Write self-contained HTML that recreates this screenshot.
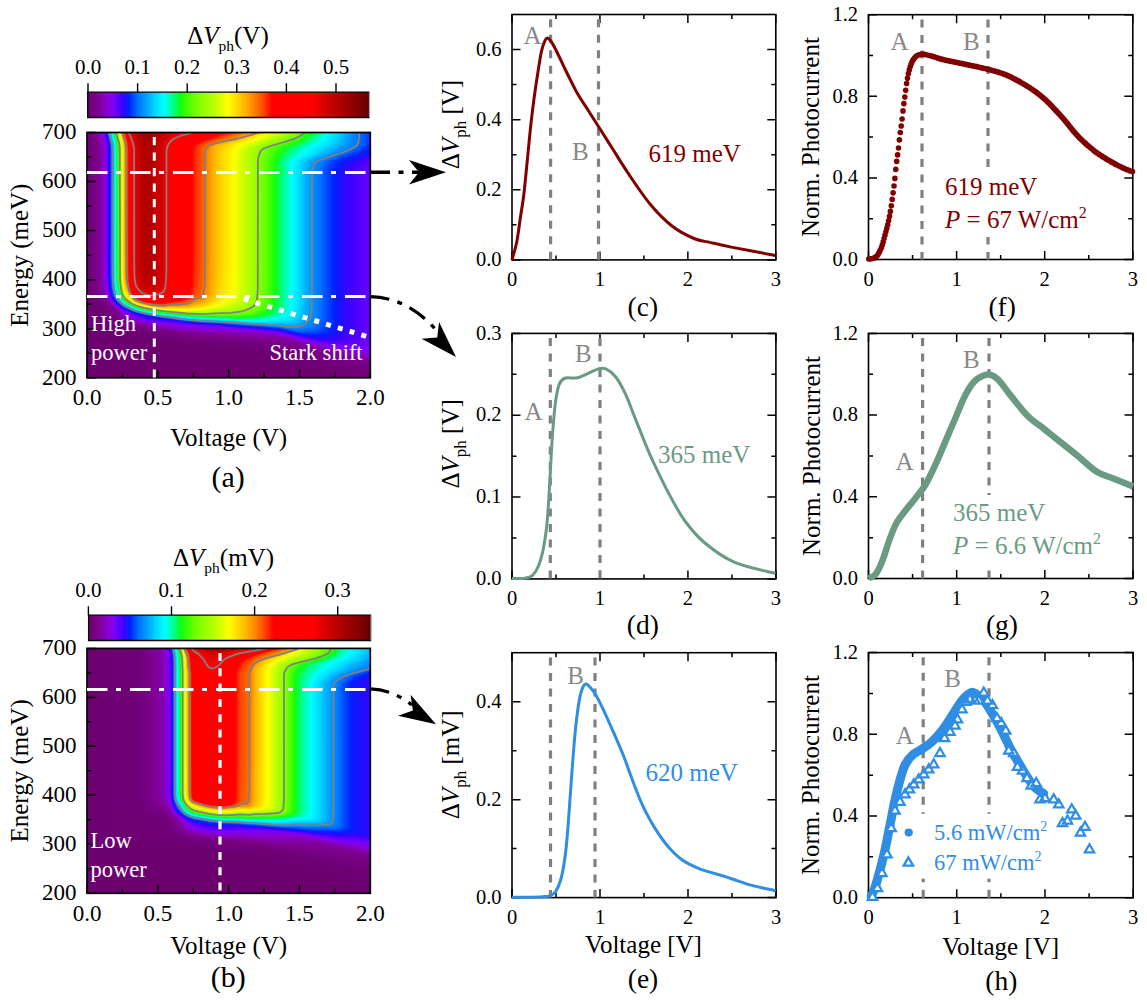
<!DOCTYPE html><html><head><meta charset="utf-8"><style>html,body{margin:0;padding:0;background:#fff;}svg{display:block;font-family:"Liberation Serif",serif;}</style></head><body><svg width="1147" height="1000" viewBox="0 0 1147 1000" font-family='"Liberation Serif", serif'><rect width="1147" height="1000" fill="#fff"/><defs><linearGradient id="hag" gradientUnits="userSpaceOnUse" x1="87" y1="0" x2="370.3" y2="0"><stop offset="0.0000" stop-color="#000000"/><stop offset="0.0212" stop-color="#040404"/><stop offset="0.0477" stop-color="#0c0c0c"/><stop offset="0.0653" stop-color="#141414"/><stop offset="0.0724" stop-color="#1a1a1a"/><stop offset="0.0838" stop-color="#292929"/><stop offset="0.0909" stop-color="#343434"/><stop offset="0.1050" stop-color="#505050"/><stop offset="0.1138" stop-color="#616161"/><stop offset="0.1200" stop-color="#707070"/><stop offset="0.1288" stop-color="#888888"/><stop offset="0.1333" stop-color="#919191"/><stop offset="0.1447" stop-color="#a2a2a2"/><stop offset="0.1535" stop-color="#b4b4b4"/><stop offset="0.1624" stop-color="#c6c6c6"/><stop offset="0.1685" stop-color="#cfcfcf"/><stop offset="0.1783" stop-color="#d8d8d8"/><stop offset="0.1888" stop-color="#dedede"/><stop offset="0.2030" stop-color="#e3e3e3"/><stop offset="0.2233" stop-color="#e3e3e3"/><stop offset="0.2400" stop-color="#dfdfdf"/><stop offset="0.2647" stop-color="#d7d7d7"/><stop offset="0.2736" stop-color="#d2d2d2"/><stop offset="0.2859" stop-color="#c8c8c8"/><stop offset="0.3027" stop-color="#c0c0c0"/><stop offset="0.3609" stop-color="#acacac"/><stop offset="0.3795" stop-color="#a3a3a3"/><stop offset="0.4086" stop-color="#9c9c9c"/><stop offset="0.4386" stop-color="#919191"/><stop offset="0.4686" stop-color="#898989"/><stop offset="0.5162" stop-color="#7f7f7f"/><stop offset="0.5780" stop-color="#6f6f6f"/><stop offset="0.5965" stop-color="#696969"/><stop offset="0.6115" stop-color="#646464"/><stop offset="0.6380" stop-color="#5c5c5c"/><stop offset="0.6671" stop-color="#535353"/><stop offset="0.7113" stop-color="#484848"/><stop offset="0.7695" stop-color="#383838"/><stop offset="0.8357" stop-color="#2b2b2b"/><stop offset="0.9045" stop-color="#212121"/><stop offset="0.9998" stop-color="#1a1a1a"/></linearGradient><linearGradient id="har0" gradientUnits="userSpaceOnUse" x1="87" y1="0" x2="370.3" y2="0"><stop offset="0.0000" stop-color="#020202"/><stop offset="0.0335" stop-color="#0c0c0c"/><stop offset="0.0538" stop-color="#151515"/><stop offset="0.0627" stop-color="#1f1f1f"/><stop offset="0.0768" stop-color="#333333"/><stop offset="0.1006" stop-color="#626262"/><stop offset="0.1165" stop-color="#8b8b8b"/><stop offset="0.1324" stop-color="#a7a7a7"/><stop offset="0.1500" stop-color="#d0d0d0"/><stop offset="0.1571" stop-color="#dbdbdb"/><stop offset="0.1685" stop-color="#e5e5e5"/><stop offset="0.1862" stop-color="#ececec"/><stop offset="0.2144" stop-color="#eeeeee"/><stop offset="0.2427" stop-color="#ececec"/><stop offset="0.3177" stop-color="#e0e0e0"/><stop offset="0.3406" stop-color="#d7d7d7"/><stop offset="0.3706" stop-color="#cbcbcb"/><stop offset="0.4483" stop-color="#b8b8b8"/><stop offset="0.5224" stop-color="#aaaaaa"/><stop offset="0.5577" stop-color="#a2a2a2"/><stop offset="0.5939" stop-color="#9c9c9c"/><stop offset="0.6345" stop-color="#8d8d8d"/><stop offset="0.6989" stop-color="#7d7d7d"/><stop offset="0.7466" stop-color="#6e6e6e"/><stop offset="0.7801" stop-color="#636363"/><stop offset="0.8145" stop-color="#585858"/><stop offset="0.8533" stop-color="#4e4e4e"/><stop offset="0.9451" stop-color="#363636"/><stop offset="0.9998" stop-color="#2c2c2c"/></linearGradient><linearGradient id="har1" gradientUnits="userSpaceOnUse" x1="87" y1="0" x2="370.3" y2="0"><stop offset="0.0000" stop-color="#020202"/><stop offset="0.0335" stop-color="#0b0b0b"/><stop offset="0.0547" stop-color="#151515"/><stop offset="0.0635" stop-color="#1e1e1e"/><stop offset="0.0777" stop-color="#333333"/><stop offset="0.1015" stop-color="#626262"/><stop offset="0.1174" stop-color="#8b8b8b"/><stop offset="0.1333" stop-color="#a7a7a7"/><stop offset="0.1509" stop-color="#cfcfcf"/><stop offset="0.1580" stop-color="#dadada"/><stop offset="0.1703" stop-color="#e4e4e4"/><stop offset="0.1888" stop-color="#ebebeb"/><stop offset="0.2197" stop-color="#ededed"/><stop offset="0.3036" stop-color="#e0e0e0"/><stop offset="0.3265" stop-color="#d8d8d8"/><stop offset="0.3547" stop-color="#cccccc"/><stop offset="0.4095" stop-color="#bebebe"/><stop offset="0.4580" stop-color="#b4b4b4"/><stop offset="0.5145" stop-color="#a9a9a9"/><stop offset="0.5471" stop-color="#a2a2a2"/><stop offset="0.5833" stop-color="#9c9c9c"/><stop offset="0.6221" stop-color="#8e8e8e"/><stop offset="0.6936" stop-color="#7c7c7c"/><stop offset="0.7589" stop-color="#686868"/><stop offset="0.7836" stop-color="#616161"/><stop offset="0.8357" stop-color="#515151"/><stop offset="0.8939" stop-color="#434343"/><stop offset="0.9478" stop-color="#363636"/><stop offset="0.9998" stop-color="#2c2c2c"/></linearGradient><linearGradient id="har2" gradientUnits="userSpaceOnUse" x1="87" y1="0" x2="370.3" y2="0"><stop offset="0.0000" stop-color="#020202"/><stop offset="0.0344" stop-color="#0b0b0b"/><stop offset="0.0556" stop-color="#151515"/><stop offset="0.0644" stop-color="#1e1e1e"/><stop offset="0.0785" stop-color="#333333"/><stop offset="0.1032" stop-color="#636363"/><stop offset="0.1182" stop-color="#8a8a8a"/><stop offset="0.1350" stop-color="#a8a8a8"/><stop offset="0.1518" stop-color="#cecece"/><stop offset="0.1588" stop-color="#d9d9d9"/><stop offset="0.1703" stop-color="#e2e2e2"/><stop offset="0.1880" stop-color="#e9e9e9"/><stop offset="0.2153" stop-color="#ececec"/><stop offset="0.2400" stop-color="#e9e9e9"/><stop offset="0.3018" stop-color="#dedede"/><stop offset="0.3247" stop-color="#d3d3d3"/><stop offset="0.3539" stop-color="#c8c8c8"/><stop offset="0.4298" stop-color="#b6b6b6"/><stop offset="0.4995" stop-color="#aaaaaa"/><stop offset="0.5339" stop-color="#a2a2a2"/><stop offset="0.5709" stop-color="#9c9c9c"/><stop offset="0.6098" stop-color="#8e8e8e"/><stop offset="0.6874" stop-color="#7c7c7c"/><stop offset="0.7527" stop-color="#686868"/><stop offset="0.7739" stop-color="#626262"/><stop offset="0.8330" stop-color="#515151"/><stop offset="0.8939" stop-color="#434343"/><stop offset="0.9486" stop-color="#353535"/><stop offset="0.9998" stop-color="#2c2c2c"/></linearGradient><linearGradient id="har3" gradientUnits="userSpaceOnUse" x1="87" y1="0" x2="370.3" y2="0"><stop offset="0.0000" stop-color="#020202"/><stop offset="0.0344" stop-color="#0b0b0b"/><stop offset="0.0565" stop-color="#151515"/><stop offset="0.0653" stop-color="#1e1e1e"/><stop offset="0.0794" stop-color="#323232"/><stop offset="0.1041" stop-color="#636363"/><stop offset="0.1191" stop-color="#8a8a8a"/><stop offset="0.1280" stop-color="#999999"/><stop offset="0.1377" stop-color="#ababab"/><stop offset="0.1527" stop-color="#cccccc"/><stop offset="0.1606" stop-color="#d8d8d8"/><stop offset="0.1730" stop-color="#e2e2e2"/><stop offset="0.1915" stop-color="#e9e9e9"/><stop offset="0.2224" stop-color="#ebebeb"/><stop offset="0.2921" stop-color="#dddddd"/><stop offset="0.3124" stop-color="#d4d4d4"/><stop offset="0.3371" stop-color="#c9c9c9"/><stop offset="0.3936" stop-color="#bbbbbb"/><stop offset="0.4880" stop-color="#a9a9a9"/><stop offset="0.5206" stop-color="#a2a2a2"/><stop offset="0.5568" stop-color="#9c9c9c"/><stop offset="0.5948" stop-color="#8e8e8e"/><stop offset="0.6795" stop-color="#7c7c7c"/><stop offset="0.7457" stop-color="#696969"/><stop offset="0.7669" stop-color="#626262"/><stop offset="0.8277" stop-color="#515151"/><stop offset="0.8904" stop-color="#434343"/><stop offset="0.9486" stop-color="#353535"/><stop offset="0.9998" stop-color="#2c2c2c"/></linearGradient><linearGradient id="har4" gradientUnits="userSpaceOnUse" x1="87" y1="0" x2="370.3" y2="0"><stop offset="0.0000" stop-color="#020202"/><stop offset="0.0344" stop-color="#0b0b0b"/><stop offset="0.0574" stop-color="#151515"/><stop offset="0.0662" stop-color="#1e1e1e"/><stop offset="0.0812" stop-color="#343434"/><stop offset="0.1050" stop-color="#636363"/><stop offset="0.1200" stop-color="#8a8a8a"/><stop offset="0.1280" stop-color="#989898"/><stop offset="0.1377" stop-color="#a8a8a8"/><stop offset="0.1535" stop-color="#cbcbcb"/><stop offset="0.1615" stop-color="#d7d7d7"/><stop offset="0.1738" stop-color="#e1e1e1"/><stop offset="0.1924" stop-color="#e8e8e8"/><stop offset="0.2224" stop-color="#eaeaea"/><stop offset="0.2859" stop-color="#dddddd"/><stop offset="0.3053" stop-color="#d3d3d3"/><stop offset="0.3283" stop-color="#c9c9c9"/><stop offset="0.3803" stop-color="#bbbbbb"/><stop offset="0.4730" stop-color="#a9a9a9"/><stop offset="0.5048" stop-color="#a2a2a2"/><stop offset="0.5427" stop-color="#9c9c9c"/><stop offset="0.5833" stop-color="#8e8e8e"/><stop offset="0.6680" stop-color="#7c7c7c"/><stop offset="0.7377" stop-color="#696969"/><stop offset="0.7598" stop-color="#626262"/><stop offset="0.8242" stop-color="#515151"/><stop offset="0.8878" stop-color="#434343"/><stop offset="0.9486" stop-color="#353535"/><stop offset="0.9998" stop-color="#2c2c2c"/></linearGradient><linearGradient id="har5" gradientUnits="userSpaceOnUse" x1="87" y1="0" x2="370.3" y2="0"><stop offset="0.0000" stop-color="#010101"/><stop offset="0.0344" stop-color="#0a0a0a"/><stop offset="0.0582" stop-color="#151515"/><stop offset="0.0671" stop-color="#1d1d1d"/><stop offset="0.0821" stop-color="#333333"/><stop offset="0.1068" stop-color="#646464"/><stop offset="0.1218" stop-color="#8b8b8b"/><stop offset="0.1315" stop-color="#9b9b9b"/><stop offset="0.1412" stop-color="#adadad"/><stop offset="0.1544" stop-color="#cacaca"/><stop offset="0.1624" stop-color="#d6d6d6"/><stop offset="0.1747" stop-color="#e0e0e0"/><stop offset="0.1924" stop-color="#e7e7e7"/><stop offset="0.2215" stop-color="#e9e9e9"/><stop offset="0.2718" stop-color="#dedede"/><stop offset="0.2912" stop-color="#d7d7d7"/><stop offset="0.3150" stop-color="#cacaca"/><stop offset="0.3530" stop-color="#bfbfbf"/><stop offset="0.4245" stop-color="#b1b1b1"/><stop offset="0.4677" stop-color="#a7a7a7"/><stop offset="0.4959" stop-color="#a1a1a1"/><stop offset="0.5312" stop-color="#9c9c9c"/><stop offset="0.5727" stop-color="#8e8e8e"/><stop offset="0.6592" stop-color="#7c7c7c"/><stop offset="0.7316" stop-color="#686868"/><stop offset="0.7554" stop-color="#626262"/><stop offset="0.8198" stop-color="#515151"/><stop offset="0.8842" stop-color="#444444"/><stop offset="0.9495" stop-color="#353535"/><stop offset="0.9998" stop-color="#2c2c2c"/></linearGradient><linearGradient id="har6" gradientUnits="userSpaceOnUse" x1="87" y1="0" x2="370.3" y2="0"><stop offset="0.0000" stop-color="#010101"/><stop offset="0.0344" stop-color="#0a0a0a"/><stop offset="0.0591" stop-color="#141414"/><stop offset="0.0679" stop-color="#1d1d1d"/><stop offset="0.0830" stop-color="#323232"/><stop offset="0.1077" stop-color="#636363"/><stop offset="0.1227" stop-color="#8a8a8a"/><stop offset="0.1306" stop-color="#989898"/><stop offset="0.1403" stop-color="#a8a8a8"/><stop offset="0.1562" stop-color="#cacaca"/><stop offset="0.1641" stop-color="#d6d6d6"/><stop offset="0.1765" stop-color="#dfdfdf"/><stop offset="0.1950" stop-color="#e6e6e6"/><stop offset="0.2241" stop-color="#e8e8e8"/><stop offset="0.2789" stop-color="#dadada"/><stop offset="0.3115" stop-color="#c9c9c9"/><stop offset="0.3503" stop-color="#bebebe"/><stop offset="0.4492" stop-color="#a9a9a9"/><stop offset="0.4792" stop-color="#a2a2a2"/><stop offset="0.5180" stop-color="#9c9c9c"/><stop offset="0.5612" stop-color="#8e8e8e"/><stop offset="0.6495" stop-color="#7c7c7c"/><stop offset="0.7236" stop-color="#686868"/><stop offset="0.7474" stop-color="#626262"/><stop offset="0.8154" stop-color="#515151"/><stop offset="0.8816" stop-color="#444444"/><stop offset="0.9504" stop-color="#353535"/><stop offset="0.9998" stop-color="#2c2c2c"/></linearGradient><linearGradient id="har7" gradientUnits="userSpaceOnUse" x1="87" y1="0" x2="370.3" y2="0"><stop offset="0.0000" stop-color="#010101"/><stop offset="0.0344" stop-color="#090909"/><stop offset="0.0600" stop-color="#141414"/><stop offset="0.0688" stop-color="#1c1c1c"/><stop offset="0.0838" stop-color="#323232"/><stop offset="0.1085" stop-color="#626262"/><stop offset="0.1244" stop-color="#8b8b8b"/><stop offset="0.1341" stop-color="#9b9b9b"/><stop offset="0.1438" stop-color="#adadad"/><stop offset="0.1571" stop-color="#c9c9c9"/><stop offset="0.1650" stop-color="#d5d5d5"/><stop offset="0.1774" stop-color="#dfdfdf"/><stop offset="0.1950" stop-color="#e5e5e5"/><stop offset="0.2233" stop-color="#e7e7e7"/><stop offset="0.2753" stop-color="#dadada"/><stop offset="0.2921" stop-color="#d1d1d1"/><stop offset="0.3115" stop-color="#c7c7c7"/><stop offset="0.3583" stop-color="#bababa"/><stop offset="0.4342" stop-color="#a9a9a9"/><stop offset="0.4615" stop-color="#a2a2a2"/><stop offset="0.5004" stop-color="#9c9c9c"/><stop offset="0.5454" stop-color="#8e8e8e"/><stop offset="0.6363" stop-color="#7c7c7c"/><stop offset="0.7139" stop-color="#686868"/><stop offset="0.7404" stop-color="#626262"/><stop offset="0.8092" stop-color="#515151"/><stop offset="0.8780" stop-color="#444444"/><stop offset="0.9539" stop-color="#343434"/><stop offset="0.9998" stop-color="#2c2c2c"/></linearGradient><linearGradient id="har8" gradientUnits="userSpaceOnUse" x1="87" y1="0" x2="370.3" y2="0"><stop offset="0.0000" stop-color="#010101"/><stop offset="0.0344" stop-color="#090909"/><stop offset="0.0609" stop-color="#141414"/><stop offset="0.0697" stop-color="#1c1c1c"/><stop offset="0.0856" stop-color="#333333"/><stop offset="0.1103" stop-color="#646464"/><stop offset="0.1253" stop-color="#8b8b8b"/><stop offset="0.1333" stop-color="#989898"/><stop offset="0.1430" stop-color="#a9a9a9"/><stop offset="0.1588" stop-color="#cacaca"/><stop offset="0.1668" stop-color="#d5d5d5"/><stop offset="0.1791" stop-color="#dfdfdf"/><stop offset="0.1968" stop-color="#e5e5e5"/><stop offset="0.2241" stop-color="#e7e7e7"/><stop offset="0.2736" stop-color="#dadada"/><stop offset="0.2903" stop-color="#d0d0d0"/><stop offset="0.3097" stop-color="#c6c6c6"/><stop offset="0.3636" stop-color="#b7b7b7"/><stop offset="0.4183" stop-color="#a9a9a9"/><stop offset="0.4430" stop-color="#a2a2a2"/><stop offset="0.4818" stop-color="#9b9b9b"/><stop offset="0.5259" stop-color="#8e8e8e"/><stop offset="0.6212" stop-color="#7c7c7c"/><stop offset="0.7016" stop-color="#686868"/><stop offset="0.7280" stop-color="#626262"/><stop offset="0.8022" stop-color="#515151"/><stop offset="0.8736" stop-color="#444444"/><stop offset="0.9848" stop-color="#2e2e2e"/><stop offset="0.9998" stop-color="#2b2b2b"/></linearGradient><linearGradient id="har9" gradientUnits="userSpaceOnUse" x1="87" y1="0" x2="370.3" y2="0"><stop offset="0.0000" stop-color="#010101"/><stop offset="0.0344" stop-color="#090909"/><stop offset="0.0618" stop-color="#141414"/><stop offset="0.0706" stop-color="#1c1c1c"/><stop offset="0.0865" stop-color="#333333"/><stop offset="0.1112" stop-color="#646464"/><stop offset="0.1262" stop-color="#8b8b8b"/><stop offset="0.1341" stop-color="#989898"/><stop offset="0.1438" stop-color="#a8a8a8"/><stop offset="0.1597" stop-color="#cacaca"/><stop offset="0.1685" stop-color="#d5d5d5"/><stop offset="0.1809" stop-color="#dfdfdf"/><stop offset="0.1986" stop-color="#e5e5e5"/><stop offset="0.2259" stop-color="#e6e6e6"/><stop offset="0.2727" stop-color="#d9d9d9"/><stop offset="0.3027" stop-color="#c7c7c7"/><stop offset="0.3415" stop-color="#bbbbbb"/><stop offset="0.4050" stop-color="#a9a9a9"/><stop offset="0.4280" stop-color="#a2a2a2"/><stop offset="0.4659" stop-color="#9b9b9b"/><stop offset="0.5092" stop-color="#8e8e8e"/><stop offset="0.6080" stop-color="#7c7c7c"/><stop offset="0.6892" stop-color="#686868"/><stop offset="0.7166" stop-color="#626262"/><stop offset="0.7942" stop-color="#525252"/><stop offset="0.8692" stop-color="#454545"/><stop offset="0.9998" stop-color="#2b2b2b"/></linearGradient><linearGradient id="har10" gradientUnits="userSpaceOnUse" x1="87" y1="0" x2="370.3" y2="0"><stop offset="0.0000" stop-color="#010101"/><stop offset="0.0335" stop-color="#080808"/><stop offset="0.0627" stop-color="#141414"/><stop offset="0.0715" stop-color="#1c1c1c"/><stop offset="0.0874" stop-color="#333333"/><stop offset="0.1121" stop-color="#646464"/><stop offset="0.1271" stop-color="#8b8b8b"/><stop offset="0.1350" stop-color="#989898"/><stop offset="0.1447" stop-color="#a8a8a8"/><stop offset="0.1597" stop-color="#c8c8c8"/><stop offset="0.1677" stop-color="#d3d3d3"/><stop offset="0.1800" stop-color="#dddddd"/><stop offset="0.1977" stop-color="#e4e4e4"/><stop offset="0.2241" stop-color="#e6e6e6"/><stop offset="0.2709" stop-color="#d9d9d9"/><stop offset="0.2868" stop-color="#cfcfcf"/><stop offset="0.3062" stop-color="#c4c4c4"/><stop offset="0.3742" stop-color="#b0b0b0"/><stop offset="0.4148" stop-color="#a2a2a2"/><stop offset="0.4501" stop-color="#9b9b9b"/><stop offset="0.4915" stop-color="#8f8f8f"/><stop offset="0.5957" stop-color="#7b7b7b"/><stop offset="0.6760" stop-color="#686868"/><stop offset="0.7024" stop-color="#626262"/><stop offset="0.7854" stop-color="#525252"/><stop offset="0.8639" stop-color="#454545"/><stop offset="0.9998" stop-color="#2b2b2b"/></linearGradient><linearGradient id="har11" gradientUnits="userSpaceOnUse" x1="87" y1="0" x2="370.3" y2="0"><stop offset="0.0000" stop-color="#010101"/><stop offset="0.0335" stop-color="#080808"/><stop offset="0.0627" stop-color="#141414"/><stop offset="0.0715" stop-color="#1b1b1b"/><stop offset="0.0874" stop-color="#323232"/><stop offset="0.1121" stop-color="#626262"/><stop offset="0.1280" stop-color="#8b8b8b"/><stop offset="0.1359" stop-color="#989898"/><stop offset="0.1456" stop-color="#a9a9a9"/><stop offset="0.1606" stop-color="#c8c8c8"/><stop offset="0.1694" stop-color="#d4d4d4"/><stop offset="0.1818" stop-color="#dedede"/><stop offset="0.1994" stop-color="#e4e4e4"/><stop offset="0.2250" stop-color="#e5e5e5"/><stop offset="0.2700" stop-color="#d8d8d8"/><stop offset="0.2983" stop-color="#c7c7c7"/><stop offset="0.3415" stop-color="#b7b7b7"/><stop offset="0.3839" stop-color="#a9a9a9"/><stop offset="0.4033" stop-color="#a2a2a2"/><stop offset="0.4377" stop-color="#9b9b9b"/><stop offset="0.4765" stop-color="#8f8f8f"/><stop offset="0.5833" stop-color="#7b7b7b"/><stop offset="0.6636" stop-color="#686868"/><stop offset="0.6910" stop-color="#626262"/><stop offset="0.7757" stop-color="#525252"/><stop offset="0.8586" stop-color="#454545"/><stop offset="0.9998" stop-color="#2b2b2b"/></linearGradient><linearGradient id="har12" gradientUnits="userSpaceOnUse" x1="87" y1="0" x2="370.3" y2="0"><stop offset="0.0000" stop-color="#010101"/><stop offset="0.0327" stop-color="#070707"/><stop offset="0.0627" stop-color="#131313"/><stop offset="0.0724" stop-color="#1c1c1c"/><stop offset="0.0882" stop-color="#323232"/><stop offset="0.1130" stop-color="#636363"/><stop offset="0.1280" stop-color="#8a8a8a"/><stop offset="0.1350" stop-color="#969696"/><stop offset="0.1447" stop-color="#a6a6a6"/><stop offset="0.1615" stop-color="#c8c8c8"/><stop offset="0.1703" stop-color="#d4d4d4"/><stop offset="0.1827" stop-color="#dddddd"/><stop offset="0.2003" stop-color="#e4e4e4"/><stop offset="0.2259" stop-color="#e4e4e4"/><stop offset="0.2691" stop-color="#d8d8d8"/><stop offset="0.2965" stop-color="#c6c6c6"/><stop offset="0.3406" stop-color="#b6b6b6"/><stop offset="0.3786" stop-color="#a9a9a9"/><stop offset="0.3962" stop-color="#a2a2a2"/><stop offset="0.4289" stop-color="#9b9b9b"/><stop offset="0.4659" stop-color="#8f8f8f"/><stop offset="0.5189" stop-color="#858585"/><stop offset="0.5860" stop-color="#777777"/><stop offset="0.6521" stop-color="#686868"/><stop offset="0.6786" stop-color="#626262"/><stop offset="0.7660" stop-color="#525252"/><stop offset="0.8533" stop-color="#454545"/><stop offset="0.9998" stop-color="#2b2b2b"/></linearGradient><linearGradient id="har13" gradientUnits="userSpaceOnUse" x1="87" y1="0" x2="370.3" y2="0"><stop offset="0.0000" stop-color="#000000"/><stop offset="0.0327" stop-color="#070707"/><stop offset="0.0627" stop-color="#131313"/><stop offset="0.0724" stop-color="#1b1b1b"/><stop offset="0.0882" stop-color="#313131"/><stop offset="0.1130" stop-color="#626262"/><stop offset="0.1235" stop-color="#7e7e7e"/><stop offset="0.1297" stop-color="#8d8d8d"/><stop offset="0.1456" stop-color="#a6a6a6"/><stop offset="0.1615" stop-color="#c7c7c7"/><stop offset="0.1703" stop-color="#d3d3d3"/><stop offset="0.1827" stop-color="#dddddd"/><stop offset="0.2003" stop-color="#e3e3e3"/><stop offset="0.2259" stop-color="#e4e4e4"/><stop offset="0.2683" stop-color="#d7d7d7"/><stop offset="0.2947" stop-color="#c6c6c6"/><stop offset="0.3371" stop-color="#b7b7b7"/><stop offset="0.3750" stop-color="#a9a9a9"/><stop offset="0.3927" stop-color="#a2a2a2"/><stop offset="0.4236" stop-color="#9b9b9b"/><stop offset="0.4598" stop-color="#8f8f8f"/><stop offset="0.5109" stop-color="#858585"/><stop offset="0.5762" stop-color="#777777"/><stop offset="0.6407" stop-color="#696969"/><stop offset="0.6663" stop-color="#626262"/><stop offset="0.7545" stop-color="#525252"/><stop offset="0.8463" stop-color="#454545"/><stop offset="0.9998" stop-color="#2a2a2a"/></linearGradient><linearGradient id="har14" gradientUnits="userSpaceOnUse" x1="87" y1="0" x2="370.3" y2="0"><stop offset="0.0000" stop-color="#000000"/><stop offset="0.0318" stop-color="#070707"/><stop offset="0.0627" stop-color="#131313"/><stop offset="0.0724" stop-color="#1b1b1b"/><stop offset="0.0882" stop-color="#313131"/><stop offset="0.1138" stop-color="#636363"/><stop offset="0.1288" stop-color="#8a8a8a"/><stop offset="0.1359" stop-color="#969696"/><stop offset="0.1456" stop-color="#a5a5a5"/><stop offset="0.1624" stop-color="#c7c7c7"/><stop offset="0.1712" stop-color="#d3d3d3"/><stop offset="0.1836" stop-color="#dcdcdc"/><stop offset="0.2012" stop-color="#e3e3e3"/><stop offset="0.2259" stop-color="#e3e3e3"/><stop offset="0.2674" stop-color="#d7d7d7"/><stop offset="0.2939" stop-color="#c6c6c6"/><stop offset="0.3397" stop-color="#b5b5b5"/><stop offset="0.3724" stop-color="#a9a9a9"/><stop offset="0.3892" stop-color="#a2a2a2"/><stop offset="0.4200" stop-color="#9b9b9b"/><stop offset="0.4545" stop-color="#8f8f8f"/><stop offset="0.5030" stop-color="#868686"/><stop offset="0.5657" stop-color="#787878"/><stop offset="0.6301" stop-color="#686868"/><stop offset="0.6548" stop-color="#626262"/><stop offset="0.7413" stop-color="#525252"/><stop offset="0.8392" stop-color="#454545"/><stop offset="0.9998" stop-color="#2a2a2a"/></linearGradient><linearGradient id="har15" gradientUnits="userSpaceOnUse" x1="87" y1="0" x2="370.3" y2="0"><stop offset="0.0000" stop-color="#000000"/><stop offset="0.0318" stop-color="#070707"/><stop offset="0.0627" stop-color="#131313"/><stop offset="0.0724" stop-color="#1a1a1a"/><stop offset="0.0891" stop-color="#323232"/><stop offset="0.1138" stop-color="#626262"/><stop offset="0.1297" stop-color="#8b8b8b"/><stop offset="0.1368" stop-color="#979797"/><stop offset="0.1465" stop-color="#a6a6a6"/><stop offset="0.1624" stop-color="#c7c7c7"/><stop offset="0.1712" stop-color="#d2d2d2"/><stop offset="0.1836" stop-color="#dcdcdc"/><stop offset="0.2012" stop-color="#e2e2e2"/><stop offset="0.2259" stop-color="#e3e3e3"/><stop offset="0.2674" stop-color="#d7d7d7"/><stop offset="0.2921" stop-color="#c6c6c6"/><stop offset="0.3309" stop-color="#b8b8b8"/><stop offset="0.3697" stop-color="#a9a9a9"/><stop offset="0.3865" stop-color="#a2a2a2"/><stop offset="0.4174" stop-color="#9b9b9b"/><stop offset="0.4509" stop-color="#8f8f8f"/><stop offset="0.4995" stop-color="#858585"/><stop offset="0.5595" stop-color="#787878"/><stop offset="0.6204" stop-color="#696969"/><stop offset="0.6433" stop-color="#626262"/><stop offset="0.7298" stop-color="#525252"/><stop offset="0.8313" stop-color="#444444"/><stop offset="0.9998" stop-color="#292929"/></linearGradient><linearGradient id="har16" gradientUnits="userSpaceOnUse" x1="87" y1="0" x2="370.3" y2="0"><stop offset="0.0000" stop-color="#000000"/><stop offset="0.0309" stop-color="#060606"/><stop offset="0.0627" stop-color="#131313"/><stop offset="0.0724" stop-color="#1a1a1a"/><stop offset="0.0891" stop-color="#313131"/><stop offset="0.1138" stop-color="#626262"/><stop offset="0.1244" stop-color="#7e7e7e"/><stop offset="0.1315" stop-color="#8e8e8e"/><stop offset="0.1465" stop-color="#a6a6a6"/><stop offset="0.1624" stop-color="#c6c6c6"/><stop offset="0.1712" stop-color="#d2d2d2"/><stop offset="0.1836" stop-color="#dcdcdc"/><stop offset="0.2003" stop-color="#e2e2e2"/><stop offset="0.2250" stop-color="#e3e3e3"/><stop offset="0.2665" stop-color="#d7d7d7"/><stop offset="0.2921" stop-color="#c6c6c6"/><stop offset="0.3371" stop-color="#b5b5b5"/><stop offset="0.3689" stop-color="#a9a9a9"/><stop offset="0.3856" stop-color="#a2a2a2"/><stop offset="0.4148" stop-color="#9b9b9b"/><stop offset="0.4483" stop-color="#8f8f8f"/><stop offset="0.4951" stop-color="#858585"/><stop offset="0.5533" stop-color="#787878"/><stop offset="0.6142" stop-color="#686868"/><stop offset="0.6363" stop-color="#626262"/><stop offset="0.7210" stop-color="#525252"/><stop offset="0.8251" stop-color="#444444"/><stop offset="0.9998" stop-color="#282828"/></linearGradient><linearGradient id="har17" gradientUnits="userSpaceOnUse" x1="87" y1="0" x2="370.3" y2="0"><stop offset="0.0000" stop-color="#000000"/><stop offset="0.0309" stop-color="#060606"/><stop offset="0.0627" stop-color="#121212"/><stop offset="0.0724" stop-color="#1a1a1a"/><stop offset="0.0891" stop-color="#313131"/><stop offset="0.1147" stop-color="#636363"/><stop offset="0.1297" stop-color="#8a8a8a"/><stop offset="0.1368" stop-color="#969696"/><stop offset="0.1465" stop-color="#a6a6a6"/><stop offset="0.1633" stop-color="#c7c7c7"/><stop offset="0.1721" stop-color="#d3d3d3"/><stop offset="0.1844" stop-color="#dcdcdc"/><stop offset="0.2021" stop-color="#e2e2e2"/><stop offset="0.2259" stop-color="#e3e3e3"/><stop offset="0.2665" stop-color="#d7d7d7"/><stop offset="0.2912" stop-color="#c6c6c6"/><stop offset="0.3318" stop-color="#b7b7b7"/><stop offset="0.3671" stop-color="#aaaaaa"/><stop offset="0.3839" stop-color="#a2a2a2"/><stop offset="0.4139" stop-color="#9b9b9b"/><stop offset="0.4465" stop-color="#8f8f8f"/><stop offset="0.4933" stop-color="#858585"/><stop offset="0.5507" stop-color="#787878"/><stop offset="0.6098" stop-color="#696969"/><stop offset="0.6318" stop-color="#626262"/><stop offset="0.7157" stop-color="#525252"/><stop offset="0.8198" stop-color="#444444"/><stop offset="0.9972" stop-color="#282828"/><stop offset="0.9998" stop-color="#282828"/></linearGradient><linearGradient id="har18" gradientUnits="userSpaceOnUse" x1="87" y1="0" x2="370.3" y2="0"><stop offset="0.0000" stop-color="#000000"/><stop offset="0.0309" stop-color="#060606"/><stop offset="0.0627" stop-color="#121212"/><stop offset="0.0724" stop-color="#1a1a1a"/><stop offset="0.0891" stop-color="#313131"/><stop offset="0.1147" stop-color="#636363"/><stop offset="0.1297" stop-color="#8a8a8a"/><stop offset="0.1368" stop-color="#969696"/><stop offset="0.1465" stop-color="#a6a6a6"/><stop offset="0.1633" stop-color="#c7c7c7"/><stop offset="0.1721" stop-color="#d3d3d3"/><stop offset="0.1844" stop-color="#dcdcdc"/><stop offset="0.2021" stop-color="#e2e2e2"/><stop offset="0.2259" stop-color="#e3e3e3"/><stop offset="0.2656" stop-color="#d7d7d7"/><stop offset="0.2912" stop-color="#c5c5c5"/><stop offset="0.3362" stop-color="#b5b5b5"/><stop offset="0.3671" stop-color="#a9a9a9"/><stop offset="0.3830" stop-color="#a2a2a2"/><stop offset="0.4121" stop-color="#9b9b9b"/><stop offset="0.4456" stop-color="#8f8f8f"/><stop offset="0.4959" stop-color="#858585"/><stop offset="0.5533" stop-color="#777777"/><stop offset="0.6062" stop-color="#696969"/><stop offset="0.6274" stop-color="#636363"/><stop offset="0.7104" stop-color="#525252"/><stop offset="0.8127" stop-color="#444444"/><stop offset="0.9866" stop-color="#282828"/><stop offset="0.9998" stop-color="#272727"/></linearGradient><linearGradient id="har19" gradientUnits="userSpaceOnUse" x1="87" y1="0" x2="370.3" y2="0"><stop offset="0.0000" stop-color="#000000"/><stop offset="0.0309" stop-color="#060606"/><stop offset="0.0627" stop-color="#121212"/><stop offset="0.0724" stop-color="#1a1a1a"/><stop offset="0.0891" stop-color="#313131"/><stop offset="0.1147" stop-color="#636363"/><stop offset="0.1297" stop-color="#8a8a8a"/><stop offset="0.1368" stop-color="#969696"/><stop offset="0.1465" stop-color="#a5a5a5"/><stop offset="0.1633" stop-color="#c7c7c7"/><stop offset="0.1721" stop-color="#d3d3d3"/><stop offset="0.1844" stop-color="#dcdcdc"/><stop offset="0.2012" stop-color="#e2e2e2"/><stop offset="0.2259" stop-color="#e3e3e3"/><stop offset="0.2656" stop-color="#d7d7d7"/><stop offset="0.2903" stop-color="#c6c6c6"/><stop offset="0.3283" stop-color="#b8b8b8"/><stop offset="0.3662" stop-color="#a9a9a9"/><stop offset="0.3830" stop-color="#a2a2a2"/><stop offset="0.4112" stop-color="#9b9b9b"/><stop offset="0.4448" stop-color="#8f8f8f"/><stop offset="0.4951" stop-color="#858585"/><stop offset="0.5515" stop-color="#777777"/><stop offset="0.6045" stop-color="#696969"/><stop offset="0.6257" stop-color="#636363"/><stop offset="0.7060" stop-color="#525252"/><stop offset="0.8066" stop-color="#444444"/><stop offset="0.9751" stop-color="#292929"/><stop offset="0.9998" stop-color="#262626"/></linearGradient><linearGradient id="har20" gradientUnits="userSpaceOnUse" x1="87" y1="0" x2="370.3" y2="0"><stop offset="0.0000" stop-color="#000000"/><stop offset="0.0309" stop-color="#060606"/><stop offset="0.0627" stop-color="#121212"/><stop offset="0.0724" stop-color="#1a1a1a"/><stop offset="0.0891" stop-color="#313131"/><stop offset="0.1147" stop-color="#636363"/><stop offset="0.1297" stop-color="#8a8a8a"/><stop offset="0.1368" stop-color="#969696"/><stop offset="0.1465" stop-color="#a5a5a5"/><stop offset="0.1633" stop-color="#c7c7c7"/><stop offset="0.1721" stop-color="#d3d3d3"/><stop offset="0.1844" stop-color="#dcdcdc"/><stop offset="0.2012" stop-color="#e2e2e2"/><stop offset="0.2259" stop-color="#e3e3e3"/><stop offset="0.2656" stop-color="#d7d7d7"/><stop offset="0.2903" stop-color="#c6c6c6"/><stop offset="0.3292" stop-color="#b7b7b7"/><stop offset="0.3662" stop-color="#a9a9a9"/><stop offset="0.3830" stop-color="#a2a2a2"/><stop offset="0.4112" stop-color="#9b9b9b"/><stop offset="0.4439" stop-color="#8f8f8f"/><stop offset="0.4898" stop-color="#858585"/><stop offset="0.5454" stop-color="#787878"/><stop offset="0.6027" stop-color="#696969"/><stop offset="0.6239" stop-color="#626262"/><stop offset="0.7016" stop-color="#525252"/><stop offset="0.7995" stop-color="#444444"/><stop offset="0.9566" stop-color="#2a2a2a"/><stop offset="0.9998" stop-color="#252525"/></linearGradient><linearGradient id="har21" gradientUnits="userSpaceOnUse" x1="87" y1="0" x2="370.3" y2="0"><stop offset="0.0000" stop-color="#000000"/><stop offset="0.0309" stop-color="#060606"/><stop offset="0.0627" stop-color="#121212"/><stop offset="0.0724" stop-color="#1a1a1a"/><stop offset="0.0891" stop-color="#313131"/><stop offset="0.1147" stop-color="#636363"/><stop offset="0.1297" stop-color="#8a8a8a"/><stop offset="0.1368" stop-color="#969696"/><stop offset="0.1465" stop-color="#a5a5a5"/><stop offset="0.1633" stop-color="#c7c7c7"/><stop offset="0.1721" stop-color="#d3d3d3"/><stop offset="0.1844" stop-color="#dcdcdc"/><stop offset="0.2012" stop-color="#e2e2e2"/><stop offset="0.2259" stop-color="#e3e3e3"/><stop offset="0.2656" stop-color="#d7d7d7"/><stop offset="0.2903" stop-color="#c6c6c6"/><stop offset="0.3292" stop-color="#b7b7b7"/><stop offset="0.3662" stop-color="#a9a9a9"/><stop offset="0.3830" stop-color="#a2a2a2"/><stop offset="0.4112" stop-color="#9b9b9b"/><stop offset="0.4448" stop-color="#8f8f8f"/><stop offset="0.5348" stop-color="#7b7b7b"/><stop offset="0.6018" stop-color="#696969"/><stop offset="0.6230" stop-color="#626262"/><stop offset="0.6980" stop-color="#525252"/><stop offset="0.7924" stop-color="#434343"/><stop offset="0.9292" stop-color="#2c2c2c"/><stop offset="0.9998" stop-color="#242424"/></linearGradient><linearGradient id="har22" gradientUnits="userSpaceOnUse" x1="87" y1="0" x2="370.3" y2="0"><stop offset="0.0000" stop-color="#000000"/><stop offset="0.0309" stop-color="#060606"/><stop offset="0.0627" stop-color="#121212"/><stop offset="0.0724" stop-color="#1a1a1a"/><stop offset="0.0891" stop-color="#313131"/><stop offset="0.1147" stop-color="#636363"/><stop offset="0.1297" stop-color="#8a8a8a"/><stop offset="0.1368" stop-color="#969696"/><stop offset="0.1465" stop-color="#a5a5a5"/><stop offset="0.1633" stop-color="#c7c7c7"/><stop offset="0.1721" stop-color="#d3d3d3"/><stop offset="0.1844" stop-color="#dcdcdc"/><stop offset="0.2012" stop-color="#e2e2e2"/><stop offset="0.2259" stop-color="#e3e3e3"/><stop offset="0.2656" stop-color="#d7d7d7"/><stop offset="0.2903" stop-color="#c6c6c6"/><stop offset="0.3292" stop-color="#b7b7b7"/><stop offset="0.3662" stop-color="#a9a9a9"/><stop offset="0.3830" stop-color="#a2a2a2"/><stop offset="0.4112" stop-color="#9b9b9b"/><stop offset="0.4448" stop-color="#8f8f8f"/><stop offset="0.5339" stop-color="#7b7b7b"/><stop offset="0.6010" stop-color="#686868"/><stop offset="0.6221" stop-color="#626262"/><stop offset="0.6936" stop-color="#525252"/><stop offset="0.7845" stop-color="#434343"/><stop offset="0.9019" stop-color="#2f2f2f"/><stop offset="0.9998" stop-color="#232323"/></linearGradient><linearGradient id="har23" gradientUnits="userSpaceOnUse" x1="87" y1="0" x2="370.3" y2="0"><stop offset="0.0000" stop-color="#000000"/><stop offset="0.0309" stop-color="#060606"/><stop offset="0.0627" stop-color="#121212"/><stop offset="0.0724" stop-color="#1a1a1a"/><stop offset="0.0891" stop-color="#313131"/><stop offset="0.1147" stop-color="#636363"/><stop offset="0.1297" stop-color="#8a8a8a"/><stop offset="0.1368" stop-color="#969696"/><stop offset="0.1465" stop-color="#a5a5a5"/><stop offset="0.1633" stop-color="#c7c7c7"/><stop offset="0.1721" stop-color="#d3d3d3"/><stop offset="0.1844" stop-color="#dcdcdc"/><stop offset="0.2012" stop-color="#e2e2e2"/><stop offset="0.2259" stop-color="#e3e3e3"/><stop offset="0.2656" stop-color="#d7d7d7"/><stop offset="0.2903" stop-color="#c6c6c6"/><stop offset="0.3292" stop-color="#b7b7b7"/><stop offset="0.3662" stop-color="#a9a9a9"/><stop offset="0.3830" stop-color="#a2a2a2"/><stop offset="0.4112" stop-color="#9b9b9b"/><stop offset="0.4448" stop-color="#8f8f8f"/><stop offset="0.5339" stop-color="#7b7b7b"/><stop offset="0.5992" stop-color="#696969"/><stop offset="0.6195" stop-color="#636363"/><stop offset="0.6901" stop-color="#525252"/><stop offset="0.7766" stop-color="#434343"/><stop offset="0.8577" stop-color="#343434"/><stop offset="0.9451" stop-color="#272727"/><stop offset="0.9998" stop-color="#222222"/></linearGradient><linearGradient id="har24" gradientUnits="userSpaceOnUse" x1="87" y1="0" x2="370.3" y2="0"><stop offset="0.0000" stop-color="#000000"/><stop offset="0.0309" stop-color="#060606"/><stop offset="0.0627" stop-color="#121212"/><stop offset="0.0724" stop-color="#1a1a1a"/><stop offset="0.0891" stop-color="#313131"/><stop offset="0.1147" stop-color="#636363"/><stop offset="0.1297" stop-color="#8a8a8a"/><stop offset="0.1368" stop-color="#969696"/><stop offset="0.1465" stop-color="#a5a5a5"/><stop offset="0.1633" stop-color="#c7c7c7"/><stop offset="0.1721" stop-color="#d3d3d3"/><stop offset="0.1844" stop-color="#dcdcdc"/><stop offset="0.2012" stop-color="#e2e2e2"/><stop offset="0.2259" stop-color="#e3e3e3"/><stop offset="0.2656" stop-color="#d7d7d7"/><stop offset="0.2903" stop-color="#c6c6c6"/><stop offset="0.3292" stop-color="#b7b7b7"/><stop offset="0.3662" stop-color="#a9a9a9"/><stop offset="0.3830" stop-color="#a2a2a2"/><stop offset="0.4112" stop-color="#9b9b9b"/><stop offset="0.4448" stop-color="#8f8f8f"/><stop offset="0.5330" stop-color="#7b7b7b"/><stop offset="0.5992" stop-color="#686868"/><stop offset="0.6204" stop-color="#626262"/><stop offset="0.6866" stop-color="#525252"/><stop offset="0.7686" stop-color="#434343"/><stop offset="0.8419" stop-color="#353535"/><stop offset="0.9283" stop-color="#282828"/><stop offset="0.9998" stop-color="#212121"/></linearGradient><linearGradient id="har25" gradientUnits="userSpaceOnUse" x1="87" y1="0" x2="370.3" y2="0"><stop offset="0.0000" stop-color="#000000"/><stop offset="0.0309" stop-color="#060606"/><stop offset="0.0627" stop-color="#121212"/><stop offset="0.0724" stop-color="#1a1a1a"/><stop offset="0.0891" stop-color="#313131"/><stop offset="0.1147" stop-color="#636363"/><stop offset="0.1297" stop-color="#8a8a8a"/><stop offset="0.1368" stop-color="#969696"/><stop offset="0.1465" stop-color="#a5a5a5"/><stop offset="0.1633" stop-color="#c7c7c7"/><stop offset="0.1721" stop-color="#d3d3d3"/><stop offset="0.1844" stop-color="#dcdcdc"/><stop offset="0.2012" stop-color="#e2e2e2"/><stop offset="0.2259" stop-color="#e3e3e3"/><stop offset="0.2656" stop-color="#d7d7d7"/><stop offset="0.2903" stop-color="#c6c6c6"/><stop offset="0.3292" stop-color="#b7b7b7"/><stop offset="0.3662" stop-color="#a9a9a9"/><stop offset="0.3830" stop-color="#a2a2a2"/><stop offset="0.4112" stop-color="#9b9b9b"/><stop offset="0.4448" stop-color="#8f8f8f"/><stop offset="0.5330" stop-color="#7b7b7b"/><stop offset="0.5983" stop-color="#696969"/><stop offset="0.6195" stop-color="#626262"/><stop offset="0.6839" stop-color="#525252"/><stop offset="0.7616" stop-color="#424242"/><stop offset="0.8286" stop-color="#353535"/><stop offset="0.9133" stop-color="#282828"/><stop offset="0.9998" stop-color="#202020"/></linearGradient><linearGradient id="har26" gradientUnits="userSpaceOnUse" x1="87" y1="0" x2="370.3" y2="0"><stop offset="0.0000" stop-color="#000000"/><stop offset="0.0309" stop-color="#060606"/><stop offset="0.0627" stop-color="#121212"/><stop offset="0.0724" stop-color="#1a1a1a"/><stop offset="0.0891" stop-color="#313131"/><stop offset="0.1147" stop-color="#636363"/><stop offset="0.1297" stop-color="#8a8a8a"/><stop offset="0.1368" stop-color="#969696"/><stop offset="0.1465" stop-color="#a5a5a5"/><stop offset="0.1633" stop-color="#c7c7c7"/><stop offset="0.1721" stop-color="#d3d3d3"/><stop offset="0.1844" stop-color="#dcdcdc"/><stop offset="0.2012" stop-color="#e2e2e2"/><stop offset="0.2259" stop-color="#e3e3e3"/><stop offset="0.2656" stop-color="#d7d7d7"/><stop offset="0.2903" stop-color="#c6c6c6"/><stop offset="0.3292" stop-color="#b7b7b7"/><stop offset="0.3662" stop-color="#a9a9a9"/><stop offset="0.3830" stop-color="#a2a2a2"/><stop offset="0.4112" stop-color="#9b9b9b"/><stop offset="0.4448" stop-color="#8f8f8f"/><stop offset="0.5321" stop-color="#7b7b7b"/><stop offset="0.5974" stop-color="#696969"/><stop offset="0.6186" stop-color="#626262"/><stop offset="0.6821" stop-color="#525252"/><stop offset="0.7554" stop-color="#424242"/><stop offset="0.8180" stop-color="#353535"/><stop offset="0.9010" stop-color="#292929"/><stop offset="0.9998" stop-color="#1f1f1f"/></linearGradient><linearGradient id="har27" gradientUnits="userSpaceOnUse" x1="87" y1="0" x2="370.3" y2="0"><stop offset="0.0000" stop-color="#000000"/><stop offset="0.0309" stop-color="#060606"/><stop offset="0.0627" stop-color="#121212"/><stop offset="0.0724" stop-color="#1a1a1a"/><stop offset="0.0891" stop-color="#313131"/><stop offset="0.1147" stop-color="#636363"/><stop offset="0.1297" stop-color="#8a8a8a"/><stop offset="0.1368" stop-color="#969696"/><stop offset="0.1465" stop-color="#a5a5a5"/><stop offset="0.1633" stop-color="#c7c7c7"/><stop offset="0.1721" stop-color="#d3d3d3"/><stop offset="0.1844" stop-color="#dcdcdc"/><stop offset="0.2012" stop-color="#e2e2e2"/><stop offset="0.2259" stop-color="#e3e3e3"/><stop offset="0.2656" stop-color="#d7d7d7"/><stop offset="0.2903" stop-color="#c6c6c6"/><stop offset="0.3292" stop-color="#b7b7b7"/><stop offset="0.3662" stop-color="#a9a9a9"/><stop offset="0.3830" stop-color="#a2a2a2"/><stop offset="0.4112" stop-color="#9b9b9b"/><stop offset="0.4448" stop-color="#8f8f8f"/><stop offset="0.5321" stop-color="#7b7b7b"/><stop offset="0.5974" stop-color="#696969"/><stop offset="0.6186" stop-color="#626262"/><stop offset="0.6804" stop-color="#515151"/><stop offset="0.7492" stop-color="#424242"/><stop offset="0.8083" stop-color="#353535"/><stop offset="0.8869" stop-color="#292929"/><stop offset="0.9972" stop-color="#1e1e1e"/><stop offset="0.9998" stop-color="#1e1e1e"/></linearGradient><linearGradient id="har28" gradientUnits="userSpaceOnUse" x1="87" y1="0" x2="370.3" y2="0"><stop offset="0.0000" stop-color="#000000"/><stop offset="0.0309" stop-color="#060606"/><stop offset="0.0627" stop-color="#121212"/><stop offset="0.0724" stop-color="#1a1a1a"/><stop offset="0.0891" stop-color="#313131"/><stop offset="0.1147" stop-color="#636363"/><stop offset="0.1297" stop-color="#8a8a8a"/><stop offset="0.1368" stop-color="#969696"/><stop offset="0.1465" stop-color="#a5a5a5"/><stop offset="0.1633" stop-color="#c7c7c7"/><stop offset="0.1721" stop-color="#d3d3d3"/><stop offset="0.1844" stop-color="#dcdcdc"/><stop offset="0.2012" stop-color="#e2e2e2"/><stop offset="0.2259" stop-color="#e3e3e3"/><stop offset="0.2656" stop-color="#d7d7d7"/><stop offset="0.2903" stop-color="#c6c6c6"/><stop offset="0.3292" stop-color="#b7b7b7"/><stop offset="0.3662" stop-color="#a9a9a9"/><stop offset="0.3830" stop-color="#a2a2a2"/><stop offset="0.4112" stop-color="#9b9b9b"/><stop offset="0.4448" stop-color="#8f8f8f"/><stop offset="0.5321" stop-color="#7b7b7b"/><stop offset="0.5974" stop-color="#696969"/><stop offset="0.6186" stop-color="#626262"/><stop offset="0.6786" stop-color="#515151"/><stop offset="0.7439" stop-color="#424242"/><stop offset="0.7995" stop-color="#353535"/><stop offset="0.8745" stop-color="#292929"/><stop offset="0.9813" stop-color="#1f1f1f"/><stop offset="0.9998" stop-color="#1d1d1d"/></linearGradient><linearGradient id="har29" gradientUnits="userSpaceOnUse" x1="87" y1="0" x2="370.3" y2="0"><stop offset="0.0000" stop-color="#000000"/><stop offset="0.0309" stop-color="#060606"/><stop offset="0.0627" stop-color="#121212"/><stop offset="0.0724" stop-color="#1a1a1a"/><stop offset="0.0891" stop-color="#313131"/><stop offset="0.1147" stop-color="#636363"/><stop offset="0.1297" stop-color="#8a8a8a"/><stop offset="0.1368" stop-color="#969696"/><stop offset="0.1465" stop-color="#a5a5a5"/><stop offset="0.1633" stop-color="#c7c7c7"/><stop offset="0.1721" stop-color="#d3d3d3"/><stop offset="0.1844" stop-color="#dcdcdc"/><stop offset="0.2012" stop-color="#e2e2e2"/><stop offset="0.2259" stop-color="#e3e3e3"/><stop offset="0.2656" stop-color="#d7d7d7"/><stop offset="0.2903" stop-color="#c6c6c6"/><stop offset="0.3292" stop-color="#b7b7b7"/><stop offset="0.3662" stop-color="#a9a9a9"/><stop offset="0.3830" stop-color="#a2a2a2"/><stop offset="0.4112" stop-color="#9b9b9b"/><stop offset="0.4448" stop-color="#8f8f8f"/><stop offset="0.5321" stop-color="#7b7b7b"/><stop offset="0.5974" stop-color="#686868"/><stop offset="0.6195" stop-color="#626262"/><stop offset="0.6768" stop-color="#515151"/><stop offset="0.7386" stop-color="#424242"/><stop offset="0.7924" stop-color="#363636"/><stop offset="0.8657" stop-color="#292929"/><stop offset="0.9698" stop-color="#1f1f1f"/><stop offset="0.9998" stop-color="#1d1d1d"/></linearGradient><linearGradient id="har30" gradientUnits="userSpaceOnUse" x1="87" y1="0" x2="370.3" y2="0"><stop offset="0.0000" stop-color="#000000"/><stop offset="0.0309" stop-color="#060606"/><stop offset="0.0627" stop-color="#121212"/><stop offset="0.0724" stop-color="#1a1a1a"/><stop offset="0.0891" stop-color="#313131"/><stop offset="0.1147" stop-color="#636363"/><stop offset="0.1297" stop-color="#8a8a8a"/><stop offset="0.1368" stop-color="#969696"/><stop offset="0.1465" stop-color="#a5a5a5"/><stop offset="0.1633" stop-color="#c7c7c7"/><stop offset="0.1721" stop-color="#d3d3d3"/><stop offset="0.1844" stop-color="#dcdcdc"/><stop offset="0.2012" stop-color="#e2e2e2"/><stop offset="0.2259" stop-color="#e3e3e3"/><stop offset="0.2656" stop-color="#d7d7d7"/><stop offset="0.2903" stop-color="#c6c6c6"/><stop offset="0.3292" stop-color="#b7b7b7"/><stop offset="0.3662" stop-color="#a9a9a9"/><stop offset="0.3830" stop-color="#a2a2a2"/><stop offset="0.4112" stop-color="#9b9b9b"/><stop offset="0.4448" stop-color="#8f8f8f"/><stop offset="0.5321" stop-color="#7b7b7b"/><stop offset="0.5965" stop-color="#696969"/><stop offset="0.6177" stop-color="#626262"/><stop offset="0.6768" stop-color="#515151"/><stop offset="0.7369" stop-color="#424242"/><stop offset="0.7889" stop-color="#363636"/><stop offset="0.8613" stop-color="#292929"/><stop offset="0.9619" stop-color="#1f1f1f"/><stop offset="0.9998" stop-color="#1c1c1c"/></linearGradient><linearGradient id="har31" gradientUnits="userSpaceOnUse" x1="87" y1="0" x2="370.3" y2="0"><stop offset="0.0000" stop-color="#000000"/><stop offset="0.0309" stop-color="#060606"/><stop offset="0.0627" stop-color="#121212"/><stop offset="0.0724" stop-color="#1a1a1a"/><stop offset="0.0891" stop-color="#313131"/><stop offset="0.1147" stop-color="#636363"/><stop offset="0.1297" stop-color="#8a8a8a"/><stop offset="0.1368" stop-color="#969696"/><stop offset="0.1465" stop-color="#a5a5a5"/><stop offset="0.1633" stop-color="#c7c7c7"/><stop offset="0.1721" stop-color="#d3d3d3"/><stop offset="0.1844" stop-color="#dcdcdc"/><stop offset="0.2012" stop-color="#e2e2e2"/><stop offset="0.2259" stop-color="#e3e3e3"/><stop offset="0.2656" stop-color="#d7d7d7"/><stop offset="0.2903" stop-color="#c6c6c6"/><stop offset="0.3292" stop-color="#b7b7b7"/><stop offset="0.3662" stop-color="#a9a9a9"/><stop offset="0.3830" stop-color="#a2a2a2"/><stop offset="0.4112" stop-color="#9b9b9b"/><stop offset="0.4448" stop-color="#8f8f8f"/><stop offset="0.5321" stop-color="#7b7b7b"/><stop offset="0.5965" stop-color="#696969"/><stop offset="0.6177" stop-color="#626262"/><stop offset="0.6768" stop-color="#515151"/><stop offset="0.7360" stop-color="#424242"/><stop offset="0.7872" stop-color="#363636"/><stop offset="0.8595" stop-color="#292929"/><stop offset="0.9575" stop-color="#1f1f1f"/><stop offset="0.9998" stop-color="#1c1c1c"/></linearGradient><linearGradient id="har32" gradientUnits="userSpaceOnUse" x1="87" y1="0" x2="370.3" y2="0"><stop offset="0.0000" stop-color="#000000"/><stop offset="0.0309" stop-color="#060606"/><stop offset="0.0627" stop-color="#121212"/><stop offset="0.0724" stop-color="#1a1a1a"/><stop offset="0.0891" stop-color="#313131"/><stop offset="0.1147" stop-color="#636363"/><stop offset="0.1297" stop-color="#8a8a8a"/><stop offset="0.1368" stop-color="#969696"/><stop offset="0.1465" stop-color="#a5a5a5"/><stop offset="0.1633" stop-color="#c7c7c7"/><stop offset="0.1721" stop-color="#d3d3d3"/><stop offset="0.1844" stop-color="#dcdcdc"/><stop offset="0.2012" stop-color="#e2e2e2"/><stop offset="0.2259" stop-color="#e3e3e3"/><stop offset="0.2656" stop-color="#d7d7d7"/><stop offset="0.2903" stop-color="#c6c6c6"/><stop offset="0.3292" stop-color="#b7b7b7"/><stop offset="0.3662" stop-color="#a9a9a9"/><stop offset="0.3830" stop-color="#a2a2a2"/><stop offset="0.4112" stop-color="#9b9b9b"/><stop offset="0.4448" stop-color="#8f8f8f"/><stop offset="0.5321" stop-color="#7b7b7b"/><stop offset="0.5965" stop-color="#696969"/><stop offset="0.6177" stop-color="#626262"/><stop offset="0.6768" stop-color="#515151"/><stop offset="0.7351" stop-color="#424242"/><stop offset="0.7863" stop-color="#363636"/><stop offset="0.8577" stop-color="#292929"/><stop offset="0.9539" stop-color="#1f1f1f"/><stop offset="0.9998" stop-color="#1b1b1b"/></linearGradient><linearGradient id="har33" gradientUnits="userSpaceOnUse" x1="87" y1="0" x2="370.3" y2="0"><stop offset="0.0000" stop-color="#000000"/><stop offset="0.0309" stop-color="#060606"/><stop offset="0.0627" stop-color="#121212"/><stop offset="0.0724" stop-color="#1a1a1a"/><stop offset="0.0891" stop-color="#313131"/><stop offset="0.1147" stop-color="#636363"/><stop offset="0.1297" stop-color="#8a8a8a"/><stop offset="0.1368" stop-color="#969696"/><stop offset="0.1465" stop-color="#a5a5a5"/><stop offset="0.1633" stop-color="#c7c7c7"/><stop offset="0.1721" stop-color="#d3d3d3"/><stop offset="0.1844" stop-color="#dcdcdc"/><stop offset="0.2012" stop-color="#e2e2e2"/><stop offset="0.2259" stop-color="#e3e3e3"/><stop offset="0.2656" stop-color="#d7d7d7"/><stop offset="0.2903" stop-color="#c6c6c6"/><stop offset="0.3292" stop-color="#b7b7b7"/><stop offset="0.3662" stop-color="#a9a9a9"/><stop offset="0.3830" stop-color="#a2a2a2"/><stop offset="0.4112" stop-color="#9b9b9b"/><stop offset="0.4448" stop-color="#8f8f8f"/><stop offset="0.5321" stop-color="#7b7b7b"/><stop offset="0.5965" stop-color="#696969"/><stop offset="0.6177" stop-color="#626262"/><stop offset="0.6768" stop-color="#515151"/><stop offset="0.7342" stop-color="#424242"/><stop offset="0.7845" stop-color="#363636"/><stop offset="0.8560" stop-color="#292929"/><stop offset="0.9495" stop-color="#1f1f1f"/><stop offset="0.9998" stop-color="#1b1b1b"/></linearGradient><linearGradient id="har34" gradientUnits="userSpaceOnUse" x1="87" y1="0" x2="370.3" y2="0"><stop offset="0.0000" stop-color="#000000"/><stop offset="0.0309" stop-color="#060606"/><stop offset="0.0627" stop-color="#121212"/><stop offset="0.0724" stop-color="#1a1a1a"/><stop offset="0.0891" stop-color="#313131"/><stop offset="0.1147" stop-color="#636363"/><stop offset="0.1297" stop-color="#8a8a8a"/><stop offset="0.1368" stop-color="#969696"/><stop offset="0.1465" stop-color="#a5a5a5"/><stop offset="0.1633" stop-color="#c7c7c7"/><stop offset="0.1721" stop-color="#d3d3d3"/><stop offset="0.1844" stop-color="#dcdcdc"/><stop offset="0.2012" stop-color="#e2e2e2"/><stop offset="0.2259" stop-color="#e3e3e3"/><stop offset="0.2656" stop-color="#d7d7d7"/><stop offset="0.2903" stop-color="#c6c6c6"/><stop offset="0.3292" stop-color="#b7b7b7"/><stop offset="0.3662" stop-color="#a9a9a9"/><stop offset="0.3830" stop-color="#a2a2a2"/><stop offset="0.4112" stop-color="#9b9b9b"/><stop offset="0.4448" stop-color="#8f8f8f"/><stop offset="0.5321" stop-color="#7b7b7b"/><stop offset="0.5965" stop-color="#696969"/><stop offset="0.6177" stop-color="#626262"/><stop offset="0.6768" stop-color="#515151"/><stop offset="0.7342" stop-color="#424242"/><stop offset="0.7836" stop-color="#363636"/><stop offset="0.8551" stop-color="#292929"/><stop offset="0.9469" stop-color="#1e1e1e"/><stop offset="0.9998" stop-color="#1b1b1b"/></linearGradient><linearGradient id="har35" gradientUnits="userSpaceOnUse" x1="87" y1="0" x2="370.3" y2="0"><stop offset="0.0000" stop-color="#000000"/><stop offset="0.0309" stop-color="#060606"/><stop offset="0.0627" stop-color="#121212"/><stop offset="0.0724" stop-color="#1a1a1a"/><stop offset="0.0891" stop-color="#313131"/><stop offset="0.1147" stop-color="#636363"/><stop offset="0.1297" stop-color="#8a8a8a"/><stop offset="0.1368" stop-color="#969696"/><stop offset="0.1465" stop-color="#a5a5a5"/><stop offset="0.1633" stop-color="#c7c7c7"/><stop offset="0.1721" stop-color="#d3d3d3"/><stop offset="0.1844" stop-color="#dcdcdc"/><stop offset="0.2012" stop-color="#e2e2e2"/><stop offset="0.2259" stop-color="#e3e3e3"/><stop offset="0.2656" stop-color="#d7d7d7"/><stop offset="0.2903" stop-color="#c6c6c6"/><stop offset="0.3292" stop-color="#b7b7b7"/><stop offset="0.3662" stop-color="#a9a9a9"/><stop offset="0.3830" stop-color="#a2a2a2"/><stop offset="0.4112" stop-color="#9b9b9b"/><stop offset="0.4448" stop-color="#8f8f8f"/><stop offset="0.5321" stop-color="#7b7b7b"/><stop offset="0.5965" stop-color="#696969"/><stop offset="0.6177" stop-color="#626262"/><stop offset="0.6768" stop-color="#515151"/><stop offset="0.7333" stop-color="#424242"/><stop offset="0.7827" stop-color="#363636"/><stop offset="0.8551" stop-color="#282828"/><stop offset="0.9451" stop-color="#1e1e1e"/><stop offset="0.9998" stop-color="#1a1a1a"/></linearGradient><linearGradient id="haS" gradientUnits="userSpaceOnUse" x1="0" y1="-60" x2="0" y2="30"><stop offset="0.0000" stop-color="#ffffff"/><stop offset="0.2917" stop-color="#fefefe"/><stop offset="0.4028" stop-color="#fafafa"/><stop offset="0.4417" stop-color="#f5f5f5"/><stop offset="0.4917" stop-color="#ebebeb"/><stop offset="0.5222" stop-color="#e2e2e2"/><stop offset="0.5500" stop-color="#d6d6d6"/><stop offset="0.5806" stop-color="#c5c5c5"/><stop offset="0.6139" stop-color="#aeaeae"/><stop offset="0.6250" stop-color="#a5a5a5"/><stop offset="0.6417" stop-color="#929292"/><stop offset="0.6639" stop-color="#777777"/><stop offset="0.7056" stop-color="#4c4c4c"/><stop offset="0.7389" stop-color="#2e2e2e"/><stop offset="0.7472" stop-color="#292929"/><stop offset="0.7694" stop-color="#222222"/><stop offset="0.8333" stop-color="#121212"/><stop offset="0.8778" stop-color="#080808"/><stop offset="0.9111" stop-color="#040404"/><stop offset="0.9806" stop-color="#000000"/><stop offset="1.0000" stop-color="#000000"/></linearGradient><filter id="hacm" x="0" y="0" width="1" height="1" color-interpolation-filters="sRGB"><feComponentTransfer><feFuncR type="table" tableValues="0.424 0.431 0.438 0.446 0.453 0.461 0.468 0.476 0.483 0.491 0.497 0.503 0.509 0.514 0.520 0.526 0.532 0.537 0.538 0.528 0.518 0.508 0.499 0.489 0.479 0.448 0.415 0.382 0.349 0.316 0.283 0.250 0.211 0.172 0.132 0.093 0.054 0.015 0.000 0.000 0.000 0.000 0.000 0.000 0.000 0.000 0.000 0.000 0.000 0.000 0.000 0.000 0.000 0.000 0.000 0.000 0.000 0.000 0.000 0.000 0.000 0.000 0.000 0.000 0.000 0.000 0.000 0.000 0.000 0.000 0.000 0.000 0.000 0.000 0.000 0.000 0.000 0.000 0.008 0.017 0.026 0.035 0.043 0.052 0.061 0.088 0.121 0.153 0.186 0.219 0.252 0.284 0.316 0.340 0.363 0.387 0.411 0.435 0.458 0.482 0.504 0.520 0.535 0.550 0.566 0.581 0.596 0.612 0.627 0.643 0.659 0.674 0.690 0.706 0.722 0.738 0.754 0.776 0.799 0.821 0.843 0.866 0.888 0.911 0.933 0.956 0.978 1.000 1.000 1.000 1.000 1.000 1.000 1.000 1.000 1.000 1.000 1.000 1.000 1.000 1.000 1.000 1.000 1.000 1.000 1.000 1.000 1.000 1.000 1.000 1.000 1.000 1.000 1.000 1.000 1.000 1.000 1.000 1.000 1.000 1.000 1.000 1.000 1.000 1.000 1.000 1.000 1.000 1.000 1.000 1.000 1.000 1.000 1.000 1.000 1.000 1.000 1.000 1.000 1.000 1.000 1.000 1.000 1.000 1.000 1.000 1.000 1.000 1.000 1.000 1.000 1.000 1.000 1.000 1.000 1.000 1.000 1.000 1.000 1.000 1.000 1.000 1.000 1.000 0.997 0.981 0.966 0.951 0.935 0.920 0.905 0.893 0.882 0.871 0.860 0.850 0.839 0.828 0.817 0.805 0.793 0.781 0.770 0.758 0.746 0.734 0.722 0.710 0.698 0.687 0.675 0.663 0.651 0.639 0.627 0.617 0.608 0.598 0.588 0.578 0.568 0.558 0.548 0.538 0.528 0.519 0.509 0.499 0.489 0.479 0.468 0.449 0.430 0.410 0.391 0.372 0.353"/><feFuncG type="table" tableValues="0.000 0.000 0.000 0.000 0.000 0.000 0.000 0.000 0.000 0.000 0.000 0.000 0.000 0.000 0.000 0.000 0.000 0.000 0.000 0.000 0.000 0.000 0.000 0.000 0.000 0.000 0.000 0.000 0.000 0.000 0.000 0.000 0.020 0.040 0.059 0.079 0.099 0.118 0.150 0.190 0.229 0.269 0.308 0.348 0.387 0.427 0.456 0.479 0.503 0.527 0.550 0.574 0.598 0.622 0.648 0.676 0.704 0.731 0.759 0.787 0.814 0.842 0.863 0.882 0.901 0.921 0.940 0.959 0.978 0.998 1.000 1.000 1.000 1.000 1.000 1.000 1.000 1.000 1.000 1.000 1.000 1.000 1.000 1.000 1.000 1.000 1.000 1.000 1.000 1.000 1.000 1.000 1.000 1.000 1.000 1.000 1.000 1.000 1.000 1.000 1.000 1.000 1.000 1.000 1.000 1.000 1.000 1.000 1.000 1.000 1.000 1.000 1.000 1.000 1.000 1.000 1.000 1.000 1.000 1.000 1.000 1.000 1.000 1.000 1.000 1.000 1.000 1.000 0.982 0.964 0.947 0.929 0.912 0.894 0.877 0.859 0.841 0.821 0.801 0.781 0.762 0.742 0.722 0.702 0.681 0.657 0.634 0.610 0.586 0.562 0.539 0.515 0.490 0.462 0.434 0.407 0.379 0.351 0.324 0.296 0.264 0.229 0.193 0.157 0.122 0.086 0.051 0.015 0.000 0.000 0.000 0.000 0.000 0.000 0.000 0.000 0.000 0.000 0.000 0.000 0.000 0.000 0.000 0.000 0.000 0.000 0.000 0.000 0.000 0.000 0.000 0.000 0.000 0.000 0.000 0.000 0.000 0.000 0.000 0.000 0.000 0.000 0.000 0.000 0.000 0.000 0.000 0.000 0.000 0.000 0.000 0.000 0.000 0.000 0.000 0.000 0.000 0.000 0.000 0.000 0.000 0.000 0.000 0.000 0.000 0.000 0.000 0.000 0.000 0.000 0.000 0.000 0.000 0.000 0.000 0.000 0.000 0.000 0.000 0.000 0.000 0.000 0.000 0.000 0.000 0.000 0.000 0.000 0.000 0.000 0.000 0.000 0.000 0.000 0.000 0.000 0.000"/><feFuncB type="table" tableValues="0.439 0.453 0.467 0.481 0.496 0.510 0.524 0.538 0.552 0.566 0.588 0.618 0.648 0.677 0.707 0.737 0.766 0.796 0.825 0.854 0.883 0.912 0.941 0.969 0.998 1.000 1.000 1.000 1.000 1.000 1.000 1.000 1.000 1.000 1.000 1.000 1.000 1.000 1.000 1.000 1.000 1.000 1.000 1.000 1.000 1.000 1.000 1.000 1.000 1.000 1.000 1.000 1.000 1.000 1.000 1.000 1.000 1.000 1.000 1.000 1.000 1.000 1.000 1.000 1.000 1.000 1.000 1.000 1.000 1.000 0.952 0.897 0.842 0.787 0.732 0.677 0.623 0.568 0.499 0.429 0.359 0.289 0.218 0.148 0.078 0.056 0.048 0.040 0.032 0.024 0.016 0.007 0.000 0.000 0.000 0.000 0.000 0.000 0.000 0.000 0.000 0.000 0.000 0.000 0.000 0.000 0.000 0.000 0.000 0.000 0.000 0.000 0.000 0.000 0.000 0.000 0.000 0.000 0.000 0.000 0.000 0.000 0.000 0.000 0.000 0.000 0.000 0.000 0.000 0.000 0.000 0.000 0.000 0.000 0.000 0.000 0.000 0.000 0.000 0.000 0.000 0.000 0.000 0.000 0.000 0.000 0.000 0.000 0.000 0.000 0.000 0.000 0.000 0.000 0.000 0.000 0.000 0.000 0.000 0.000 0.000 0.000 0.000 0.000 0.000 0.000 0.000 0.000 0.000 0.000 0.000 0.000 0.000 0.000 0.000 0.000 0.000 0.000 0.000 0.000 0.000 0.000 0.000 0.000 0.000 0.000 0.000 0.000 0.000 0.000 0.000 0.000 0.000 0.000 0.000 0.000 0.000 0.000 0.000 0.000 0.000 0.000 0.000 0.000 0.000 0.000 0.000 0.000 0.000 0.000 0.000 0.000 0.000 0.000 0.000 0.000 0.000 0.000 0.000 0.000 0.000 0.000 0.000 0.000 0.000 0.000 0.000 0.000 0.000 0.000 0.000 0.000 0.000 0.000 0.000 0.000 0.000 0.000 0.000 0.000 0.000 0.000 0.000 0.000 0.000 0.000 0.000 0.000 0.000 0.000 0.000 0.000 0.000 0.000 0.000 0.000 0.000"/></feComponentTransfer></filter></defs><clipPath id="haclip"><rect x="87" y="132.5" width="283.3" height="245.3"/></clipPath><g clip-path="url(#haclip)"><g filter="url(#hacm)" style="isolation:isolate"><rect x="87" y="132.5" width="283.3" height="245.3" fill="url(#hag)"/><rect x="87" y="132.5" width="283.3" height="1" fill="url(#har0)"/><rect x="87" y="133.5" width="283.3" height="1" fill="url(#har1)"/><rect x="87" y="134.5" width="283.3" height="1" fill="url(#har2)"/><rect x="87" y="135.5" width="283.3" height="1" fill="url(#har3)"/><rect x="87" y="136.5" width="283.3" height="1" fill="url(#har4)"/><rect x="87" y="137.5" width="283.3" height="1" fill="url(#har5)"/><rect x="87" y="138.5" width="283.3" height="1" fill="url(#har6)"/><rect x="87" y="139.5" width="283.3" height="1" fill="url(#har7)"/><rect x="87" y="140.5" width="283.3" height="1" fill="url(#har8)"/><rect x="87" y="141.5" width="283.3" height="1" fill="url(#har9)"/><rect x="87" y="142.5" width="283.3" height="1" fill="url(#har10)"/><rect x="87" y="143.5" width="283.3" height="1" fill="url(#har11)"/><rect x="87" y="144.5" width="283.3" height="1" fill="url(#har12)"/><rect x="87" y="145.5" width="283.3" height="1" fill="url(#har13)"/><rect x="87" y="146.5" width="283.3" height="1" fill="url(#har14)"/><rect x="87" y="147.5" width="283.3" height="1" fill="url(#har15)"/><rect x="87" y="148.5" width="283.3" height="1" fill="url(#har16)"/><rect x="87" y="149.5" width="283.3" height="1" fill="url(#har17)"/><rect x="87" y="150.5" width="283.3" height="1" fill="url(#har18)"/><rect x="87" y="151.5" width="283.3" height="1" fill="url(#har19)"/><rect x="87" y="152.5" width="283.3" height="1" fill="url(#har20)"/><rect x="87" y="153.5" width="283.3" height="1" fill="url(#har21)"/><rect x="87" y="154.5" width="283.3" height="1" fill="url(#har22)"/><rect x="87" y="155.5" width="283.3" height="1" fill="url(#har23)"/><rect x="87" y="156.5" width="283.3" height="1" fill="url(#har24)"/><rect x="87" y="157.5" width="283.3" height="1" fill="url(#har25)"/><rect x="87" y="158.5" width="283.3" height="1" fill="url(#har26)"/><rect x="87" y="159.5" width="283.3" height="1" fill="url(#har27)"/><rect x="87" y="160.5" width="283.3" height="1" fill="url(#har28)"/><rect x="87" y="161.5" width="283.3" height="1" fill="url(#har29)"/><rect x="87" y="162.5" width="283.3" height="1" fill="url(#har30)"/><rect x="87" y="163.5" width="283.3" height="1" fill="url(#har31)"/><rect x="87" y="164.5" width="283.3" height="1" fill="url(#har32)"/><rect x="87" y="165.5" width="283.3" height="1" fill="url(#har33)"/><rect x="87" y="166.5" width="283.3" height="1" fill="url(#har34)"/><rect x="87" y="167.5" width="283.3" height="1" fill="url(#har35)"/><g style="mix-blend-mode:multiply" fill="url(#haS)"><rect x="87" y="-163.19" width="1" height="245.3" transform="translate(0 295.69)"/><rect x="88" y="-163.42" width="1" height="245.3" transform="translate(0 295.92)"/><rect x="89" y="-163.64" width="1" height="245.3" transform="translate(0 296.14)"/><rect x="90" y="-163.86" width="1" height="245.3" transform="translate(0 296.36)"/><rect x="91" y="-164.09" width="1" height="245.3" transform="translate(0 296.59)"/><rect x="92" y="-164.31" width="1" height="245.3" transform="translate(0 296.81)"/><rect x="93" y="-164.53" width="1" height="245.3" transform="translate(0 297.03)"/><rect x="94" y="-164.75" width="1" height="245.3" transform="translate(0 297.25)"/><rect x="95" y="-164.97" width="1" height="245.3" transform="translate(0 297.47)"/><rect x="96" y="-165.19" width="1" height="245.3" transform="translate(0 297.69)"/><rect x="97" y="-165.42" width="1" height="245.3" transform="translate(0 297.92)"/><rect x="98" y="-165.64" width="1" height="245.3" transform="translate(0 298.14)"/><rect x="99" y="-165.86" width="1" height="245.3" transform="translate(0 298.36)"/><rect x="100" y="-166.08" width="1" height="245.3" transform="translate(0 298.58)"/><rect x="101" y="-166.29" width="1" height="245.3" transform="translate(0 298.79)"/><rect x="102" y="-166.51" width="1" height="245.3" transform="translate(0 299.01)"/><rect x="103" y="-166.73" width="1" height="245.3" transform="translate(0 299.23)"/><rect x="104" y="-166.95" width="1" height="245.3" transform="translate(0 299.45)"/><rect x="105" y="-167.17" width="1" height="245.3" transform="translate(0 299.67)"/><rect x="106" y="-167.39" width="1" height="245.3" transform="translate(0 299.89)"/><rect x="107" y="-167.6" width="1" height="245.3" transform="translate(0 300.1)"/><rect x="108" y="-167.82" width="1" height="245.3" transform="translate(0 300.32)"/><rect x="109" y="-168.04" width="1" height="245.3" transform="translate(0 300.54)"/><rect x="110" y="-168.25" width="1" height="245.3" transform="translate(0 300.75)"/><rect x="111" y="-168.47" width="1" height="245.3" transform="translate(0 300.97)"/><rect x="112" y="-168.68" width="1" height="245.3" transform="translate(0 301.18)"/><rect x="113" y="-168.9" width="1" height="245.3" transform="translate(0 301.4)"/><rect x="114" y="-169.11" width="1" height="245.3" transform="translate(0 301.61)"/><rect x="115" y="-169.33" width="1" height="245.3" transform="translate(0 301.83)"/><rect x="116" y="-169.54" width="1" height="245.3" transform="translate(0 302.04)"/><rect x="117" y="-169.75" width="1" height="245.3" transform="translate(0 302.25)"/><rect x="118" y="-169.97" width="1" height="245.3" transform="translate(0 302.47)"/><rect x="119" y="-170.18" width="1" height="245.3" transform="translate(0 302.68)"/><rect x="120" y="-170.39" width="1" height="245.3" transform="translate(0 302.89)"/><rect x="121" y="-170.61" width="1" height="245.3" transform="translate(0 303.11)"/><rect x="122" y="-170.82" width="1" height="245.3" transform="translate(0 303.32)"/><rect x="123" y="-171.03" width="1" height="245.3" transform="translate(0 303.53)"/><rect x="124" y="-171.24" width="1" height="245.3" transform="translate(0 303.74)"/><rect x="125" y="-171.45" width="1" height="245.3" transform="translate(0 303.95)"/><rect x="126" y="-171.67" width="1" height="245.3" transform="translate(0 304.17)"/><rect x="127" y="-171.88" width="1" height="245.3" transform="translate(0 304.38)"/><rect x="128" y="-172.09" width="1" height="245.3" transform="translate(0 304.59)"/><rect x="129" y="-172.3" width="1" height="245.3" transform="translate(0 304.8)"/><rect x="130" y="-172.51" width="1" height="245.3" transform="translate(0 305.01)"/><rect x="131" y="-172.72" width="1" height="245.3" transform="translate(0 305.22)"/><rect x="132" y="-172.93" width="1" height="245.3" transform="translate(0 305.43)"/><rect x="133" y="-173.14" width="1" height="245.3" transform="translate(0 305.64)"/><rect x="134" y="-173.35" width="1" height="245.3" transform="translate(0 305.85)"/><rect x="135" y="-173.56" width="1" height="245.3" transform="translate(0 306.06)"/><rect x="136" y="-173.77" width="1" height="245.3" transform="translate(0 306.27)"/><rect x="137" y="-173.97" width="1" height="245.3" transform="translate(0 306.47)"/><rect x="138" y="-174.18" width="1" height="245.3" transform="translate(0 306.68)"/><rect x="139" y="-174.39" width="1" height="245.3" transform="translate(0 306.89)"/><rect x="140" y="-174.59" width="1" height="245.3" transform="translate(0 307.09)"/><rect x="141" y="-174.8" width="1" height="245.3" transform="translate(0 307.3)"/><rect x="142" y="-175" width="1" height="245.3" transform="translate(0 307.5)"/><rect x="143" y="-175.21" width="1" height="245.3" transform="translate(0 307.71)"/><rect x="144" y="-175.41" width="1" height="245.3" transform="translate(0 307.91)"/><rect x="145" y="-175.62" width="1" height="245.3" transform="translate(0 308.12)"/><rect x="146" y="-175.82" width="1" height="245.3" transform="translate(0 308.32)"/><rect x="147" y="-176.02" width="1" height="245.3" transform="translate(0 308.52)"/><rect x="148" y="-176.22" width="1" height="245.3" transform="translate(0 308.72)"/><rect x="149" y="-176.42" width="1" height="245.3" transform="translate(0 308.92)"/><rect x="150" y="-176.62" width="1" height="245.3" transform="translate(0 309.12)"/><rect x="151" y="-176.82" width="1" height="245.3" transform="translate(0 309.32)"/><rect x="152" y="-177.01" width="1" height="245.3" transform="translate(0 309.51)"/><rect x="153" y="-177.21" width="1" height="245.3" transform="translate(0 309.71)"/><rect x="154" y="-177.4" width="1" height="245.3" transform="translate(0 309.9)"/><rect x="155" y="-177.6" width="1" height="245.3" transform="translate(0 310.1)"/><rect x="156" y="-177.79" width="1" height="245.3" transform="translate(0 310.29)"/><rect x="157" y="-177.99" width="1" height="245.3" transform="translate(0 310.49)"/><rect x="158" y="-178.18" width="1" height="245.3" transform="translate(0 310.68)"/><rect x="159" y="-178.38" width="1" height="245.3" transform="translate(0 310.88)"/><rect x="160" y="-178.58" width="1" height="245.3" transform="translate(0 311.08)"/><rect x="161" y="-178.78" width="1" height="245.3" transform="translate(0 311.28)"/><rect x="162" y="-178.97" width="1" height="245.3" transform="translate(0 311.47)"/><rect x="163" y="-179.17" width="1" height="245.3" transform="translate(0 311.67)"/><rect x="164" y="-179.37" width="1" height="245.3" transform="translate(0 311.87)"/><rect x="165" y="-179.56" width="1" height="245.3" transform="translate(0 312.06)"/><rect x="166" y="-179.76" width="1" height="245.3" transform="translate(0 312.26)"/><rect x="167" y="-179.96" width="1" height="245.3" transform="translate(0 312.46)"/><rect x="168" y="-180.15" width="1" height="245.3" transform="translate(0 312.65)"/><rect x="169" y="-180.35" width="1" height="245.3" transform="translate(0 312.85)"/><rect x="170" y="-180.54" width="1" height="245.3" transform="translate(0 313.04)"/><rect x="171" y="-180.74" width="1" height="245.3" transform="translate(0 313.24)"/><rect x="172" y="-180.93" width="1" height="245.3" transform="translate(0 313.43)"/><rect x="173" y="-181.12" width="1" height="245.3" transform="translate(0 313.62)"/><rect x="174" y="-181.31" width="1" height="245.3" transform="translate(0 313.81)"/><rect x="175" y="-181.49" width="1" height="245.3" transform="translate(0 313.99)"/><rect x="176" y="-181.68" width="1" height="245.3" transform="translate(0 314.18)"/><rect x="177" y="-181.86" width="1" height="245.3" transform="translate(0 314.36)"/><rect x="178" y="-182.05" width="1" height="245.3" transform="translate(0 314.55)"/><rect x="179" y="-182.23" width="1" height="245.3" transform="translate(0 314.73)"/><rect x="180" y="-182.41" width="1" height="245.3" transform="translate(0 314.91)"/><rect x="181" y="-182.58" width="1" height="245.3" transform="translate(0 315.08)"/><rect x="182" y="-182.75" width="1" height="245.3" transform="translate(0 315.25)"/><rect x="183" y="-182.93" width="1" height="245.3" transform="translate(0 315.43)"/><rect x="184" y="-183.09" width="1" height="245.3" transform="translate(0 315.59)"/><rect x="185" y="-183.26" width="1" height="245.3" transform="translate(0 315.76)"/><rect x="186" y="-183.42" width="1" height="245.3" transform="translate(0 315.92)"/><rect x="187" y="-183.58" width="1" height="245.3" transform="translate(0 316.08)"/><rect x="188" y="-183.74" width="1" height="245.3" transform="translate(0 316.24)"/><rect x="189" y="-183.89" width="1" height="245.3" transform="translate(0 316.39)"/><rect x="190" y="-184.04" width="1" height="245.3" transform="translate(0 316.54)"/><rect x="191" y="-184.19" width="1" height="245.3" transform="translate(0 316.69)"/><rect x="192" y="-184.33" width="1" height="245.3" transform="translate(0 316.83)"/><rect x="193" y="-184.47" width="1" height="245.3" transform="translate(0 316.97)"/><rect x="194" y="-184.6" width="1" height="245.3" transform="translate(0 317.1)"/><rect x="195" y="-184.74" width="1" height="245.3" transform="translate(0 317.24)"/><rect x="196" y="-184.87" width="1" height="245.3" transform="translate(0 317.37)"/><rect x="197" y="-184.99" width="1" height="245.3" transform="translate(0 317.49)"/><rect x="198" y="-185.12" width="1" height="245.3" transform="translate(0 317.62)"/><rect x="199" y="-185.24" width="1" height="245.3" transform="translate(0 317.74)"/><rect x="200" y="-185.36" width="1" height="245.3" transform="translate(0 317.86)"/><rect x="201" y="-185.48" width="1" height="245.3" transform="translate(0 317.98)"/><rect x="202" y="-185.6" width="1" height="245.3" transform="translate(0 318.1)"/><rect x="203" y="-185.71" width="1" height="245.3" transform="translate(0 318.21)"/><rect x="204" y="-185.82" width="1" height="245.3" transform="translate(0 318.32)"/><rect x="205" y="-185.93" width="1" height="245.3" transform="translate(0 318.43)"/><rect x="206" y="-186.04" width="1" height="245.3" transform="translate(0 318.54)"/><rect x="207" y="-186.15" width="1" height="245.3" transform="translate(0 318.65)"/><rect x="208" y="-186.26" width="1" height="245.3" transform="translate(0 318.76)"/><rect x="209" y="-186.37" width="1" height="245.3" transform="translate(0 318.87)"/><rect x="210" y="-186.47" width="1" height="245.3" transform="translate(0 318.97)"/><rect x="211" y="-186.58" width="1" height="245.3" transform="translate(0 319.08)"/><rect x="212" y="-186.68" width="1" height="245.3" transform="translate(0 319.18)"/><rect x="213" y="-186.79" width="1" height="245.3" transform="translate(0 319.29)"/><rect x="214" y="-186.89" width="1" height="245.3" transform="translate(0 319.39)"/><rect x="215" y="-187" width="1" height="245.3" transform="translate(0 319.5)"/><rect x="216" y="-187.1" width="1" height="245.3" transform="translate(0 319.6)"/><rect x="217" y="-187.2" width="1" height="245.3" transform="translate(0 319.7)"/><rect x="218" y="-187.31" width="1" height="245.3" transform="translate(0 319.81)"/><rect x="219" y="-187.41" width="1" height="245.3" transform="translate(0 319.91)"/><rect x="220" y="-187.52" width="1" height="245.3" transform="translate(0 320.02)"/><rect x="221" y="-187.63" width="1" height="245.3" transform="translate(0 320.13)"/><rect x="222" y="-187.74" width="1" height="245.3" transform="translate(0 320.24)"/><rect x="223" y="-187.84" width="1" height="245.3" transform="translate(0 320.34)"/><rect x="224" y="-187.95" width="1" height="245.3" transform="translate(0 320.45)"/><rect x="225" y="-188.07" width="1" height="245.3" transform="translate(0 320.57)"/><rect x="226" y="-188.18" width="1" height="245.3" transform="translate(0 320.68)"/><rect x="227" y="-188.29" width="1" height="245.3" transform="translate(0 320.79)"/><rect x="228" y="-188.41" width="1" height="245.3" transform="translate(0 320.91)"/><rect x="229" y="-188.53" width="1" height="245.3" transform="translate(0 321.03)"/><rect x="230" y="-188.65" width="1" height="245.3" transform="translate(0 321.15)"/><rect x="231" y="-188.77" width="1" height="245.3" transform="translate(0 321.27)"/><rect x="232" y="-188.9" width="1" height="245.3" transform="translate(0 321.4)"/><rect x="233" y="-189.03" width="1" height="245.3" transform="translate(0 321.53)"/><rect x="234" y="-189.16" width="1" height="245.3" transform="translate(0 321.66)"/><rect x="235" y="-189.29" width="1" height="245.3" transform="translate(0 321.79)"/><rect x="236" y="-189.43" width="1" height="245.3" transform="translate(0 321.93)"/><rect x="237" y="-189.57" width="1" height="245.3" transform="translate(0 322.07)"/><rect x="238" y="-189.71" width="1" height="245.3" transform="translate(0 322.21)"/><rect x="239" y="-189.85" width="1" height="245.3" transform="translate(0 322.35)"/><rect x="240" y="-189.99" width="1" height="245.3" transform="translate(0 322.49)"/><rect x="241" y="-190.13" width="1" height="245.3" transform="translate(0 322.63)"/><rect x="242" y="-190.27" width="1" height="245.3" transform="translate(0 322.77)"/><rect x="243" y="-190.41" width="1" height="245.3" transform="translate(0 322.91)"/><rect x="244" y="-190.56" width="1" height="245.3" transform="translate(0 323.06)"/><rect x="245" y="-190.7" width="1" height="245.3" transform="translate(0 323.2)"/><rect x="246" y="-190.84" width="1" height="245.3" transform="translate(0 323.34)"/><rect x="247" y="-190.99" width="1" height="245.3" transform="translate(0 323.49)"/><rect x="248" y="-191.14" width="1" height="245.3" transform="translate(0 323.64)"/><rect x="249" y="-191.28" width="1" height="245.3" transform="translate(0 323.78)"/><rect x="250" y="-191.43" width="1" height="245.3" transform="translate(0 323.93)"/><rect x="251" y="-191.58" width="1" height="245.3" transform="translate(0 324.08)"/><rect x="252" y="-191.73" width="1" height="245.3" transform="translate(0 324.23)"/><rect x="253" y="-191.89" width="1" height="245.3" transform="translate(0 324.39)"/><rect x="254" y="-192.04" width="1" height="245.3" transform="translate(0 324.54)"/><rect x="255" y="-192.2" width="1" height="245.3" transform="translate(0 324.7)"/><rect x="256" y="-192.36" width="1" height="245.3" transform="translate(0 324.86)"/><rect x="257" y="-192.52" width="1" height="245.3" transform="translate(0 325.02)"/><rect x="258" y="-192.69" width="1" height="245.3" transform="translate(0 325.19)"/><rect x="259" y="-192.85" width="1" height="245.3" transform="translate(0 325.35)"/><rect x="260" y="-193.02" width="1" height="245.3" transform="translate(0 325.52)"/><rect x="261" y="-193.19" width="1" height="245.3" transform="translate(0 325.69)"/><rect x="262" y="-193.37" width="1" height="245.3" transform="translate(0 325.87)"/><rect x="263" y="-193.55" width="1" height="245.3" transform="translate(0 326.05)"/><rect x="264" y="-193.73" width="1" height="245.3" transform="translate(0 326.23)"/><rect x="265" y="-193.91" width="1" height="245.3" transform="translate(0 326.41)"/><rect x="266" y="-194.1" width="1" height="245.3" transform="translate(0 326.6)"/><rect x="267" y="-194.29" width="1" height="245.3" transform="translate(0 326.79)"/><rect x="268" y="-194.48" width="1" height="245.3" transform="translate(0 326.98)"/><rect x="269" y="-194.68" width="1" height="245.3" transform="translate(0 327.18)"/><rect x="270" y="-194.88" width="1" height="245.3" transform="translate(0 327.38)"/><rect x="271" y="-195.08" width="1" height="245.3" transform="translate(0 327.58)"/><rect x="272" y="-195.29" width="1" height="245.3" transform="translate(0 327.79)"/><rect x="273" y="-195.51" width="1" height="245.3" transform="translate(0 328.01)"/><rect x="274" y="-195.72" width="1" height="245.3" transform="translate(0 328.22)"/><rect x="275" y="-195.95" width="1" height="245.3" transform="translate(0 328.45)"/><rect x="276" y="-196.17" width="1" height="245.3" transform="translate(0 328.67)"/><rect x="277" y="-196.4" width="1" height="245.3" transform="translate(0 328.9)"/><rect x="278" y="-196.64" width="1" height="245.3" transform="translate(0 329.14)"/><rect x="279" y="-196.88" width="1" height="245.3" transform="translate(0 329.38)"/><rect x="280" y="-197.13" width="1" height="245.3" transform="translate(0 329.63)"/><rect x="281" y="-197.39" width="1" height="245.3" transform="translate(0 329.89)"/><rect x="282" y="-197.68" width="1" height="245.3" transform="translate(0 330.18)"/><rect x="283" y="-197.98" width="1" height="245.3" transform="translate(0 330.48)"/><rect x="284" y="-198.3" width="1" height="245.3" transform="translate(0 330.8)"/><rect x="285" y="-198.64" width="1" height="245.3" transform="translate(0 331.14)"/><rect x="286" y="-198.99" width="1" height="245.3" transform="translate(0 331.49)"/><rect x="287" y="-199.35" width="1" height="245.3" transform="translate(0 331.85)"/><rect x="288" y="-199.72" width="1" height="245.3" transform="translate(0 332.22)"/><rect x="289" y="-200.1" width="1" height="245.3" transform="translate(0 332.6)"/><rect x="290" y="-200.49" width="1" height="245.3" transform="translate(0 332.99)"/><rect x="291" y="-200.88" width="1" height="245.3" transform="translate(0 333.38)"/><rect x="292" y="-201.28" width="1" height="245.3" transform="translate(0 333.78)"/><rect x="293" y="-201.68" width="1" height="245.3" transform="translate(0 334.18)"/><rect x="294" y="-202.09" width="1" height="245.3" transform="translate(0 334.59)"/><rect x="295" y="-202.49" width="1" height="245.3" transform="translate(0 334.99)"/><rect x="296" y="-202.89" width="1" height="245.3" transform="translate(0 335.39)"/><rect x="297" y="-203.29" width="1" height="245.3" transform="translate(0 335.79)"/><rect x="298" y="-203.68" width="1" height="245.3" transform="translate(0 336.18)"/><rect x="299" y="-204.07" width="1" height="245.3" transform="translate(0 336.57)"/><rect x="300" y="-204.45" width="1" height="245.3" transform="translate(0 336.95)"/><rect x="301" y="-204.82" width="1" height="245.3" transform="translate(0 337.32)"/><rect x="302" y="-205.18" width="1" height="245.3" transform="translate(0 337.68)"/><rect x="303" y="-205.54" width="1" height="245.3" transform="translate(0 338.04)"/><rect x="304" y="-205.9" width="1" height="245.3" transform="translate(0 338.4)"/><rect x="305" y="-206.27" width="1" height="245.3" transform="translate(0 338.77)"/><rect x="306" y="-206.63" width="1" height="245.3" transform="translate(0 339.13)"/><rect x="307" y="-207" width="1" height="245.3" transform="translate(0 339.5)"/><rect x="308" y="-207.37" width="1" height="245.3" transform="translate(0 339.87)"/><rect x="309" y="-207.74" width="1" height="245.3" transform="translate(0 340.24)"/><rect x="310" y="-208.11" width="1" height="245.3" transform="translate(0 340.61)"/><rect x="311" y="-208.47" width="1" height="245.3" transform="translate(0 340.97)"/><rect x="312" y="-208.84" width="1" height="245.3" transform="translate(0 341.34)"/><rect x="313" y="-209.21" width="1" height="245.3" transform="translate(0 341.71)"/><rect x="314" y="-209.58" width="1" height="245.3" transform="translate(0 342.08)"/><rect x="315" y="-209.95" width="1" height="245.3" transform="translate(0 342.45)"/><rect x="316" y="-210.32" width="1" height="245.3" transform="translate(0 342.82)"/><rect x="317" y="-210.69" width="1" height="245.3" transform="translate(0 343.19)"/><rect x="318" y="-211.06" width="1" height="245.3" transform="translate(0 343.56)"/><rect x="319" y="-211.42" width="1" height="245.3" transform="translate(0 343.92)"/><rect x="320" y="-211.79" width="1" height="245.3" transform="translate(0 344.29)"/><rect x="321" y="-212.15" width="1" height="245.3" transform="translate(0 344.65)"/><rect x="322" y="-212.52" width="1" height="245.3" transform="translate(0 345.02)"/><rect x="323" y="-212.88" width="1" height="245.3" transform="translate(0 345.38)"/><rect x="324" y="-213.24" width="1" height="245.3" transform="translate(0 345.74)"/><rect x="325" y="-213.6" width="1" height="245.3" transform="translate(0 346.1)"/><rect x="326" y="-213.96" width="1" height="245.3" transform="translate(0 346.46)"/><rect x="327" y="-214.31" width="1" height="245.3" transform="translate(0 346.81)"/><rect x="328" y="-214.66" width="1" height="245.3" transform="translate(0 347.16)"/><rect x="329" y="-215.01" width="1" height="245.3" transform="translate(0 347.51)"/><rect x="330" y="-215.36" width="1" height="245.3" transform="translate(0 347.86)"/><rect x="331" y="-215.7" width="1" height="245.3" transform="translate(0 348.2)"/><rect x="332" y="-216.05" width="1" height="245.3" transform="translate(0 348.55)"/><rect x="333" y="-216.38" width="1" height="245.3" transform="translate(0 348.88)"/><rect x="334" y="-216.72" width="1" height="245.3" transform="translate(0 349.22)"/><rect x="335" y="-217.05" width="1" height="245.3" transform="translate(0 349.55)"/><rect x="336" y="-217.38" width="1" height="245.3" transform="translate(0 349.88)"/><rect x="337" y="-217.7" width="1" height="245.3" transform="translate(0 350.2)"/><rect x="338" y="-218.03" width="1" height="245.3" transform="translate(0 350.53)"/><rect x="339" y="-218.34" width="1" height="245.3" transform="translate(0 350.84)"/><rect x="340" y="-218.66" width="1" height="245.3" transform="translate(0 351.16)"/><rect x="341" y="-218.97" width="1" height="245.3" transform="translate(0 351.47)"/><rect x="342" y="-219.28" width="1" height="245.3" transform="translate(0 351.78)"/><rect x="343" y="-219.58" width="1" height="245.3" transform="translate(0 352.08)"/><rect x="344" y="-219.89" width="1" height="245.3" transform="translate(0 352.39)"/><rect x="345" y="-220.19" width="1" height="245.3" transform="translate(0 352.69)"/><rect x="346" y="-220.49" width="1" height="245.3" transform="translate(0 352.99)"/><rect x="347" y="-220.79" width="1" height="245.3" transform="translate(0 353.29)"/><rect x="348" y="-221.09" width="1" height="245.3" transform="translate(0 353.59)"/><rect x="349" y="-221.39" width="1" height="245.3" transform="translate(0 353.89)"/><rect x="350" y="-221.68" width="1" height="245.3" transform="translate(0 354.18)"/><rect x="351" y="-221.97" width="1" height="245.3" transform="translate(0 354.47)"/><rect x="352" y="-222.26" width="1" height="245.3" transform="translate(0 354.76)"/><rect x="353" y="-222.55" width="1" height="245.3" transform="translate(0 355.05)"/><rect x="354" y="-222.84" width="1" height="245.3" transform="translate(0 355.34)"/><rect x="355" y="-223.12" width="1" height="245.3" transform="translate(0 355.62)"/><rect x="356" y="-223.4" width="1" height="245.3" transform="translate(0 355.9)"/><rect x="357" y="-223.68" width="1" height="245.3" transform="translate(0 356.18)"/><rect x="358" y="-223.96" width="1" height="245.3" transform="translate(0 356.46)"/><rect x="359" y="-224.24" width="1" height="245.3" transform="translate(0 356.74)"/><rect x="360" y="-224.51" width="1" height="245.3" transform="translate(0 357.01)"/><rect x="361" y="-224.78" width="1" height="245.3" transform="translate(0 357.28)"/><rect x="362" y="-225.05" width="1" height="245.3" transform="translate(0 357.55)"/><rect x="363" y="-225.32" width="1" height="245.3" transform="translate(0 357.82)"/><rect x="364" y="-225.58" width="1" height="245.3" transform="translate(0 358.08)"/><rect x="365" y="-225.84" width="1" height="245.3" transform="translate(0 358.34)"/><rect x="366" y="-226.11" width="1" height="245.3" transform="translate(0 358.61)"/><rect x="367" y="-226.36" width="1" height="245.3" transform="translate(0 358.86)"/><rect x="368" y="-226.62" width="1" height="245.3" transform="translate(0 359.12)"/><rect x="369" y="-226.87" width="1" height="245.3" transform="translate(0 359.37)"/><rect x="370" y="-227.13" width="1" height="245.3" transform="translate(0 359.63)"/></g></g></g><g clip-path="url(#haclip)"><path d="M359.47,132.5 358.55,142 356.97,145 355.28,146.5 350.01,149.5 342.96,152.5 326.5,157.6 317.31,161 314.97,162.5 313.73,164.5 312.86,166.5 312.27,169.5 311.98,180.5 311.89,302 311.61,309 311,315.26 310.5,317.56 309.16,320 307.3,322 304.5,324.24 302,325.49 299.5,326.27 296.5,326.8 293,326.98 286.5,326.68 275,325.38 259,324.23 217.5,321.64 200.5,320.85 185.5,319.54 161.5,316.34 145,313.37 138.5,311.82 133.5,310.25 124,305.65 122,304.04 118.07,300 116.13,297.5 114.47,293 113.52,288 112.89,280.5 112.62,263 112.59,151 112.35,147 111.76,143 108.61,132.5M304.92,132.5 303.32,134 301.5,135.24 293.5,139.15 269.02,146.5 263.67,148.5 261.72,150 260.45,151.5 258.81,155.5 258.28,158 257.92,162.5 257.81,287 257.47,293.5 256.83,300 256.35,302 255.5,303.9 253.5,306.29 250,308.43 244.7,310.5 239,311.93 230.5,312.89 216,313.32 202.5,314.21 186.6,313.5 163,311.09 151.5,309.43 144,307.91 136.5,305.77 132,303.76 125.5,299.16 124.05,297.5 123,295.61 121.87,292.5 121.09,289 120.36,283 120.05,278 119.77,149 119.37,145 118.79,142 115.87,132.5M259.14,132.5 251.14,135 236.22,139 224,141.34 212.72,144 211.25,144.5 209.43,145.5 207.59,147 206.41,148.5 205.38,151 205.14,152.5 205.02,279.5 204.53,287 203.49,293.5 202.53,295.5 201,296.95 199.5,297.71 195,299.28 193.5,300.15 190.46,302.5 188.01,303.5 181.37,304.5 169.5,305.01 162.5,305.77 153,305 149.5,304.5 141.35,302.5 136.5,300.42 133.5,298.24 131.06,295 129.25,291 127.77,285.5 126.8,279.5 126.38,266.5 126.29,150.5 126.07,147 125.44,143 122.15,132.5M192.59,132.5 180.27,136 174.05,138.5 172,140.04 170,142.21 168.43,144.5 167.03,147.5 166.45,152.5 166.38,272.5 165.67,284.5 165.3,287.5 164.72,289.5 163.58,291.5 162.5,292.55 161,293.37 159,294.02 151.5,295.38 148.5,295.02 144.72,294 142.5,293.01 140.5,291.65 138.5,289.72 137,287.58 135.8,285 135,281.99 134.49,275.5 134.23,266.5 134.12,150 133.97,147.5 132.83,142.5 128.81,132.5" stroke="#808080" stroke-width="1.8" fill="none" stroke-linejoin="round"/></g>
<defs><linearGradient id="hbg" gradientUnits="userSpaceOnUse" x1="87" y1="0" x2="370.3" y2="0"><stop offset="0.0000" stop-color="#000000"/><stop offset="0.1818" stop-color="#020202"/><stop offset="0.2621" stop-color="#0d0d0d"/><stop offset="0.2789" stop-color="#121212"/><stop offset="0.2912" stop-color="#181818"/><stop offset="0.2983" stop-color="#1f1f1f"/><stop offset="0.3044" stop-color="#292929"/><stop offset="0.3168" stop-color="#404040"/><stop offset="0.3300" stop-color="#555555"/><stop offset="0.3353" stop-color="#606060"/><stop offset="0.3477" stop-color="#808080"/><stop offset="0.3539" stop-color="#8c8c8c"/><stop offset="0.3697" stop-color="#a6a6a6"/><stop offset="0.3759" stop-color="#adadad"/><stop offset="0.3874" stop-color="#b3b3b3"/><stop offset="0.4236" stop-color="#c0c0c0"/><stop offset="0.4395" stop-color="#c3c3c3"/><stop offset="0.4624" stop-color="#c1c1c1"/><stop offset="0.4818" stop-color="#bebebe"/><stop offset="0.5021" stop-color="#b4b4b4"/><stop offset="0.5286" stop-color="#a5a5a5"/><stop offset="0.5401" stop-color="#9f9f9f"/><stop offset="0.5604" stop-color="#9c9c9c"/><stop offset="0.5736" stop-color="#999999"/><stop offset="0.5921" stop-color="#8f8f8f"/><stop offset="0.6504" stop-color="#7a7a7a"/><stop offset="0.6980" stop-color="#656565"/><stop offset="0.7289" stop-color="#565656"/><stop offset="0.7545" stop-color="#4e4e4e"/><stop offset="0.8419" stop-color="#383838"/><stop offset="0.8763" stop-color="#313131"/><stop offset="0.9045" stop-color="#2a2a2a"/><stop offset="0.9398" stop-color="#242424"/><stop offset="0.9998" stop-color="#202020"/></linearGradient><linearGradient id="hbr0" gradientUnits="userSpaceOnUse" x1="87" y1="0" x2="370.3" y2="0"><stop offset="0.0000" stop-color="#000000"/><stop offset="0.1818" stop-color="#020202"/><stop offset="0.2612" stop-color="#0e0e0e"/><stop offset="0.2815" stop-color="#161616"/><stop offset="0.2912" stop-color="#1f1f1f"/><stop offset="0.2983" stop-color="#2a2a2a"/><stop offset="0.3142" stop-color="#4b4b4b"/><stop offset="0.3239" stop-color="#5e5e5e"/><stop offset="0.3309" stop-color="#727272"/><stop offset="0.3415" stop-color="#959595"/><stop offset="0.3477" stop-color="#a5a5a5"/><stop offset="0.3662" stop-color="#c8c8c8"/><stop offset="0.3759" stop-color="#d4d4d4"/><stop offset="0.3927" stop-color="#e1e1e1"/><stop offset="0.4200" stop-color="#f0f0f0"/><stop offset="0.4606" stop-color="#f7f7f7"/><stop offset="0.4951" stop-color="#f6f6f6"/><stop offset="0.5321" stop-color="#f1f1f1"/><stop offset="0.5709" stop-color="#e4e4e4"/><stop offset="0.6610" stop-color="#bdbdbd"/><stop offset="0.6883" stop-color="#b1b1b1"/><stop offset="0.7298" stop-color="#a3a3a3"/><stop offset="0.7421" stop-color="#9a9a9a"/><stop offset="0.7589" stop-color="#8d8d8d"/><stop offset="0.8313" stop-color="#737373"/><stop offset="0.9001" stop-color="#555555"/><stop offset="0.9998" stop-color="#3f3f3f"/></linearGradient><linearGradient id="hbr1" gradientUnits="userSpaceOnUse" x1="87" y1="0" x2="370.3" y2="0"><stop offset="0.0000" stop-color="#000000"/><stop offset="0.1827" stop-color="#020202"/><stop offset="0.2621" stop-color="#0e0e0e"/><stop offset="0.2824" stop-color="#171717"/><stop offset="0.2921" stop-color="#1f1f1f"/><stop offset="0.2992" stop-color="#2a2a2a"/><stop offset="0.3150" stop-color="#4b4b4b"/><stop offset="0.3247" stop-color="#5d5d5d"/><stop offset="0.3318" stop-color="#717171"/><stop offset="0.3424" stop-color="#949494"/><stop offset="0.3495" stop-color="#a4a4a4"/><stop offset="0.3671" stop-color="#c5c5c5"/><stop offset="0.3768" stop-color="#d1d1d1"/><stop offset="0.3953" stop-color="#dedede"/><stop offset="0.4174" stop-color="#eaeaea"/><stop offset="0.4536" stop-color="#f1f1f1"/><stop offset="0.4854" stop-color="#f1f1f1"/><stop offset="0.5215" stop-color="#ebebeb"/><stop offset="0.5604" stop-color="#dfdfdf"/><stop offset="0.6521" stop-color="#b9b9b9"/><stop offset="0.6795" stop-color="#aeaeae"/><stop offset="0.7218" stop-color="#a2a2a2"/><stop offset="0.7351" stop-color="#9a9a9a"/><stop offset="0.7536" stop-color="#8d8d8d"/><stop offset="0.8242" stop-color="#757575"/><stop offset="0.9019" stop-color="#555555"/><stop offset="0.9998" stop-color="#404040"/></linearGradient><linearGradient id="hbr2" gradientUnits="userSpaceOnUse" x1="87" y1="0" x2="370.3" y2="0"><stop offset="0.0000" stop-color="#000000"/><stop offset="0.1827" stop-color="#020202"/><stop offset="0.2630" stop-color="#0e0e0e"/><stop offset="0.2833" stop-color="#171717"/><stop offset="0.2930" stop-color="#1f1f1f"/><stop offset="0.3000" stop-color="#2b2b2b"/><stop offset="0.3150" stop-color="#494949"/><stop offset="0.3247" stop-color="#5b5b5b"/><stop offset="0.3318" stop-color="#6e6e6e"/><stop offset="0.3433" stop-color="#929292"/><stop offset="0.3503" stop-color="#a2a2a2"/><stop offset="0.3680" stop-color="#c3c3c3"/><stop offset="0.3786" stop-color="#cecece"/><stop offset="0.4006" stop-color="#dddddd"/><stop offset="0.4165" stop-color="#e5e5e5"/><stop offset="0.4492" stop-color="#ececec"/><stop offset="0.4801" stop-color="#ebebeb"/><stop offset="0.5127" stop-color="#e6e6e6"/><stop offset="0.5498" stop-color="#dadada"/><stop offset="0.6415" stop-color="#b5b5b5"/><stop offset="0.6689" stop-color="#acacac"/><stop offset="0.7113" stop-color="#a1a1a1"/><stop offset="0.7289" stop-color="#969696"/><stop offset="0.7501" stop-color="#8b8b8b"/><stop offset="0.8119" stop-color="#787878"/><stop offset="0.9019" stop-color="#555555"/><stop offset="0.9998" stop-color="#404040"/></linearGradient><linearGradient id="hbr3" gradientUnits="userSpaceOnUse" x1="87" y1="0" x2="370.3" y2="0"><stop offset="0.0000" stop-color="#000000"/><stop offset="0.1836" stop-color="#020202"/><stop offset="0.2639" stop-color="#0e0e0e"/><stop offset="0.2842" stop-color="#171717"/><stop offset="0.2939" stop-color="#1f1f1f"/><stop offset="0.3009" stop-color="#2a2a2a"/><stop offset="0.3159" stop-color="#484848"/><stop offset="0.3265" stop-color="#5c5c5c"/><stop offset="0.3336" stop-color="#6f6f6f"/><stop offset="0.3442" stop-color="#909090"/><stop offset="0.3512" stop-color="#a0a0a0"/><stop offset="0.3680" stop-color="#bebebe"/><stop offset="0.3777" stop-color="#c9c9c9"/><stop offset="0.3989" stop-color="#d7d7d7"/><stop offset="0.4148" stop-color="#e0e0e0"/><stop offset="0.4456" stop-color="#e6e6e6"/><stop offset="0.4748" stop-color="#e6e6e6"/><stop offset="0.5065" stop-color="#e0e0e0"/><stop offset="0.5418" stop-color="#d5d5d5"/><stop offset="0.6468" stop-color="#acacac"/><stop offset="0.6998" stop-color="#9f9f9f"/><stop offset="0.7333" stop-color="#8d8d8d"/><stop offset="0.8119" stop-color="#767676"/><stop offset="0.9019" stop-color="#545454"/><stop offset="0.9998" stop-color="#404040"/></linearGradient><linearGradient id="hbr4" gradientUnits="userSpaceOnUse" x1="87" y1="0" x2="370.3" y2="0"><stop offset="0.0000" stop-color="#000000"/><stop offset="0.1844" stop-color="#020202"/><stop offset="0.2647" stop-color="#0e0e0e"/><stop offset="0.2850" stop-color="#171717"/><stop offset="0.2947" stop-color="#1f1f1f"/><stop offset="0.3018" stop-color="#2a2a2a"/><stop offset="0.3168" stop-color="#484848"/><stop offset="0.3274" stop-color="#5b5b5b"/><stop offset="0.3345" stop-color="#6e6e6e"/><stop offset="0.3450" stop-color="#8e8e8e"/><stop offset="0.3521" stop-color="#9d9d9d"/><stop offset="0.3689" stop-color="#bbbbbb"/><stop offset="0.3795" stop-color="#c6c6c6"/><stop offset="0.4050" stop-color="#d6d6d6"/><stop offset="0.4183" stop-color="#dbdbdb"/><stop offset="0.4456" stop-color="#e1e1e1"/><stop offset="0.4774" stop-color="#dfdfdf"/><stop offset="0.5083" stop-color="#d9d9d9"/><stop offset="0.5480" stop-color="#cbcbcb"/><stop offset="0.6336" stop-color="#aaaaaa"/><stop offset="0.6883" stop-color="#9e9e9e"/><stop offset="0.7218" stop-color="#8e8e8e"/><stop offset="0.8057" stop-color="#767676"/><stop offset="0.8763" stop-color="#5c5c5c"/><stop offset="0.9080" stop-color="#525252"/><stop offset="0.9998" stop-color="#404040"/></linearGradient><linearGradient id="hbr5" gradientUnits="userSpaceOnUse" x1="87" y1="0" x2="370.3" y2="0"><stop offset="0.0000" stop-color="#000000"/><stop offset="0.1853" stop-color="#020202"/><stop offset="0.2647" stop-color="#0e0e0e"/><stop offset="0.2850" stop-color="#161616"/><stop offset="0.2947" stop-color="#1e1e1e"/><stop offset="0.3018" stop-color="#292929"/><stop offset="0.3168" stop-color="#464646"/><stop offset="0.3274" stop-color="#595959"/><stop offset="0.3345" stop-color="#6b6b6b"/><stop offset="0.3459" stop-color="#8c8c8c"/><stop offset="0.3530" stop-color="#9c9c9c"/><stop offset="0.3689" stop-color="#b8b8b8"/><stop offset="0.3786" stop-color="#c3c3c3"/><stop offset="0.4015" stop-color="#d1d1d1"/><stop offset="0.4156" stop-color="#d7d7d7"/><stop offset="0.4421" stop-color="#dddddd"/><stop offset="0.4712" stop-color="#dcdcdc"/><stop offset="0.5021" stop-color="#d6d6d6"/><stop offset="0.5392" stop-color="#c9c9c9"/><stop offset="0.6230" stop-color="#a9a9a9"/><stop offset="0.6786" stop-color="#9d9d9d"/><stop offset="0.7113" stop-color="#8e8e8e"/><stop offset="0.7995" stop-color="#767676"/><stop offset="0.8683" stop-color="#5e5e5e"/><stop offset="0.9019" stop-color="#535353"/><stop offset="0.9998" stop-color="#3f3f3f"/></linearGradient><linearGradient id="hbr6" gradientUnits="userSpaceOnUse" x1="87" y1="0" x2="370.3" y2="0"><stop offset="0.0000" stop-color="#000000"/><stop offset="0.1862" stop-color="#020202"/><stop offset="0.2656" stop-color="#0e0e0e"/><stop offset="0.2859" stop-color="#161616"/><stop offset="0.2956" stop-color="#1e1e1e"/><stop offset="0.3027" stop-color="#292929"/><stop offset="0.3177" stop-color="#474747"/><stop offset="0.3283" stop-color="#595959"/><stop offset="0.3353" stop-color="#6b6b6b"/><stop offset="0.3468" stop-color="#8c8c8c"/><stop offset="0.3547" stop-color="#9d9d9d"/><stop offset="0.3697" stop-color="#b8b8b8"/><stop offset="0.3803" stop-color="#c2c2c2"/><stop offset="0.4095" stop-color="#d3d3d3"/><stop offset="0.4377" stop-color="#dbdbdb"/><stop offset="0.4633" stop-color="#dadada"/><stop offset="0.4951" stop-color="#d5d5d5"/><stop offset="0.5277" stop-color="#c9c9c9"/><stop offset="0.6124" stop-color="#a8a8a8"/><stop offset="0.6680" stop-color="#9d9d9d"/><stop offset="0.7007" stop-color="#8e8e8e"/><stop offset="0.7916" stop-color="#767676"/><stop offset="0.8613" stop-color="#5e5e5e"/><stop offset="0.8957" stop-color="#535353"/><stop offset="0.9998" stop-color="#3e3e3e"/></linearGradient><linearGradient id="hbr7" gradientUnits="userSpaceOnUse" x1="87" y1="0" x2="370.3" y2="0"><stop offset="0.0000" stop-color="#000000"/><stop offset="0.1862" stop-color="#020202"/><stop offset="0.2665" stop-color="#0e0e0e"/><stop offset="0.2868" stop-color="#171717"/><stop offset="0.2965" stop-color="#1f1f1f"/><stop offset="0.3036" stop-color="#2a2a2a"/><stop offset="0.3177" stop-color="#464646"/><stop offset="0.3292" stop-color="#5a5a5a"/><stop offset="0.3362" stop-color="#6c6c6c"/><stop offset="0.3468" stop-color="#8a8a8a"/><stop offset="0.3547" stop-color="#9b9b9b"/><stop offset="0.3697" stop-color="#b6b6b6"/><stop offset="0.3795" stop-color="#c0c0c0"/><stop offset="0.4068" stop-color="#d0d0d0"/><stop offset="0.4342" stop-color="#d8d8d8"/><stop offset="0.4571" stop-color="#d8d8d8"/><stop offset="0.4898" stop-color="#d3d3d3"/><stop offset="0.5198" stop-color="#c9c9c9"/><stop offset="0.6010" stop-color="#a7a7a7"/><stop offset="0.6557" stop-color="#9c9c9c"/><stop offset="0.6883" stop-color="#8e8e8e"/><stop offset="0.7836" stop-color="#767676"/><stop offset="0.8542" stop-color="#5e5e5e"/><stop offset="0.8895" stop-color="#535353"/><stop offset="0.9998" stop-color="#3e3e3e"/></linearGradient><linearGradient id="hbr8" gradientUnits="userSpaceOnUse" x1="87" y1="0" x2="370.3" y2="0"><stop offset="0.0000" stop-color="#000000"/><stop offset="0.1871" stop-color="#020202"/><stop offset="0.2665" stop-color="#0e0e0e"/><stop offset="0.2868" stop-color="#161616"/><stop offset="0.2965" stop-color="#1e1e1e"/><stop offset="0.3036" stop-color="#292929"/><stop offset="0.3186" stop-color="#464646"/><stop offset="0.3292" stop-color="#585858"/><stop offset="0.3362" stop-color="#6a6a6a"/><stop offset="0.3477" stop-color="#8b8b8b"/><stop offset="0.3556" stop-color="#9b9b9b"/><stop offset="0.3697" stop-color="#b4b4b4"/><stop offset="0.3795" stop-color="#bebebe"/><stop offset="0.4068" stop-color="#cecece"/><stop offset="0.4342" stop-color="#d6d6d6"/><stop offset="0.4580" stop-color="#d6d6d6"/><stop offset="0.4880" stop-color="#d1d1d1"/><stop offset="0.5171" stop-color="#c6c6c6"/><stop offset="0.5895" stop-color="#a7a7a7"/><stop offset="0.6433" stop-color="#9c9c9c"/><stop offset="0.6742" stop-color="#8e8e8e"/><stop offset="0.7766" stop-color="#757575"/><stop offset="0.8489" stop-color="#5d5d5d"/><stop offset="0.8851" stop-color="#535353"/><stop offset="0.9998" stop-color="#3d3d3d"/></linearGradient><linearGradient id="hbr9" gradientUnits="userSpaceOnUse" x1="87" y1="0" x2="370.3" y2="0"><stop offset="0.0000" stop-color="#000000"/><stop offset="0.1871" stop-color="#020202"/><stop offset="0.2674" stop-color="#0e0e0e"/><stop offset="0.2877" stop-color="#171717"/><stop offset="0.2974" stop-color="#1f1f1f"/><stop offset="0.3044" stop-color="#2a2a2a"/><stop offset="0.3186" stop-color="#464646"/><stop offset="0.3300" stop-color="#595959"/><stop offset="0.3380" stop-color="#6e6e6e"/><stop offset="0.3477" stop-color="#898989"/><stop offset="0.3556" stop-color="#999999"/><stop offset="0.3697" stop-color="#b3b3b3"/><stop offset="0.3795" stop-color="#bdbdbd"/><stop offset="0.4068" stop-color="#cccccc"/><stop offset="0.4342" stop-color="#d4d4d4"/><stop offset="0.4580" stop-color="#d4d4d4"/><stop offset="0.4871" stop-color="#cecece"/><stop offset="0.5171" stop-color="#c2c2c2"/><stop offset="0.5807" stop-color="#a6a6a6"/><stop offset="0.6318" stop-color="#9b9b9b"/><stop offset="0.6618" stop-color="#8e8e8e"/><stop offset="0.7677" stop-color="#747474"/><stop offset="0.8692" stop-color="#545454"/><stop offset="0.9998" stop-color="#3d3d3d"/></linearGradient><linearGradient id="hbr10" gradientUnits="userSpaceOnUse" x1="87" y1="0" x2="370.3" y2="0"><stop offset="0.0000" stop-color="#000000"/><stop offset="0.1880" stop-color="#020202"/><stop offset="0.2674" stop-color="#0e0e0e"/><stop offset="0.2877" stop-color="#161616"/><stop offset="0.2974" stop-color="#1f1f1f"/><stop offset="0.3044" stop-color="#2a2a2a"/><stop offset="0.3194" stop-color="#464646"/><stop offset="0.3300" stop-color="#585858"/><stop offset="0.3371" stop-color="#6a6a6a"/><stop offset="0.3486" stop-color="#898989"/><stop offset="0.3574" stop-color="#9b9b9b"/><stop offset="0.3706" stop-color="#b3b3b3"/><stop offset="0.3803" stop-color="#bcbcbc"/><stop offset="0.4086" stop-color="#cbcbcb"/><stop offset="0.4342" stop-color="#d2d2d2"/><stop offset="0.4580" stop-color="#d2d2d2"/><stop offset="0.4862" stop-color="#cccccc"/><stop offset="0.5242" stop-color="#bcbcbc"/><stop offset="0.5718" stop-color="#a5a5a5"/><stop offset="0.6204" stop-color="#9b9b9b"/><stop offset="0.6495" stop-color="#8e8e8e"/><stop offset="0.7580" stop-color="#737373"/><stop offset="0.8569" stop-color="#545454"/><stop offset="0.9998" stop-color="#3c3c3c"/></linearGradient><linearGradient id="hbr11" gradientUnits="userSpaceOnUse" x1="87" y1="0" x2="370.3" y2="0"><stop offset="0.0000" stop-color="#000000"/><stop offset="0.1880" stop-color="#020202"/><stop offset="0.2674" stop-color="#0e0e0e"/><stop offset="0.2877" stop-color="#161616"/><stop offset="0.2974" stop-color="#1e1e1e"/><stop offset="0.3044" stop-color="#292929"/><stop offset="0.3194" stop-color="#464646"/><stop offset="0.3309" stop-color="#595959"/><stop offset="0.3389" stop-color="#6e6e6e"/><stop offset="0.3486" stop-color="#888888"/><stop offset="0.3565" stop-color="#999999"/><stop offset="0.3706" stop-color="#b2b2b2"/><stop offset="0.3803" stop-color="#bbbbbb"/><stop offset="0.4077" stop-color="#cacaca"/><stop offset="0.4333" stop-color="#d2d2d2"/><stop offset="0.4571" stop-color="#d1d1d1"/><stop offset="0.4845" stop-color="#cccccc"/><stop offset="0.5224" stop-color="#bababa"/><stop offset="0.5639" stop-color="#a5a5a5"/><stop offset="0.6107" stop-color="#9b9b9b"/><stop offset="0.6371" stop-color="#8e8e8e"/><stop offset="0.7510" stop-color="#717171"/><stop offset="0.8419" stop-color="#555555"/><stop offset="0.9998" stop-color="#3b3b3b"/></linearGradient><linearGradient id="hbr12" gradientUnits="userSpaceOnUse" x1="87" y1="0" x2="370.3" y2="0"><stop offset="0.0000" stop-color="#000000"/><stop offset="0.1880" stop-color="#020202"/><stop offset="0.2683" stop-color="#0e0e0e"/><stop offset="0.2886" stop-color="#171717"/><stop offset="0.2983" stop-color="#1f1f1f"/><stop offset="0.3053" stop-color="#2a2a2a"/><stop offset="0.3194" stop-color="#454545"/><stop offset="0.3309" stop-color="#595959"/><stop offset="0.3389" stop-color="#6d6d6d"/><stop offset="0.3486" stop-color="#888888"/><stop offset="0.3565" stop-color="#989898"/><stop offset="0.3706" stop-color="#b1b1b1"/><stop offset="0.3803" stop-color="#bbbbbb"/><stop offset="0.4077" stop-color="#cacaca"/><stop offset="0.4333" stop-color="#d1d1d1"/><stop offset="0.4571" stop-color="#d1d1d1"/><stop offset="0.4836" stop-color="#cbcbcb"/><stop offset="0.5312" stop-color="#b3b3b3"/><stop offset="0.5586" stop-color="#a5a5a5"/><stop offset="0.6027" stop-color="#9b9b9b"/><stop offset="0.6283" stop-color="#8e8e8e"/><stop offset="0.7413" stop-color="#707070"/><stop offset="0.8269" stop-color="#555555"/><stop offset="0.9998" stop-color="#3a3a3a"/></linearGradient><linearGradient id="hbr13" gradientUnits="userSpaceOnUse" x1="87" y1="0" x2="370.3" y2="0"><stop offset="0.0000" stop-color="#000000"/><stop offset="0.1880" stop-color="#020202"/><stop offset="0.2683" stop-color="#0e0e0e"/><stop offset="0.2886" stop-color="#171717"/><stop offset="0.2983" stop-color="#1f1f1f"/><stop offset="0.3053" stop-color="#2a2a2a"/><stop offset="0.3194" stop-color="#454545"/><stop offset="0.3309" stop-color="#595959"/><stop offset="0.3389" stop-color="#6d6d6d"/><stop offset="0.3486" stop-color="#878787"/><stop offset="0.3565" stop-color="#989898"/><stop offset="0.3706" stop-color="#b1b1b1"/><stop offset="0.3803" stop-color="#bababa"/><stop offset="0.4077" stop-color="#c9c9c9"/><stop offset="0.4333" stop-color="#d0d0d0"/><stop offset="0.4571" stop-color="#d0d0d0"/><stop offset="0.4827" stop-color="#cacaca"/><stop offset="0.5312" stop-color="#b1b1b1"/><stop offset="0.5551" stop-color="#a4a4a4"/><stop offset="0.5965" stop-color="#9b9b9b"/><stop offset="0.6221" stop-color="#8e8e8e"/><stop offset="0.7289" stop-color="#707070"/><stop offset="0.8092" stop-color="#565656"/><stop offset="0.8780" stop-color="#4b4b4b"/><stop offset="0.9998" stop-color="#393939"/></linearGradient><linearGradient id="hbr14" gradientUnits="userSpaceOnUse" x1="87" y1="0" x2="370.3" y2="0"><stop offset="0.0000" stop-color="#000000"/><stop offset="0.1880" stop-color="#020202"/><stop offset="0.2683" stop-color="#0e0e0e"/><stop offset="0.2886" stop-color="#171717"/><stop offset="0.2983" stop-color="#1f1f1f"/><stop offset="0.3053" stop-color="#2a2a2a"/><stop offset="0.3194" stop-color="#454545"/><stop offset="0.3309" stop-color="#595959"/><stop offset="0.3389" stop-color="#6d6d6d"/><stop offset="0.3486" stop-color="#878787"/><stop offset="0.3565" stop-color="#979797"/><stop offset="0.3706" stop-color="#b0b0b0"/><stop offset="0.3803" stop-color="#bababa"/><stop offset="0.4086" stop-color="#c9c9c9"/><stop offset="0.4333" stop-color="#d0d0d0"/><stop offset="0.4571" stop-color="#cfcfcf"/><stop offset="0.4827" stop-color="#c9c9c9"/><stop offset="0.5365" stop-color="#acacac"/><stop offset="0.5533" stop-color="#a4a4a4"/><stop offset="0.5921" stop-color="#9a9a9a"/><stop offset="0.6160" stop-color="#8e8e8e"/><stop offset="0.7139" stop-color="#707070"/><stop offset="0.7889" stop-color="#575757"/><stop offset="0.8375" stop-color="#4f4f4f"/><stop offset="0.9998" stop-color="#393939"/></linearGradient><linearGradient id="hbr15" gradientUnits="userSpaceOnUse" x1="87" y1="0" x2="370.3" y2="0"><stop offset="0.0000" stop-color="#000000"/><stop offset="0.1880" stop-color="#020202"/><stop offset="0.2683" stop-color="#0e0e0e"/><stop offset="0.2886" stop-color="#171717"/><stop offset="0.2983" stop-color="#1f1f1f"/><stop offset="0.3062" stop-color="#2c2c2c"/><stop offset="0.3194" stop-color="#454545"/><stop offset="0.3309" stop-color="#585858"/><stop offset="0.3389" stop-color="#6c6c6c"/><stop offset="0.3486" stop-color="#878787"/><stop offset="0.3565" stop-color="#979797"/><stop offset="0.3706" stop-color="#b0b0b0"/><stop offset="0.3803" stop-color="#b9b9b9"/><stop offset="0.4086" stop-color="#c8c8c8"/><stop offset="0.4333" stop-color="#cfcfcf"/><stop offset="0.4571" stop-color="#cecece"/><stop offset="0.4827" stop-color="#c8c8c8"/><stop offset="0.5374" stop-color="#aaaaaa"/><stop offset="0.5524" stop-color="#a3a3a3"/><stop offset="0.5877" stop-color="#9b9b9b"/><stop offset="0.6115" stop-color="#8e8e8e"/><stop offset="0.6980" stop-color="#727272"/><stop offset="0.7695" stop-color="#585858"/><stop offset="0.8119" stop-color="#505050"/><stop offset="0.9998" stop-color="#383838"/></linearGradient><linearGradient id="hbr16" gradientUnits="userSpaceOnUse" x1="87" y1="0" x2="370.3" y2="0"><stop offset="0.0000" stop-color="#000000"/><stop offset="0.1880" stop-color="#020202"/><stop offset="0.2683" stop-color="#0e0e0e"/><stop offset="0.2886" stop-color="#171717"/><stop offset="0.2983" stop-color="#1f1f1f"/><stop offset="0.3062" stop-color="#2c2c2c"/><stop offset="0.3194" stop-color="#454545"/><stop offset="0.3309" stop-color="#585858"/><stop offset="0.3389" stop-color="#6c6c6c"/><stop offset="0.3486" stop-color="#878787"/><stop offset="0.3565" stop-color="#979797"/><stop offset="0.3706" stop-color="#afafaf"/><stop offset="0.3803" stop-color="#b9b9b9"/><stop offset="0.4086" stop-color="#c7c7c7"/><stop offset="0.4333" stop-color="#cecece"/><stop offset="0.4571" stop-color="#cdcdcd"/><stop offset="0.4827" stop-color="#c7c7c7"/><stop offset="0.5357" stop-color="#aaaaaa"/><stop offset="0.5507" stop-color="#a2a2a2"/><stop offset="0.5842" stop-color="#9b9b9b"/><stop offset="0.6080" stop-color="#8e8e8e"/><stop offset="0.6866" stop-color="#737373"/><stop offset="0.7554" stop-color="#595959"/><stop offset="0.7942" stop-color="#515151"/><stop offset="0.9998" stop-color="#373737"/></linearGradient><linearGradient id="hbr17" gradientUnits="userSpaceOnUse" x1="87" y1="0" x2="370.3" y2="0"><stop offset="0.0000" stop-color="#000000"/><stop offset="0.1880" stop-color="#020202"/><stop offset="0.2683" stop-color="#0e0e0e"/><stop offset="0.2886" stop-color="#171717"/><stop offset="0.2983" stop-color="#1f1f1f"/><stop offset="0.3062" stop-color="#2c2c2c"/><stop offset="0.3194" stop-color="#454545"/><stop offset="0.3309" stop-color="#585858"/><stop offset="0.3389" stop-color="#6c6c6c"/><stop offset="0.3486" stop-color="#868686"/><stop offset="0.3565" stop-color="#969696"/><stop offset="0.3706" stop-color="#afafaf"/><stop offset="0.3803" stop-color="#b8b8b8"/><stop offset="0.4086" stop-color="#c6c6c6"/><stop offset="0.4333" stop-color="#cdcdcd"/><stop offset="0.4571" stop-color="#cdcdcd"/><stop offset="0.4818" stop-color="#c7c7c7"/><stop offset="0.5312" stop-color="#ababab"/><stop offset="0.5471" stop-color="#a3a3a3"/><stop offset="0.5824" stop-color="#9a9a9a"/><stop offset="0.6045" stop-color="#8e8e8e"/><stop offset="0.6804" stop-color="#737373"/><stop offset="0.7474" stop-color="#5a5a5a"/><stop offset="0.7854" stop-color="#525252"/><stop offset="0.9998" stop-color="#363636"/></linearGradient><linearGradient id="hbr18" gradientUnits="userSpaceOnUse" x1="87" y1="0" x2="370.3" y2="0"><stop offset="0.0000" stop-color="#000000"/><stop offset="0.1880" stop-color="#020202"/><stop offset="0.2683" stop-color="#0e0e0e"/><stop offset="0.2886" stop-color="#171717"/><stop offset="0.2983" stop-color="#1f1f1f"/><stop offset="0.3062" stop-color="#2c2c2c"/><stop offset="0.3194" stop-color="#454545"/><stop offset="0.3309" stop-color="#585858"/><stop offset="0.3389" stop-color="#6c6c6c"/><stop offset="0.3486" stop-color="#868686"/><stop offset="0.3574" stop-color="#979797"/><stop offset="0.3706" stop-color="#aeaeae"/><stop offset="0.3803" stop-color="#b8b8b8"/><stop offset="0.4095" stop-color="#c6c6c6"/><stop offset="0.4333" stop-color="#cdcdcd"/><stop offset="0.4571" stop-color="#cccccc"/><stop offset="0.4818" stop-color="#c6c6c6"/><stop offset="0.5304" stop-color="#ababab"/><stop offset="0.5454" stop-color="#a3a3a3"/><stop offset="0.5798" stop-color="#9a9a9a"/><stop offset="0.6018" stop-color="#8e8e8e"/><stop offset="0.6751" stop-color="#747474"/><stop offset="0.7413" stop-color="#5a5a5a"/><stop offset="0.7774" stop-color="#525252"/><stop offset="0.9998" stop-color="#353535"/></linearGradient><linearGradient id="hbr19" gradientUnits="userSpaceOnUse" x1="87" y1="0" x2="370.3" y2="0"><stop offset="0.0000" stop-color="#000000"/><stop offset="0.1880" stop-color="#020202"/><stop offset="0.2683" stop-color="#0e0e0e"/><stop offset="0.2886" stop-color="#171717"/><stop offset="0.2983" stop-color="#1f1f1f"/><stop offset="0.3062" stop-color="#2c2c2c"/><stop offset="0.3194" stop-color="#454545"/><stop offset="0.3309" stop-color="#585858"/><stop offset="0.3389" stop-color="#6c6c6c"/><stop offset="0.3486" stop-color="#868686"/><stop offset="0.3574" stop-color="#979797"/><stop offset="0.3706" stop-color="#aeaeae"/><stop offset="0.3803" stop-color="#b7b7b7"/><stop offset="0.4095" stop-color="#c5c5c5"/><stop offset="0.4333" stop-color="#cccccc"/><stop offset="0.4571" stop-color="#cbcbcb"/><stop offset="0.4818" stop-color="#c6c6c6"/><stop offset="0.5295" stop-color="#ababab"/><stop offset="0.5445" stop-color="#a2a2a2"/><stop offset="0.5780" stop-color="#9a9a9a"/><stop offset="0.6001" stop-color="#8e8e8e"/><stop offset="0.6715" stop-color="#747474"/><stop offset="0.7369" stop-color="#5a5a5a"/><stop offset="0.7721" stop-color="#525252"/><stop offset="0.9998" stop-color="#343434"/></linearGradient><linearGradient id="hbr20" gradientUnits="userSpaceOnUse" x1="87" y1="0" x2="370.3" y2="0"><stop offset="0.0000" stop-color="#000000"/><stop offset="0.1880" stop-color="#020202"/><stop offset="0.2683" stop-color="#0e0e0e"/><stop offset="0.2886" stop-color="#171717"/><stop offset="0.2983" stop-color="#1f1f1f"/><stop offset="0.3062" stop-color="#2c2c2c"/><stop offset="0.3194" stop-color="#454545"/><stop offset="0.3309" stop-color="#585858"/><stop offset="0.3389" stop-color="#6b6b6b"/><stop offset="0.3486" stop-color="#858585"/><stop offset="0.3574" stop-color="#969696"/><stop offset="0.3706" stop-color="#adadad"/><stop offset="0.3803" stop-color="#b6b6b6"/><stop offset="0.4103" stop-color="#c4c4c4"/><stop offset="0.4342" stop-color="#cbcbcb"/><stop offset="0.4598" stop-color="#cacaca"/><stop offset="0.4836" stop-color="#c4c4c4"/><stop offset="0.5312" stop-color="#a8a8a8"/><stop offset="0.5454" stop-color="#a1a1a1"/><stop offset="0.5771" stop-color="#9a9a9a"/><stop offset="0.5983" stop-color="#8e8e8e"/><stop offset="0.6689" stop-color="#757575"/><stop offset="0.7351" stop-color="#595959"/><stop offset="0.7704" stop-color="#515151"/><stop offset="0.9998" stop-color="#323232"/></linearGradient><linearGradient id="hbr21" gradientUnits="userSpaceOnUse" x1="87" y1="0" x2="370.3" y2="0"><stop offset="0.0000" stop-color="#000000"/><stop offset="0.1880" stop-color="#020202"/><stop offset="0.2683" stop-color="#0e0e0e"/><stop offset="0.2886" stop-color="#171717"/><stop offset="0.2983" stop-color="#1f1f1f"/><stop offset="0.3062" stop-color="#2c2c2c"/><stop offset="0.3194" stop-color="#454545"/><stop offset="0.3309" stop-color="#575757"/><stop offset="0.3389" stop-color="#6b6b6b"/><stop offset="0.3486" stop-color="#848484"/><stop offset="0.3574" stop-color="#959595"/><stop offset="0.3706" stop-color="#ababab"/><stop offset="0.3803" stop-color="#b4b4b4"/><stop offset="0.4112" stop-color="#c2c2c2"/><stop offset="0.4351" stop-color="#c8c8c8"/><stop offset="0.4615" stop-color="#c7c7c7"/><stop offset="0.4845" stop-color="#c1c1c1"/><stop offset="0.5312" stop-color="#a7a7a7"/><stop offset="0.5445" stop-color="#a1a1a1"/><stop offset="0.5762" stop-color="#9a9a9a"/><stop offset="0.5974" stop-color="#8e8e8e"/><stop offset="0.6654" stop-color="#757575"/><stop offset="0.7333" stop-color="#595959"/><stop offset="0.7686" stop-color="#515151"/><stop offset="0.9910" stop-color="#313131"/><stop offset="0.9998" stop-color="#2f2f2f"/></linearGradient><linearGradient id="hbr22" gradientUnits="userSpaceOnUse" x1="87" y1="0" x2="370.3" y2="0"><stop offset="0.0000" stop-color="#000000"/><stop offset="0.1880" stop-color="#020202"/><stop offset="0.2683" stop-color="#0e0e0e"/><stop offset="0.2886" stop-color="#171717"/><stop offset="0.2983" stop-color="#1f1f1f"/><stop offset="0.3062" stop-color="#2c2c2c"/><stop offset="0.3194" stop-color="#454545"/><stop offset="0.3309" stop-color="#575757"/><stop offset="0.3389" stop-color="#6a6a6a"/><stop offset="0.3486" stop-color="#838383"/><stop offset="0.3574" stop-color="#949494"/><stop offset="0.3706" stop-color="#aaaaaa"/><stop offset="0.3803" stop-color="#b2b2b2"/><stop offset="0.4130" stop-color="#c0c0c0"/><stop offset="0.4359" stop-color="#c6c6c6"/><stop offset="0.4633" stop-color="#c5c5c5"/><stop offset="0.4854" stop-color="#bfbfbf"/><stop offset="0.5312" stop-color="#a6a6a6"/><stop offset="0.5445" stop-color="#a0a0a0"/><stop offset="0.5754" stop-color="#999999"/><stop offset="0.5965" stop-color="#8e8e8e"/><stop offset="0.6627" stop-color="#767676"/><stop offset="0.7316" stop-color="#585858"/><stop offset="0.7660" stop-color="#515151"/><stop offset="0.9795" stop-color="#313131"/><stop offset="0.9998" stop-color="#2c2c2c"/></linearGradient><linearGradient id="hbr23" gradientUnits="userSpaceOnUse" x1="87" y1="0" x2="370.3" y2="0"><stop offset="0.0000" stop-color="#000000"/><stop offset="0.1880" stop-color="#020202"/><stop offset="0.2683" stop-color="#0e0e0e"/><stop offset="0.2886" stop-color="#171717"/><stop offset="0.2983" stop-color="#1f1f1f"/><stop offset="0.3062" stop-color="#2c2c2c"/><stop offset="0.3194" stop-color="#444444"/><stop offset="0.3309" stop-color="#575757"/><stop offset="0.3389" stop-color="#6a6a6a"/><stop offset="0.3486" stop-color="#828282"/><stop offset="0.3574" stop-color="#939393"/><stop offset="0.3706" stop-color="#a8a8a8"/><stop offset="0.3803" stop-color="#b0b0b0"/><stop offset="0.4148" stop-color="#bfbfbf"/><stop offset="0.4368" stop-color="#c4c4c4"/><stop offset="0.4659" stop-color="#c2c2c2"/><stop offset="0.4862" stop-color="#bdbdbd"/><stop offset="0.5312" stop-color="#a4a4a4"/><stop offset="0.5445" stop-color="#9f9f9f"/><stop offset="0.5745" stop-color="#999999"/><stop offset="0.5965" stop-color="#8d8d8d"/><stop offset="0.6601" stop-color="#767676"/><stop offset="0.7307" stop-color="#585858"/><stop offset="0.7660" stop-color="#505050"/><stop offset="0.9425" stop-color="#353535"/><stop offset="0.9998" stop-color="#2a2a2a"/></linearGradient><linearGradient id="hbr24" gradientUnits="userSpaceOnUse" x1="87" y1="0" x2="370.3" y2="0"><stop offset="0.0000" stop-color="#000000"/><stop offset="0.1880" stop-color="#020202"/><stop offset="0.2683" stop-color="#0e0e0e"/><stop offset="0.2886" stop-color="#171717"/><stop offset="0.2983" stop-color="#1f1f1f"/><stop offset="0.3062" stop-color="#2c2c2c"/><stop offset="0.3194" stop-color="#444444"/><stop offset="0.3309" stop-color="#575757"/><stop offset="0.3389" stop-color="#696969"/><stop offset="0.3486" stop-color="#828282"/><stop offset="0.3574" stop-color="#929292"/><stop offset="0.3706" stop-color="#a8a8a8"/><stop offset="0.3803" stop-color="#b0b0b0"/><stop offset="0.4165" stop-color="#bebebe"/><stop offset="0.4386" stop-color="#c3c3c3"/><stop offset="0.4695" stop-color="#c0c0c0"/><stop offset="0.4880" stop-color="#bbbbbb"/><stop offset="0.5312" stop-color="#a4a4a4"/><stop offset="0.5445" stop-color="#9e9e9e"/><stop offset="0.5745" stop-color="#999999"/><stop offset="0.5957" stop-color="#8d8d8d"/><stop offset="0.6592" stop-color="#767676"/><stop offset="0.7307" stop-color="#575757"/><stop offset="0.7677" stop-color="#4f4f4f"/><stop offset="0.9239" stop-color="#363636"/><stop offset="0.9619" stop-color="#2f2f2f"/><stop offset="0.9998" stop-color="#272727"/></linearGradient><linearGradient id="hbr25" gradientUnits="userSpaceOnUse" x1="87" y1="0" x2="370.3" y2="0"><stop offset="0.0000" stop-color="#000000"/><stop offset="0.1880" stop-color="#020202"/><stop offset="0.2683" stop-color="#0e0e0e"/><stop offset="0.2886" stop-color="#171717"/><stop offset="0.2983" stop-color="#1f1f1f"/><stop offset="0.3062" stop-color="#2c2c2c"/><stop offset="0.3194" stop-color="#444444"/><stop offset="0.3309" stop-color="#575757"/><stop offset="0.3389" stop-color="#696969"/><stop offset="0.3486" stop-color="#828282"/><stop offset="0.3574" stop-color="#929292"/><stop offset="0.3706" stop-color="#a8a8a8"/><stop offset="0.3803" stop-color="#b0b0b0"/><stop offset="0.4165" stop-color="#bebebe"/><stop offset="0.4386" stop-color="#c3c3c3"/><stop offset="0.4695" stop-color="#c0c0c0"/><stop offset="0.4880" stop-color="#bbbbbb"/><stop offset="0.5312" stop-color="#a4a4a4"/><stop offset="0.5445" stop-color="#9e9e9e"/><stop offset="0.5736" stop-color="#999999"/><stop offset="0.5957" stop-color="#8d8d8d"/><stop offset="0.6583" stop-color="#777777"/><stop offset="0.7307" stop-color="#575757"/><stop offset="0.7695" stop-color="#4e4e4e"/><stop offset="0.9098" stop-color="#363636"/><stop offset="0.9486" stop-color="#2f2f2f"/><stop offset="0.9998" stop-color="#262626"/></linearGradient><linearGradient id="hbr26" gradientUnits="userSpaceOnUse" x1="87" y1="0" x2="370.3" y2="0"><stop offset="0.0000" stop-color="#000000"/><stop offset="0.1880" stop-color="#020202"/><stop offset="0.2683" stop-color="#0e0e0e"/><stop offset="0.2886" stop-color="#171717"/><stop offset="0.2983" stop-color="#1f1f1f"/><stop offset="0.3062" stop-color="#2c2c2c"/><stop offset="0.3194" stop-color="#444444"/><stop offset="0.3309" stop-color="#575757"/><stop offset="0.3389" stop-color="#696969"/><stop offset="0.3486" stop-color="#828282"/><stop offset="0.3574" stop-color="#929292"/><stop offset="0.3706" stop-color="#a8a8a8"/><stop offset="0.3803" stop-color="#b0b0b0"/><stop offset="0.4165" stop-color="#bebebe"/><stop offset="0.4386" stop-color="#c3c3c3"/><stop offset="0.4695" stop-color="#c0c0c0"/><stop offset="0.4880" stop-color="#bbbbbb"/><stop offset="0.5312" stop-color="#a4a4a4"/><stop offset="0.5445" stop-color="#9e9e9e"/><stop offset="0.5736" stop-color="#999999"/><stop offset="0.5957" stop-color="#8d8d8d"/><stop offset="0.6583" stop-color="#777777"/><stop offset="0.7316" stop-color="#565656"/><stop offset="0.7774" stop-color="#4c4c4c"/><stop offset="0.8983" stop-color="#373737"/><stop offset="0.9372" stop-color="#2f2f2f"/><stop offset="0.9866" stop-color="#262626"/><stop offset="0.9998" stop-color="#242424"/></linearGradient><linearGradient id="hbr27" gradientUnits="userSpaceOnUse" x1="87" y1="0" x2="370.3" y2="0"><stop offset="0.0000" stop-color="#000000"/><stop offset="0.1880" stop-color="#020202"/><stop offset="0.2683" stop-color="#0e0e0e"/><stop offset="0.2886" stop-color="#171717"/><stop offset="0.2983" stop-color="#1f1f1f"/><stop offset="0.3062" stop-color="#2c2c2c"/><stop offset="0.3194" stop-color="#444444"/><stop offset="0.3309" stop-color="#575757"/><stop offset="0.3389" stop-color="#696969"/><stop offset="0.3486" stop-color="#828282"/><stop offset="0.3574" stop-color="#929292"/><stop offset="0.3706" stop-color="#a8a8a8"/><stop offset="0.3803" stop-color="#b0b0b0"/><stop offset="0.4165" stop-color="#bebebe"/><stop offset="0.4386" stop-color="#c3c3c3"/><stop offset="0.4695" stop-color="#c0c0c0"/><stop offset="0.4880" stop-color="#bbbbbb"/><stop offset="0.5312" stop-color="#a4a4a4"/><stop offset="0.5445" stop-color="#9e9e9e"/><stop offset="0.5736" stop-color="#999999"/><stop offset="0.5957" stop-color="#8d8d8d"/><stop offset="0.6583" stop-color="#777777"/><stop offset="0.7324" stop-color="#555555"/><stop offset="0.8057" stop-color="#464646"/><stop offset="0.8904" stop-color="#363636"/><stop offset="0.9283" stop-color="#2f2f2f"/><stop offset="0.9786" stop-color="#252525"/><stop offset="0.9998" stop-color="#232323"/></linearGradient><linearGradient id="hbr28" gradientUnits="userSpaceOnUse" x1="87" y1="0" x2="370.3" y2="0"><stop offset="0.0000" stop-color="#000000"/><stop offset="0.1880" stop-color="#020202"/><stop offset="0.2683" stop-color="#0e0e0e"/><stop offset="0.2886" stop-color="#171717"/><stop offset="0.2983" stop-color="#1f1f1f"/><stop offset="0.3062" stop-color="#2c2c2c"/><stop offset="0.3194" stop-color="#444444"/><stop offset="0.3309" stop-color="#575757"/><stop offset="0.3389" stop-color="#696969"/><stop offset="0.3486" stop-color="#828282"/><stop offset="0.3574" stop-color="#929292"/><stop offset="0.3706" stop-color="#a8a8a8"/><stop offset="0.3803" stop-color="#b0b0b0"/><stop offset="0.4165" stop-color="#bebebe"/><stop offset="0.4386" stop-color="#c3c3c3"/><stop offset="0.4695" stop-color="#c0c0c0"/><stop offset="0.4880" stop-color="#bbbbbb"/><stop offset="0.5312" stop-color="#a4a4a4"/><stop offset="0.5445" stop-color="#9e9e9e"/><stop offset="0.5736" stop-color="#999999"/><stop offset="0.5957" stop-color="#8d8d8d"/><stop offset="0.6583" stop-color="#777777"/><stop offset="0.7324" stop-color="#555555"/><stop offset="0.8586" stop-color="#3a3a3a"/><stop offset="0.9133" stop-color="#303030"/><stop offset="0.9575" stop-color="#272727"/><stop offset="0.9998" stop-color="#232323"/></linearGradient><linearGradient id="hbr29" gradientUnits="userSpaceOnUse" x1="87" y1="0" x2="370.3" y2="0"><stop offset="0.0000" stop-color="#000000"/><stop offset="0.1880" stop-color="#020202"/><stop offset="0.2683" stop-color="#0e0e0e"/><stop offset="0.2886" stop-color="#171717"/><stop offset="0.2983" stop-color="#1f1f1f"/><stop offset="0.3062" stop-color="#2c2c2c"/><stop offset="0.3194" stop-color="#444444"/><stop offset="0.3309" stop-color="#575757"/><stop offset="0.3389" stop-color="#696969"/><stop offset="0.3486" stop-color="#828282"/><stop offset="0.3574" stop-color="#929292"/><stop offset="0.3706" stop-color="#a8a8a8"/><stop offset="0.3803" stop-color="#b0b0b0"/><stop offset="0.4165" stop-color="#bebebe"/><stop offset="0.4386" stop-color="#c3c3c3"/><stop offset="0.4695" stop-color="#c0c0c0"/><stop offset="0.4880" stop-color="#bbbbbb"/><stop offset="0.5312" stop-color="#a4a4a4"/><stop offset="0.5445" stop-color="#9e9e9e"/><stop offset="0.5736" stop-color="#999999"/><stop offset="0.5957" stop-color="#8d8d8d"/><stop offset="0.6583" stop-color="#777777"/><stop offset="0.7333" stop-color="#555555"/><stop offset="0.8657" stop-color="#383838"/><stop offset="0.9072" stop-color="#303030"/><stop offset="0.9513" stop-color="#272727"/><stop offset="0.9998" stop-color="#222222"/></linearGradient><linearGradient id="hbr30" gradientUnits="userSpaceOnUse" x1="87" y1="0" x2="370.3" y2="0"><stop offset="0.0000" stop-color="#000000"/><stop offset="0.1880" stop-color="#020202"/><stop offset="0.2683" stop-color="#0e0e0e"/><stop offset="0.2886" stop-color="#171717"/><stop offset="0.2983" stop-color="#1f1f1f"/><stop offset="0.3062" stop-color="#2c2c2c"/><stop offset="0.3194" stop-color="#444444"/><stop offset="0.3309" stop-color="#575757"/><stop offset="0.3389" stop-color="#696969"/><stop offset="0.3486" stop-color="#828282"/><stop offset="0.3574" stop-color="#929292"/><stop offset="0.3706" stop-color="#a8a8a8"/><stop offset="0.3803" stop-color="#b0b0b0"/><stop offset="0.4165" stop-color="#bebebe"/><stop offset="0.4386" stop-color="#c3c3c3"/><stop offset="0.4695" stop-color="#c0c0c0"/><stop offset="0.4880" stop-color="#bbbbbb"/><stop offset="0.5312" stop-color="#a4a4a4"/><stop offset="0.5445" stop-color="#9e9e9e"/><stop offset="0.5736" stop-color="#999999"/><stop offset="0.5957" stop-color="#8d8d8d"/><stop offset="0.6583" stop-color="#777777"/><stop offset="0.7333" stop-color="#555555"/><stop offset="0.8613" stop-color="#383838"/><stop offset="0.9019" stop-color="#303030"/><stop offset="0.9451" stop-color="#272727"/><stop offset="0.9998" stop-color="#222222"/></linearGradient><linearGradient id="hbr31" gradientUnits="userSpaceOnUse" x1="87" y1="0" x2="370.3" y2="0"><stop offset="0.0000" stop-color="#000000"/><stop offset="0.1880" stop-color="#020202"/><stop offset="0.2683" stop-color="#0e0e0e"/><stop offset="0.2886" stop-color="#171717"/><stop offset="0.2983" stop-color="#1f1f1f"/><stop offset="0.3062" stop-color="#2c2c2c"/><stop offset="0.3194" stop-color="#444444"/><stop offset="0.3309" stop-color="#575757"/><stop offset="0.3389" stop-color="#696969"/><stop offset="0.3486" stop-color="#828282"/><stop offset="0.3574" stop-color="#929292"/><stop offset="0.3706" stop-color="#a8a8a8"/><stop offset="0.3803" stop-color="#b0b0b0"/><stop offset="0.4165" stop-color="#bebebe"/><stop offset="0.4386" stop-color="#c3c3c3"/><stop offset="0.4695" stop-color="#c0c0c0"/><stop offset="0.4880" stop-color="#bbbbbb"/><stop offset="0.5312" stop-color="#a4a4a4"/><stop offset="0.5445" stop-color="#9e9e9e"/><stop offset="0.5736" stop-color="#999999"/><stop offset="0.5957" stop-color="#8d8d8d"/><stop offset="0.6583" stop-color="#777777"/><stop offset="0.7333" stop-color="#545454"/><stop offset="0.8577" stop-color="#383838"/><stop offset="0.8975" stop-color="#303030"/><stop offset="0.9398" stop-color="#272727"/><stop offset="0.9998" stop-color="#212121"/></linearGradient><linearGradient id="hbr32" gradientUnits="userSpaceOnUse" x1="87" y1="0" x2="370.3" y2="0"><stop offset="0.0000" stop-color="#000000"/><stop offset="0.1880" stop-color="#020202"/><stop offset="0.2683" stop-color="#0e0e0e"/><stop offset="0.2886" stop-color="#171717"/><stop offset="0.2983" stop-color="#1f1f1f"/><stop offset="0.3062" stop-color="#2c2c2c"/><stop offset="0.3194" stop-color="#444444"/><stop offset="0.3309" stop-color="#575757"/><stop offset="0.3389" stop-color="#696969"/><stop offset="0.3486" stop-color="#828282"/><stop offset="0.3574" stop-color="#929292"/><stop offset="0.3706" stop-color="#a8a8a8"/><stop offset="0.3803" stop-color="#b0b0b0"/><stop offset="0.4165" stop-color="#bebebe"/><stop offset="0.4386" stop-color="#c3c3c3"/><stop offset="0.4695" stop-color="#c0c0c0"/><stop offset="0.4880" stop-color="#bbbbbb"/><stop offset="0.5312" stop-color="#a4a4a4"/><stop offset="0.5445" stop-color="#9e9e9e"/><stop offset="0.5736" stop-color="#999999"/><stop offset="0.5957" stop-color="#8d8d8d"/><stop offset="0.6583" stop-color="#777777"/><stop offset="0.7333" stop-color="#545454"/><stop offset="0.8542" stop-color="#383838"/><stop offset="0.8930" stop-color="#303030"/><stop offset="0.9354" stop-color="#262626"/><stop offset="0.9963" stop-color="#212121"/><stop offset="0.9998" stop-color="#212121"/></linearGradient><linearGradient id="hbr33" gradientUnits="userSpaceOnUse" x1="87" y1="0" x2="370.3" y2="0"><stop offset="0.0000" stop-color="#000000"/><stop offset="0.1880" stop-color="#020202"/><stop offset="0.2683" stop-color="#0e0e0e"/><stop offset="0.2886" stop-color="#171717"/><stop offset="0.2983" stop-color="#1f1f1f"/><stop offset="0.3062" stop-color="#2c2c2c"/><stop offset="0.3194" stop-color="#444444"/><stop offset="0.3309" stop-color="#575757"/><stop offset="0.3389" stop-color="#696969"/><stop offset="0.3486" stop-color="#828282"/><stop offset="0.3574" stop-color="#929292"/><stop offset="0.3706" stop-color="#a8a8a8"/><stop offset="0.3803" stop-color="#b0b0b0"/><stop offset="0.4165" stop-color="#bebebe"/><stop offset="0.4386" stop-color="#c3c3c3"/><stop offset="0.4695" stop-color="#c0c0c0"/><stop offset="0.4880" stop-color="#bbbbbb"/><stop offset="0.5312" stop-color="#a4a4a4"/><stop offset="0.5445" stop-color="#9e9e9e"/><stop offset="0.5736" stop-color="#999999"/><stop offset="0.5957" stop-color="#8d8d8d"/><stop offset="0.6583" stop-color="#777777"/><stop offset="0.7166" stop-color="#5b5b5b"/><stop offset="0.7413" stop-color="#525252"/><stop offset="0.8533" stop-color="#373737"/><stop offset="0.8904" stop-color="#2f2f2f"/><stop offset="0.9328" stop-color="#262626"/><stop offset="0.9963" stop-color="#212121"/><stop offset="0.9998" stop-color="#212121"/></linearGradient><linearGradient id="hbr34" gradientUnits="userSpaceOnUse" x1="87" y1="0" x2="370.3" y2="0"><stop offset="0.0000" stop-color="#000000"/><stop offset="0.1880" stop-color="#020202"/><stop offset="0.2683" stop-color="#0e0e0e"/><stop offset="0.2886" stop-color="#171717"/><stop offset="0.2983" stop-color="#1f1f1f"/><stop offset="0.3062" stop-color="#2c2c2c"/><stop offset="0.3194" stop-color="#444444"/><stop offset="0.3309" stop-color="#575757"/><stop offset="0.3389" stop-color="#696969"/><stop offset="0.3486" stop-color="#828282"/><stop offset="0.3574" stop-color="#929292"/><stop offset="0.3706" stop-color="#a8a8a8"/><stop offset="0.3803" stop-color="#b0b0b0"/><stop offset="0.4165" stop-color="#bebebe"/><stop offset="0.4386" stop-color="#c3c3c3"/><stop offset="0.4695" stop-color="#c0c0c0"/><stop offset="0.4880" stop-color="#bbbbbb"/><stop offset="0.5312" stop-color="#a4a4a4"/><stop offset="0.5445" stop-color="#9e9e9e"/><stop offset="0.5736" stop-color="#999999"/><stop offset="0.5957" stop-color="#8d8d8d"/><stop offset="0.6583" stop-color="#777777"/><stop offset="0.7148" stop-color="#5c5c5c"/><stop offset="0.7395" stop-color="#525252"/><stop offset="0.8507" stop-color="#373737"/><stop offset="0.8869" stop-color="#2f2f2f"/><stop offset="0.9283" stop-color="#262626"/><stop offset="0.9901" stop-color="#212121"/><stop offset="0.9998" stop-color="#202020"/></linearGradient><linearGradient id="hbS" gradientUnits="userSpaceOnUse" x1="0" y1="-60" x2="0" y2="38"><stop offset="0.0000" stop-color="#ffffff"/><stop offset="0.3776" stop-color="#fefefe"/><stop offset="0.4566" stop-color="#fcfcfc"/><stop offset="0.4770" stop-color="#f7f7f7"/><stop offset="0.4949" stop-color="#f0f0f0"/><stop offset="0.5077" stop-color="#e7e7e7"/><stop offset="0.5408" stop-color="#c8c8c8"/><stop offset="0.5969" stop-color="#969696"/><stop offset="0.6250" stop-color="#7b7b7b"/><stop offset="0.6633" stop-color="#525252"/><stop offset="0.6837" stop-color="#404040"/><stop offset="0.6964" stop-color="#363636"/><stop offset="0.7066" stop-color="#313131"/><stop offset="0.7321" stop-color="#292929"/><stop offset="0.7908" stop-color="#1d1d1d"/><stop offset="0.8597" stop-color="#0a0a0a"/><stop offset="0.8852" stop-color="#050505"/><stop offset="0.9668" stop-color="#010101"/><stop offset="1.0000" stop-color="#000000"/></linearGradient><filter id="hbcm" x="0" y="0" width="1" height="1" color-interpolation-filters="sRGB"><feComponentTransfer><feFuncR type="table" tableValues="0.424 0.431 0.438 0.446 0.453 0.461 0.468 0.476 0.483 0.491 0.497 0.503 0.509 0.514 0.520 0.526 0.532 0.537 0.538 0.528 0.518 0.508 0.499 0.489 0.479 0.448 0.415 0.382 0.349 0.316 0.283 0.250 0.211 0.172 0.132 0.093 0.054 0.015 0.000 0.000 0.000 0.000 0.000 0.000 0.000 0.000 0.000 0.000 0.000 0.000 0.000 0.000 0.000 0.000 0.000 0.000 0.000 0.000 0.000 0.000 0.000 0.000 0.000 0.000 0.000 0.000 0.000 0.000 0.000 0.000 0.000 0.000 0.000 0.000 0.000 0.000 0.000 0.000 0.008 0.017 0.026 0.035 0.043 0.052 0.061 0.088 0.121 0.153 0.186 0.219 0.252 0.284 0.316 0.340 0.363 0.387 0.411 0.435 0.458 0.482 0.504 0.520 0.535 0.550 0.566 0.581 0.596 0.612 0.627 0.643 0.659 0.674 0.690 0.706 0.722 0.738 0.754 0.776 0.799 0.821 0.843 0.866 0.888 0.911 0.933 0.956 0.978 1.000 1.000 1.000 1.000 1.000 1.000 1.000 1.000 1.000 1.000 1.000 1.000 1.000 1.000 1.000 1.000 1.000 1.000 1.000 1.000 1.000 1.000 1.000 1.000 1.000 1.000 1.000 1.000 1.000 1.000 1.000 1.000 1.000 1.000 1.000 1.000 1.000 1.000 1.000 1.000 1.000 1.000 1.000 1.000 1.000 1.000 1.000 1.000 1.000 1.000 1.000 1.000 1.000 1.000 1.000 1.000 1.000 1.000 1.000 1.000 1.000 1.000 1.000 1.000 1.000 1.000 1.000 1.000 1.000 1.000 1.000 1.000 1.000 1.000 1.000 1.000 1.000 0.997 0.981 0.966 0.951 0.935 0.920 0.905 0.893 0.882 0.871 0.860 0.850 0.839 0.828 0.817 0.805 0.793 0.781 0.770 0.758 0.746 0.734 0.722 0.710 0.698 0.687 0.675 0.663 0.651 0.639 0.627 0.617 0.608 0.598 0.588 0.578 0.568 0.558 0.548 0.538 0.528 0.519 0.509 0.499 0.489 0.479 0.468 0.449 0.430 0.410 0.391 0.372 0.353"/><feFuncG type="table" tableValues="0.000 0.000 0.000 0.000 0.000 0.000 0.000 0.000 0.000 0.000 0.000 0.000 0.000 0.000 0.000 0.000 0.000 0.000 0.000 0.000 0.000 0.000 0.000 0.000 0.000 0.000 0.000 0.000 0.000 0.000 0.000 0.000 0.020 0.040 0.059 0.079 0.099 0.118 0.150 0.190 0.229 0.269 0.308 0.348 0.387 0.427 0.456 0.479 0.503 0.527 0.550 0.574 0.598 0.622 0.648 0.676 0.704 0.731 0.759 0.787 0.814 0.842 0.863 0.882 0.901 0.921 0.940 0.959 0.978 0.998 1.000 1.000 1.000 1.000 1.000 1.000 1.000 1.000 1.000 1.000 1.000 1.000 1.000 1.000 1.000 1.000 1.000 1.000 1.000 1.000 1.000 1.000 1.000 1.000 1.000 1.000 1.000 1.000 1.000 1.000 1.000 1.000 1.000 1.000 1.000 1.000 1.000 1.000 1.000 1.000 1.000 1.000 1.000 1.000 1.000 1.000 1.000 1.000 1.000 1.000 1.000 1.000 1.000 1.000 1.000 1.000 1.000 1.000 0.982 0.964 0.947 0.929 0.912 0.894 0.877 0.859 0.841 0.821 0.801 0.781 0.762 0.742 0.722 0.702 0.681 0.657 0.634 0.610 0.586 0.562 0.539 0.515 0.490 0.462 0.434 0.407 0.379 0.351 0.324 0.296 0.264 0.229 0.193 0.157 0.122 0.086 0.051 0.015 0.000 0.000 0.000 0.000 0.000 0.000 0.000 0.000 0.000 0.000 0.000 0.000 0.000 0.000 0.000 0.000 0.000 0.000 0.000 0.000 0.000 0.000 0.000 0.000 0.000 0.000 0.000 0.000 0.000 0.000 0.000 0.000 0.000 0.000 0.000 0.000 0.000 0.000 0.000 0.000 0.000 0.000 0.000 0.000 0.000 0.000 0.000 0.000 0.000 0.000 0.000 0.000 0.000 0.000 0.000 0.000 0.000 0.000 0.000 0.000 0.000 0.000 0.000 0.000 0.000 0.000 0.000 0.000 0.000 0.000 0.000 0.000 0.000 0.000 0.000 0.000 0.000 0.000 0.000 0.000 0.000 0.000 0.000 0.000 0.000 0.000 0.000 0.000 0.000"/><feFuncB type="table" tableValues="0.439 0.453 0.467 0.481 0.496 0.510 0.524 0.538 0.552 0.566 0.588 0.618 0.648 0.677 0.707 0.737 0.766 0.796 0.825 0.854 0.883 0.912 0.941 0.969 0.998 1.000 1.000 1.000 1.000 1.000 1.000 1.000 1.000 1.000 1.000 1.000 1.000 1.000 1.000 1.000 1.000 1.000 1.000 1.000 1.000 1.000 1.000 1.000 1.000 1.000 1.000 1.000 1.000 1.000 1.000 1.000 1.000 1.000 1.000 1.000 1.000 1.000 1.000 1.000 1.000 1.000 1.000 1.000 1.000 1.000 0.952 0.897 0.842 0.787 0.732 0.677 0.623 0.568 0.499 0.429 0.359 0.289 0.218 0.148 0.078 0.056 0.048 0.040 0.032 0.024 0.016 0.007 0.000 0.000 0.000 0.000 0.000 0.000 0.000 0.000 0.000 0.000 0.000 0.000 0.000 0.000 0.000 0.000 0.000 0.000 0.000 0.000 0.000 0.000 0.000 0.000 0.000 0.000 0.000 0.000 0.000 0.000 0.000 0.000 0.000 0.000 0.000 0.000 0.000 0.000 0.000 0.000 0.000 0.000 0.000 0.000 0.000 0.000 0.000 0.000 0.000 0.000 0.000 0.000 0.000 0.000 0.000 0.000 0.000 0.000 0.000 0.000 0.000 0.000 0.000 0.000 0.000 0.000 0.000 0.000 0.000 0.000 0.000 0.000 0.000 0.000 0.000 0.000 0.000 0.000 0.000 0.000 0.000 0.000 0.000 0.000 0.000 0.000 0.000 0.000 0.000 0.000 0.000 0.000 0.000 0.000 0.000 0.000 0.000 0.000 0.000 0.000 0.000 0.000 0.000 0.000 0.000 0.000 0.000 0.000 0.000 0.000 0.000 0.000 0.000 0.000 0.000 0.000 0.000 0.000 0.000 0.000 0.000 0.000 0.000 0.000 0.000 0.000 0.000 0.000 0.000 0.000 0.000 0.000 0.000 0.000 0.000 0.000 0.000 0.000 0.000 0.000 0.000 0.000 0.000 0.000 0.000 0.000 0.000 0.000 0.000 0.000 0.000 0.000 0.000 0.000 0.000 0.000 0.000 0.000 0.000 0.000 0.000 0.000 0.000 0.000 0.000"/></feComponentTransfer></filter></defs><clipPath id="hbclip"><rect x="87" y="648.4" width="283.3" height="244.9"/></clipPath><g clip-path="url(#hbclip)"><g filter="url(#hbcm)" style="isolation:isolate"><rect x="87" y="648.4" width="283.3" height="244.9" fill="url(#hbg)"/><rect x="87" y="648.4" width="283.3" height="1" fill="url(#hbr0)"/><rect x="87" y="649.4" width="283.3" height="1" fill="url(#hbr1)"/><rect x="87" y="650.4" width="283.3" height="1" fill="url(#hbr2)"/><rect x="87" y="651.4" width="283.3" height="1" fill="url(#hbr3)"/><rect x="87" y="652.4" width="283.3" height="1" fill="url(#hbr4)"/><rect x="87" y="653.4" width="283.3" height="1" fill="url(#hbr5)"/><rect x="87" y="654.4" width="283.3" height="1" fill="url(#hbr6)"/><rect x="87" y="655.4" width="283.3" height="1" fill="url(#hbr7)"/><rect x="87" y="656.4" width="283.3" height="1" fill="url(#hbr8)"/><rect x="87" y="657.4" width="283.3" height="1" fill="url(#hbr9)"/><rect x="87" y="658.4" width="283.3" height="1" fill="url(#hbr10)"/><rect x="87" y="659.4" width="283.3" height="1" fill="url(#hbr11)"/><rect x="87" y="660.4" width="283.3" height="1" fill="url(#hbr12)"/><rect x="87" y="661.4" width="283.3" height="1" fill="url(#hbr13)"/><rect x="87" y="662.4" width="283.3" height="1" fill="url(#hbr14)"/><rect x="87" y="663.4" width="283.3" height="1" fill="url(#hbr15)"/><rect x="87" y="664.4" width="283.3" height="1" fill="url(#hbr16)"/><rect x="87" y="665.4" width="283.3" height="1" fill="url(#hbr17)"/><rect x="87" y="666.4" width="283.3" height="1" fill="url(#hbr18)"/><rect x="87" y="667.4" width="283.3" height="1" fill="url(#hbr19)"/><rect x="87" y="668.4" width="283.3" height="1" fill="url(#hbr20)"/><rect x="87" y="669.4" width="283.3" height="1" fill="url(#hbr21)"/><rect x="87" y="670.4" width="283.3" height="1" fill="url(#hbr22)"/><rect x="87" y="671.4" width="283.3" height="1" fill="url(#hbr23)"/><rect x="87" y="672.4" width="283.3" height="1" fill="url(#hbr24)"/><rect x="87" y="673.4" width="283.3" height="1" fill="url(#hbr25)"/><rect x="87" y="674.4" width="283.3" height="1" fill="url(#hbr26)"/><rect x="87" y="675.4" width="283.3" height="1" fill="url(#hbr27)"/><rect x="87" y="676.4" width="283.3" height="1" fill="url(#hbr28)"/><rect x="87" y="677.4" width="283.3" height="1" fill="url(#hbr29)"/><rect x="87" y="678.4" width="283.3" height="1" fill="url(#hbr30)"/><rect x="87" y="679.4" width="283.3" height="1" fill="url(#hbr31)"/><rect x="87" y="680.4" width="283.3" height="1" fill="url(#hbr32)"/><rect x="87" y="681.4" width="283.3" height="1" fill="url(#hbr33)"/><rect x="87" y="682.4" width="283.3" height="1" fill="url(#hbr34)"/><g style="mix-blend-mode:multiply" fill="url(#hbS)"><rect x="87" y="-156.71" width="1" height="244.9" transform="translate(0 805.11)"/><rect x="88" y="-156.73" width="1" height="244.9" transform="translate(0 805.13)"/><rect x="89" y="-156.75" width="1" height="244.9" transform="translate(0 805.15)"/><rect x="90" y="-156.78" width="1" height="244.9" transform="translate(0 805.18)"/><rect x="91" y="-156.8" width="1" height="244.9" transform="translate(0 805.2)"/><rect x="92" y="-156.83" width="1" height="244.9" transform="translate(0 805.23)"/><rect x="93" y="-156.85" width="1" height="244.9" transform="translate(0 805.25)"/><rect x="94" y="-156.88" width="1" height="244.9" transform="translate(0 805.28)"/><rect x="95" y="-156.91" width="1" height="244.9" transform="translate(0 805.31)"/><rect x="96" y="-156.94" width="1" height="244.9" transform="translate(0 805.34)"/><rect x="97" y="-156.97" width="1" height="244.9" transform="translate(0 805.37)"/><rect x="98" y="-157" width="1" height="244.9" transform="translate(0 805.4)"/><rect x="99" y="-157.03" width="1" height="244.9" transform="translate(0 805.43)"/><rect x="100" y="-157.07" width="1" height="244.9" transform="translate(0 805.47)"/><rect x="101" y="-157.1" width="1" height="244.9" transform="translate(0 805.5)"/><rect x="102" y="-157.14" width="1" height="244.9" transform="translate(0 805.54)"/><rect x="103" y="-157.17" width="1" height="244.9" transform="translate(0 805.57)"/><rect x="104" y="-157.21" width="1" height="244.9" transform="translate(0 805.61)"/><rect x="105" y="-157.25" width="1" height="244.9" transform="translate(0 805.65)"/><rect x="106" y="-157.29" width="1" height="244.9" transform="translate(0 805.69)"/><rect x="107" y="-157.33" width="1" height="244.9" transform="translate(0 805.73)"/><rect x="108" y="-157.37" width="1" height="244.9" transform="translate(0 805.77)"/><rect x="109" y="-157.41" width="1" height="244.9" transform="translate(0 805.81)"/><rect x="110" y="-157.46" width="1" height="244.9" transform="translate(0 805.86)"/><rect x="111" y="-157.5" width="1" height="244.9" transform="translate(0 805.9)"/><rect x="112" y="-157.55" width="1" height="244.9" transform="translate(0 805.95)"/><rect x="113" y="-157.59" width="1" height="244.9" transform="translate(0 805.99)"/><rect x="114" y="-157.64" width="1" height="244.9" transform="translate(0 806.04)"/><rect x="115" y="-157.69" width="1" height="244.9" transform="translate(0 806.09)"/><rect x="116" y="-157.74" width="1" height="244.9" transform="translate(0 806.14)"/><rect x="117" y="-157.79" width="1" height="244.9" transform="translate(0 806.19)"/><rect x="118" y="-157.84" width="1" height="244.9" transform="translate(0 806.24)"/><rect x="119" y="-157.89" width="1" height="244.9" transform="translate(0 806.29)"/><rect x="120" y="-157.94" width="1" height="244.9" transform="translate(0 806.34)"/><rect x="121" y="-157.99" width="1" height="244.9" transform="translate(0 806.39)"/><rect x="122" y="-158.05" width="1" height="244.9" transform="translate(0 806.45)"/><rect x="123" y="-158.1" width="1" height="244.9" transform="translate(0 806.5)"/><rect x="124" y="-158.16" width="1" height="244.9" transform="translate(0 806.56)"/><rect x="125" y="-158.21" width="1" height="244.9" transform="translate(0 806.61)"/><rect x="126" y="-158.27" width="1" height="244.9" transform="translate(0 806.67)"/><rect x="127" y="-158.33" width="1" height="244.9" transform="translate(0 806.73)"/><rect x="128" y="-158.38" width="1" height="244.9" transform="translate(0 806.78)"/><rect x="129" y="-158.44" width="1" height="244.9" transform="translate(0 806.84)"/><rect x="130" y="-158.5" width="1" height="244.9" transform="translate(0 806.9)"/><rect x="131" y="-158.56" width="1" height="244.9" transform="translate(0 806.96)"/><rect x="132" y="-158.62" width="1" height="244.9" transform="translate(0 807.02)"/><rect x="133" y="-158.68" width="1" height="244.9" transform="translate(0 807.08)"/><rect x="134" y="-158.74" width="1" height="244.9" transform="translate(0 807.14)"/><rect x="135" y="-158.81" width="1" height="244.9" transform="translate(0 807.21)"/><rect x="136" y="-158.87" width="1" height="244.9" transform="translate(0 807.27)"/><rect x="137" y="-158.93" width="1" height="244.9" transform="translate(0 807.33)"/><rect x="138" y="-159" width="1" height="244.9" transform="translate(0 807.4)"/><rect x="139" y="-159.06" width="1" height="244.9" transform="translate(0 807.46)"/><rect x="140" y="-159.13" width="1" height="244.9" transform="translate(0 807.53)"/><rect x="141" y="-159.19" width="1" height="244.9" transform="translate(0 807.59)"/><rect x="142" y="-159.26" width="1" height="244.9" transform="translate(0 807.66)"/><rect x="143" y="-159.32" width="1" height="244.9" transform="translate(0 807.72)"/><rect x="144" y="-159.39" width="1" height="244.9" transform="translate(0 807.79)"/><rect x="145" y="-159.46" width="1" height="244.9" transform="translate(0 807.86)"/><rect x="146" y="-159.53" width="1" height="244.9" transform="translate(0 807.93)"/><rect x="147" y="-159.6" width="1" height="244.9" transform="translate(0 808)"/><rect x="148" y="-159.66" width="1" height="244.9" transform="translate(0 808.06)"/><rect x="149" y="-159.73" width="1" height="244.9" transform="translate(0 808.13)"/><rect x="150" y="-159.8" width="1" height="244.9" transform="translate(0 808.2)"/><rect x="151" y="-159.87" width="1" height="244.9" transform="translate(0 808.27)"/><rect x="152" y="-159.94" width="1" height="244.9" transform="translate(0 808.34)"/><rect x="153" y="-160.01" width="1" height="244.9" transform="translate(0 808.41)"/><rect x="154" y="-160.09" width="1" height="244.9" transform="translate(0 808.49)"/><rect x="155" y="-160.16" width="1" height="244.9" transform="translate(0 808.56)"/><rect x="156" y="-160.23" width="1" height="244.9" transform="translate(0 808.63)"/><rect x="157" y="-160.3" width="1" height="244.9" transform="translate(0 808.7)"/><rect x="158" y="-160.37" width="1" height="244.9" transform="translate(0 808.77)"/><rect x="159" y="-160.45" width="1" height="244.9" transform="translate(0 808.85)"/><rect x="160" y="-160.52" width="1" height="244.9" transform="translate(0 808.92)"/><rect x="161" y="-160.59" width="1" height="244.9" transform="translate(0 808.99)"/><rect x="162" y="-160.67" width="1" height="244.9" transform="translate(0 809.07)"/><rect x="163" y="-160.74" width="1" height="244.9" transform="translate(0 809.14)"/><rect x="164" y="-160.81" width="1" height="244.9" transform="translate(0 809.21)"/><rect x="165" y="-160.89" width="1" height="244.9" transform="translate(0 809.29)"/><rect x="166" y="-160.96" width="1" height="244.9" transform="translate(0 809.36)"/><rect x="167" y="-161.04" width="1" height="244.9" transform="translate(0 809.44)"/><rect x="168" y="-161.11" width="1" height="244.9" transform="translate(0 809.51)"/><rect x="169" y="-161.19" width="1" height="244.9" transform="translate(0 809.59)"/><rect x="170" y="-161.26" width="1" height="244.9" transform="translate(0 809.66)"/><rect x="171" y="-161.34" width="1" height="244.9" transform="translate(0 809.74)"/><rect x="172" y="-161.41" width="1" height="244.9" transform="translate(0 809.81)"/><rect x="173" y="-161.49" width="1" height="244.9" transform="translate(0 809.89)"/><rect x="174" y="-161.56" width="1" height="244.9" transform="translate(0 809.96)"/><rect x="175" y="-161.64" width="1" height="244.9" transform="translate(0 810.04)"/><rect x="176" y="-161.72" width="1" height="244.9" transform="translate(0 810.12)"/><rect x="177" y="-161.8" width="1" height="244.9" transform="translate(0 810.2)"/><rect x="178" y="-161.89" width="1" height="244.9" transform="translate(0 810.29)"/><rect x="179" y="-161.97" width="1" height="244.9" transform="translate(0 810.37)"/><rect x="180" y="-162.07" width="1" height="244.9" transform="translate(0 810.47)"/><rect x="181" y="-162.16" width="1" height="244.9" transform="translate(0 810.56)"/><rect x="182" y="-162.26" width="1" height="244.9" transform="translate(0 810.66)"/><rect x="183" y="-162.36" width="1" height="244.9" transform="translate(0 810.76)"/><rect x="184" y="-162.46" width="1" height="244.9" transform="translate(0 810.86)"/><rect x="185" y="-162.57" width="1" height="244.9" transform="translate(0 810.97)"/><rect x="186" y="-162.68" width="1" height="244.9" transform="translate(0 811.08)"/><rect x="187" y="-162.78" width="1" height="244.9" transform="translate(0 811.18)"/><rect x="188" y="-162.9" width="1" height="244.9" transform="translate(0 811.3)"/><rect x="189" y="-163.01" width="1" height="244.9" transform="translate(0 811.41)"/><rect x="190" y="-163.12" width="1" height="244.9" transform="translate(0 811.52)"/><rect x="191" y="-163.24" width="1" height="244.9" transform="translate(0 811.64)"/><rect x="192" y="-163.36" width="1" height="244.9" transform="translate(0 811.76)"/><rect x="193" y="-163.48" width="1" height="244.9" transform="translate(0 811.88)"/><rect x="194" y="-163.6" width="1" height="244.9" transform="translate(0 812)"/><rect x="195" y="-163.72" width="1" height="244.9" transform="translate(0 812.12)"/><rect x="196" y="-163.84" width="1" height="244.9" transform="translate(0 812.24)"/><rect x="197" y="-163.96" width="1" height="244.9" transform="translate(0 812.36)"/><rect x="198" y="-164.08" width="1" height="244.9" transform="translate(0 812.48)"/><rect x="199" y="-164.21" width="1" height="244.9" transform="translate(0 812.61)"/><rect x="200" y="-164.33" width="1" height="244.9" transform="translate(0 812.73)"/><rect x="201" y="-164.45" width="1" height="244.9" transform="translate(0 812.85)"/><rect x="202" y="-164.58" width="1" height="244.9" transform="translate(0 812.98)"/><rect x="203" y="-164.7" width="1" height="244.9" transform="translate(0 813.1)"/><rect x="204" y="-164.82" width="1" height="244.9" transform="translate(0 813.22)"/><rect x="205" y="-164.94" width="1" height="244.9" transform="translate(0 813.34)"/><rect x="206" y="-165.06" width="1" height="244.9" transform="translate(0 813.46)"/><rect x="207" y="-165.19" width="1" height="244.9" transform="translate(0 813.59)"/><rect x="208" y="-165.31" width="1" height="244.9" transform="translate(0 813.71)"/><rect x="209" y="-165.42" width="1" height="244.9" transform="translate(0 813.82)"/><rect x="210" y="-165.54" width="1" height="244.9" transform="translate(0 813.94)"/><rect x="211" y="-165.66" width="1" height="244.9" transform="translate(0 814.06)"/><rect x="212" y="-165.77" width="1" height="244.9" transform="translate(0 814.17)"/><rect x="213" y="-165.89" width="1" height="244.9" transform="translate(0 814.29)"/><rect x="214" y="-166" width="1" height="244.9" transform="translate(0 814.4)"/><rect x="215" y="-166.12" width="1" height="244.9" transform="translate(0 814.52)"/><rect x="216" y="-166.23" width="1" height="244.9" transform="translate(0 814.63)"/><rect x="217" y="-166.34" width="1" height="244.9" transform="translate(0 814.74)"/><rect x="218" y="-166.45" width="1" height="244.9" transform="translate(0 814.85)"/><rect x="219" y="-166.56" width="1" height="244.9" transform="translate(0 814.96)"/><rect x="220" y="-166.67" width="1" height="244.9" transform="translate(0 815.07)"/><rect x="221" y="-166.79" width="1" height="244.9" transform="translate(0 815.19)"/><rect x="222" y="-166.9" width="1" height="244.9" transform="translate(0 815.3)"/><rect x="223" y="-167.01" width="1" height="244.9" transform="translate(0 815.41)"/><rect x="224" y="-167.12" width="1" height="244.9" transform="translate(0 815.52)"/><rect x="225" y="-167.23" width="1" height="244.9" transform="translate(0 815.63)"/><rect x="226" y="-167.34" width="1" height="244.9" transform="translate(0 815.74)"/><rect x="227" y="-167.45" width="1" height="244.9" transform="translate(0 815.85)"/><rect x="228" y="-167.56" width="1" height="244.9" transform="translate(0 815.96)"/><rect x="229" y="-167.67" width="1" height="244.9" transform="translate(0 816.07)"/><rect x="230" y="-167.79" width="1" height="244.9" transform="translate(0 816.19)"/><rect x="231" y="-167.9" width="1" height="244.9" transform="translate(0 816.3)"/><rect x="232" y="-168.01" width="1" height="244.9" transform="translate(0 816.41)"/><rect x="233" y="-168.13" width="1" height="244.9" transform="translate(0 816.53)"/><rect x="234" y="-168.24" width="1" height="244.9" transform="translate(0 816.64)"/><rect x="235" y="-168.36" width="1" height="244.9" transform="translate(0 816.76)"/><rect x="236" y="-168.47" width="1" height="244.9" transform="translate(0 816.87)"/><rect x="237" y="-168.59" width="1" height="244.9" transform="translate(0 816.99)"/><rect x="238" y="-168.71" width="1" height="244.9" transform="translate(0 817.11)"/><rect x="239" y="-168.83" width="1" height="244.9" transform="translate(0 817.23)"/><rect x="240" y="-168.95" width="1" height="244.9" transform="translate(0 817.35)"/><rect x="241" y="-169.07" width="1" height="244.9" transform="translate(0 817.47)"/><rect x="242" y="-169.19" width="1" height="244.9" transform="translate(0 817.59)"/><rect x="243" y="-169.31" width="1" height="244.9" transform="translate(0 817.71)"/><rect x="244" y="-169.44" width="1" height="244.9" transform="translate(0 817.84)"/><rect x="245" y="-169.56" width="1" height="244.9" transform="translate(0 817.96)"/><rect x="246" y="-169.69" width="1" height="244.9" transform="translate(0 818.09)"/><rect x="247" y="-169.82" width="1" height="244.9" transform="translate(0 818.22)"/><rect x="248" y="-169.95" width="1" height="244.9" transform="translate(0 818.35)"/><rect x="249" y="-170.09" width="1" height="244.9" transform="translate(0 818.49)"/><rect x="250" y="-170.22" width="1" height="244.9" transform="translate(0 818.62)"/><rect x="251" y="-170.36" width="1" height="244.9" transform="translate(0 818.76)"/><rect x="252" y="-170.49" width="1" height="244.9" transform="translate(0 818.89)"/><rect x="253" y="-170.64" width="1" height="244.9" transform="translate(0 819.04)"/><rect x="254" y="-170.78" width="1" height="244.9" transform="translate(0 819.18)"/><rect x="255" y="-170.92" width="1" height="244.9" transform="translate(0 819.32)"/><rect x="256" y="-171.07" width="1" height="244.9" transform="translate(0 819.47)"/><rect x="257" y="-171.22" width="1" height="244.9" transform="translate(0 819.62)"/><rect x="258" y="-171.37" width="1" height="244.9" transform="translate(0 819.77)"/><rect x="259" y="-171.52" width="1" height="244.9" transform="translate(0 819.92)"/><rect x="260" y="-171.68" width="1" height="244.9" transform="translate(0 820.08)"/><rect x="261" y="-171.84" width="1" height="244.9" transform="translate(0 820.24)"/><rect x="262" y="-172" width="1" height="244.9" transform="translate(0 820.4)"/><rect x="263" y="-172.16" width="1" height="244.9" transform="translate(0 820.56)"/><rect x="264" y="-172.33" width="1" height="244.9" transform="translate(0 820.73)"/><rect x="265" y="-172.5" width="1" height="244.9" transform="translate(0 820.9)"/><rect x="266" y="-172.67" width="1" height="244.9" transform="translate(0 821.07)"/><rect x="267" y="-172.85" width="1" height="244.9" transform="translate(0 821.25)"/><rect x="268" y="-173.03" width="1" height="244.9" transform="translate(0 821.43)"/><rect x="269" y="-173.21" width="1" height="244.9" transform="translate(0 821.61)"/><rect x="270" y="-173.39" width="1" height="244.9" transform="translate(0 821.79)"/><rect x="271" y="-173.58" width="1" height="244.9" transform="translate(0 821.98)"/><rect x="272" y="-173.76" width="1" height="244.9" transform="translate(0 822.16)"/><rect x="273" y="-173.95" width="1" height="244.9" transform="translate(0 822.35)"/><rect x="274" y="-174.15" width="1" height="244.9" transform="translate(0 822.55)"/><rect x="275" y="-174.34" width="1" height="244.9" transform="translate(0 822.74)"/><rect x="276" y="-174.54" width="1" height="244.9" transform="translate(0 822.94)"/><rect x="277" y="-174.74" width="1" height="244.9" transform="translate(0 823.14)"/><rect x="278" y="-174.94" width="1" height="244.9" transform="translate(0 823.34)"/><rect x="279" y="-175.15" width="1" height="244.9" transform="translate(0 823.55)"/><rect x="280" y="-175.35" width="1" height="244.9" transform="translate(0 823.75)"/><rect x="281" y="-175.56" width="1" height="244.9" transform="translate(0 823.96)"/><rect x="282" y="-175.77" width="1" height="244.9" transform="translate(0 824.17)"/><rect x="283" y="-175.99" width="1" height="244.9" transform="translate(0 824.39)"/><rect x="284" y="-176.2" width="1" height="244.9" transform="translate(0 824.6)"/><rect x="285" y="-176.42" width="1" height="244.9" transform="translate(0 824.82)"/><rect x="286" y="-176.64" width="1" height="244.9" transform="translate(0 825.04)"/><rect x="287" y="-176.86" width="1" height="244.9" transform="translate(0 825.26)"/><rect x="288" y="-177.08" width="1" height="244.9" transform="translate(0 825.48)"/><rect x="289" y="-177.31" width="1" height="244.9" transform="translate(0 825.71)"/><rect x="290" y="-177.53" width="1" height="244.9" transform="translate(0 825.93)"/><rect x="291" y="-177.76" width="1" height="244.9" transform="translate(0 826.16)"/><rect x="292" y="-177.99" width="1" height="244.9" transform="translate(0 826.39)"/><rect x="293" y="-178.23" width="1" height="244.9" transform="translate(0 826.63)"/><rect x="294" y="-178.46" width="1" height="244.9" transform="translate(0 826.86)"/><rect x="295" y="-178.7" width="1" height="244.9" transform="translate(0 827.1)"/><rect x="296" y="-178.94" width="1" height="244.9" transform="translate(0 827.34)"/><rect x="297" y="-179.17" width="1" height="244.9" transform="translate(0 827.57)"/><rect x="298" y="-179.42" width="1" height="244.9" transform="translate(0 827.82)"/><rect x="299" y="-179.66" width="1" height="244.9" transform="translate(0 828.06)"/><rect x="300" y="-179.9" width="1" height="244.9" transform="translate(0 828.3)"/><rect x="301" y="-180.15" width="1" height="244.9" transform="translate(0 828.55)"/><rect x="302" y="-180.4" width="1" height="244.9" transform="translate(0 828.8)"/><rect x="303" y="-180.64" width="1" height="244.9" transform="translate(0 829.04)"/><rect x="304" y="-180.89" width="1" height="244.9" transform="translate(0 829.29)"/><rect x="305" y="-181.15" width="1" height="244.9" transform="translate(0 829.55)"/><rect x="306" y="-181.4" width="1" height="244.9" transform="translate(0 829.8)"/><rect x="307" y="-181.65" width="1" height="244.9" transform="translate(0 830.05)"/><rect x="308" y="-181.91" width="1" height="244.9" transform="translate(0 830.31)"/><rect x="309" y="-182.17" width="1" height="244.9" transform="translate(0 830.57)"/><rect x="310" y="-182.42" width="1" height="244.9" transform="translate(0 830.82)"/><rect x="311" y="-182.68" width="1" height="244.9" transform="translate(0 831.08)"/><rect x="312" y="-182.94" width="1" height="244.9" transform="translate(0 831.34)"/><rect x="313" y="-183.21" width="1" height="244.9" transform="translate(0 831.61)"/><rect x="314" y="-183.47" width="1" height="244.9" transform="translate(0 831.87)"/><rect x="315" y="-183.73" width="1" height="244.9" transform="translate(0 832.13)"/><rect x="316" y="-184" width="1" height="244.9" transform="translate(0 832.4)"/><rect x="317" y="-184.28" width="1" height="244.9" transform="translate(0 832.68)"/><rect x="318" y="-184.56" width="1" height="244.9" transform="translate(0 832.96)"/><rect x="319" y="-184.85" width="1" height="244.9" transform="translate(0 833.25)"/><rect x="320" y="-185.15" width="1" height="244.9" transform="translate(0 833.55)"/><rect x="321" y="-185.45" width="1" height="244.9" transform="translate(0 833.85)"/><rect x="322" y="-185.76" width="1" height="244.9" transform="translate(0 834.16)"/><rect x="323" y="-186.07" width="1" height="244.9" transform="translate(0 834.47)"/><rect x="324" y="-186.38" width="1" height="244.9" transform="translate(0 834.78)"/><rect x="325" y="-186.7" width="1" height="244.9" transform="translate(0 835.1)"/><rect x="326" y="-187.02" width="1" height="244.9" transform="translate(0 835.42)"/><rect x="327" y="-187.35" width="1" height="244.9" transform="translate(0 835.75)"/><rect x="328" y="-187.68" width="1" height="244.9" transform="translate(0 836.08)"/><rect x="329" y="-188.01" width="1" height="244.9" transform="translate(0 836.41)"/><rect x="330" y="-188.35" width="1" height="244.9" transform="translate(0 836.75)"/><rect x="331" y="-188.69" width="1" height="244.9" transform="translate(0 837.09)"/><rect x="332" y="-189.03" width="1" height="244.9" transform="translate(0 837.43)"/><rect x="333" y="-189.37" width="1" height="244.9" transform="translate(0 837.77)"/><rect x="334" y="-189.71" width="1" height="244.9" transform="translate(0 838.11)"/><rect x="335" y="-190.06" width="1" height="244.9" transform="translate(0 838.46)"/><rect x="336" y="-190.4" width="1" height="244.9" transform="translate(0 838.8)"/><rect x="337" y="-190.75" width="1" height="244.9" transform="translate(0 839.15)"/><rect x="338" y="-191.1" width="1" height="244.9" transform="translate(0 839.5)"/><rect x="339" y="-191.44" width="1" height="244.9" transform="translate(0 839.84)"/><rect x="340" y="-191.79" width="1" height="244.9" transform="translate(0 840.19)"/><rect x="341" y="-192.14" width="1" height="244.9" transform="translate(0 840.54)"/><rect x="342" y="-192.48" width="1" height="244.9" transform="translate(0 840.88)"/><rect x="343" y="-192.83" width="1" height="244.9" transform="translate(0 841.23)"/><rect x="344" y="-193.17" width="1" height="244.9" transform="translate(0 841.57)"/><rect x="345" y="-193.51" width="1" height="244.9" transform="translate(0 841.91)"/><rect x="346" y="-193.85" width="1" height="244.9" transform="translate(0 842.25)"/><rect x="347" y="-194.18" width="1" height="244.9" transform="translate(0 842.58)"/><rect x="348" y="-194.52" width="1" height="244.9" transform="translate(0 842.92)"/><rect x="349" y="-194.85" width="1" height="244.9" transform="translate(0 843.25)"/><rect x="350" y="-195.17" width="1" height="244.9" transform="translate(0 843.57)"/><rect x="351" y="-195.5" width="1" height="244.9" transform="translate(0 843.9)"/><rect x="352" y="-195.82" width="1" height="244.9" transform="translate(0 844.22)"/><rect x="353" y="-196.13" width="1" height="244.9" transform="translate(0 844.53)"/><rect x="354" y="-196.45" width="1" height="244.9" transform="translate(0 844.85)"/><rect x="355" y="-196.75" width="1" height="244.9" transform="translate(0 845.15)"/><rect x="356" y="-197.06" width="1" height="244.9" transform="translate(0 845.46)"/><rect x="357" y="-197.36" width="1" height="244.9" transform="translate(0 845.76)"/><rect x="358" y="-197.66" width="1" height="244.9" transform="translate(0 846.06)"/><rect x="359" y="-197.96" width="1" height="244.9" transform="translate(0 846.36)"/><rect x="360" y="-198.26" width="1" height="244.9" transform="translate(0 846.66)"/><rect x="361" y="-198.56" width="1" height="244.9" transform="translate(0 846.96)"/><rect x="362" y="-198.85" width="1" height="244.9" transform="translate(0 847.25)"/><rect x="363" y="-199.15" width="1" height="244.9" transform="translate(0 847.55)"/><rect x="364" y="-199.44" width="1" height="244.9" transform="translate(0 847.84)"/><rect x="365" y="-199.73" width="1" height="244.9" transform="translate(0 848.13)"/><rect x="366" y="-200.02" width="1" height="244.9" transform="translate(0 848.42)"/><rect x="367" y="-200.31" width="1" height="244.9" transform="translate(0 848.71)"/><rect x="368" y="-200.6" width="1" height="244.9" transform="translate(0 849)"/><rect x="369" y="-200.89" width="1" height="244.9" transform="translate(0 849.29)"/><rect x="370" y="-201.17" width="1" height="244.9" transform="translate(0 849.57)"/></g></g></g><g clip-path="url(#hbclip)"><path d="M370,668.54 351.5,673.73 341.5,677.28 339.47,678.4 336.35,680.9 334.48,682.9 333.67,684.4 333.51,685.4 333.49,809.9 332.89,821.4 332.63,822.4 332,823.25 330,824.51 327.9,824.9 310,825.39 294.5,824.97 283.5,825.31 274,824.84 255.5,823.39 249,823.17 240,822.34 224.5,821.9 215.5,821.16 207.5,820.16 194.5,817.8 191.5,816.98 186.5,814.77 184.51,813.4 183,811.92 178.82,806.4 177,803.36 175.41,799.4 174.86,794.9 174.77,786.9 174.71,660.9 174.09,654.9 172.61,648.4M330.98,648.4 330.57,649.9 328.45,652.9 326.5,654.12 321.6,656.4 315.64,658.4 295.49,663.4 290.96,664.9 288.51,666.4 286.85,667.9 285.24,670.4 284.19,672.9 283.98,674.4 283.97,796.4 283.5,806.94 283.26,808.9 282.78,809.9 281.4,811.4 280,812.28 277.5,812.9 274.5,813.26 266,813.83 255,814.22 249.5,814.87 240,814.42 233,814.98 224.5,815.29 216.5,814.82 209,813.94 198.5,811.73 193.5,810.34 191,809.06 187,805.61 184.72,802.4 183.34,799.4 182.78,795.4 182.65,785.9 182.64,672.4 182.06,658.4 181.12,653.4 179.48,648.4M298.21,648.4 296.68,649.4 294.5,650.21 278.64,654.9 266.5,658.18 260,660.32 257.05,661.9 254.5,663.8 252.63,665.9 251.41,667.9 249.54,672.4 249.41,673.9 249.39,789.4 249.14,795.4 248.5,800.04 247.84,802.4 247.39,802.9 246.24,803.4 241,804.39 237.33,805.9 234.5,806.62 226.5,807.6 222.5,807.83 215.5,807.5 210,806.86 205,805.75 196.5,803.35 193.5,802.2 191.6,800.9 190.86,799.9 189.99,797.4 189.69,795.4 189.44,783.4 189.44,672.4 188.62,668.4 187.85,658.4 186.41,653.4 183.93,648.4M267.22,648.4 239.21,653.4 232.5,655.7 225.83,658.4 223.5,660.4 219,665.08 217.5,666.28 214.5,668.03 213.37,668.4 212,668.46 210.5,668.25 208.5,666.87 206,663.8 202.99,658.4 201.13,656.9 197.81,653.4 194,651.21 191.06,648.4" stroke="#808080" stroke-width="1.8" fill="none" stroke-linejoin="round"/></g>
<path d="M87,377.8h8.5M87,328.74h8.5M87,279.68h8.5M87,230.62h8.5M87,181.56h8.5M87,132.5h8.5M87,353.27h4.5M87,304.21h4.5M87,255.15h4.5M87,206.09h4.5M87,157.03h4.5M87,377.8v-8.5M157.82,377.8v-8.5M228.65,377.8v-8.5M299.48,377.8v-8.5M370.3,377.8v-8.5M122.41,377.8v-4.5M193.24,377.8v-4.5M264.06,377.8v-4.5M334.89,377.8v-4.5" stroke="#000" stroke-width="1.5"/>
<rect x="87" y="132.5" width="283.3" height="245.3" fill="none" stroke="#000" stroke-width="1.7"/>
<text x="76.5" y="384.6" font-size="23" text-anchor="end" fill="#000" >200</text>
<text x="76.5" y="335.54" font-size="23" text-anchor="end" fill="#000" >300</text>
<text x="76.5" y="286.48" font-size="23" text-anchor="end" fill="#000" >400</text>
<text x="76.5" y="237.42" font-size="23" text-anchor="end" fill="#000" >500</text>
<text x="76.5" y="188.36" font-size="23" text-anchor="end" fill="#000" >600</text>
<text x="76.5" y="139.3" font-size="23" text-anchor="end" fill="#000" >700</text>
<text x="87" y="405" font-size="23" text-anchor="middle" fill="#000" >0.0</text>
<text x="157.82" y="405" font-size="23" text-anchor="middle" fill="#000" >0.5</text>
<text x="228.65" y="405" font-size="23" text-anchor="middle" fill="#000" >1.0</text>
<text x="299.48" y="405" font-size="23" text-anchor="middle" fill="#000" >1.5</text>
<text x="370.3" y="405" font-size="23" text-anchor="middle" fill="#000" >2.0</text>
<path d="M87,893.3h8.5M87,844.32h8.5M87,795.34h8.5M87,746.36h8.5M87,697.38h8.5M87,648.4h8.5M87,868.81h4.5M87,819.83h4.5M87,770.85h4.5M87,721.87h4.5M87,672.89h4.5M87,893.3v-8.5M157.82,893.3v-8.5M228.65,893.3v-8.5M299.48,893.3v-8.5M370.3,893.3v-8.5M122.41,893.3v-4.5M193.24,893.3v-4.5M264.06,893.3v-4.5M334.89,893.3v-4.5" stroke="#000" stroke-width="1.5"/>
<rect x="87" y="648.4" width="283.3" height="244.9" fill="none" stroke="#000" stroke-width="1.7"/>
<text x="76.5" y="900.1" font-size="23" text-anchor="end" fill="#000" >200</text>
<text x="76.5" y="851.12" font-size="23" text-anchor="end" fill="#000" >300</text>
<text x="76.5" y="802.14" font-size="23" text-anchor="end" fill="#000" >400</text>
<text x="76.5" y="753.16" font-size="23" text-anchor="end" fill="#000" >500</text>
<text x="76.5" y="704.18" font-size="23" text-anchor="end" fill="#000" >600</text>
<text x="76.5" y="655.2" font-size="23" text-anchor="end" fill="#000" >700</text>
<text x="87" y="920.5" font-size="23" text-anchor="middle" fill="#000" >0.0</text>
<text x="157.82" y="920.5" font-size="23" text-anchor="middle" fill="#000" >0.5</text>
<text x="228.65" y="920.5" font-size="23" text-anchor="middle" fill="#000" >1.0</text>
<text x="299.48" y="920.5" font-size="23" text-anchor="middle" fill="#000" >1.5</text>
<text x="370.3" y="920.5" font-size="23" text-anchor="middle" fill="#000" >2.0</text>
<g clip-path="url(#haclip)"><path d="M154.3,137V377.8" stroke="#fff" stroke-width="3" stroke-dasharray="8.3 7.2" fill="none"/>
<path d="M87,172.4H370.3M87,296.6H370.3" stroke="#fff" stroke-width="3" stroke-dasharray="20.5 8.5 5 9" fill="none"/>
<path d="M243.7,298.97L372,338.1" stroke="#fff" stroke-width="5" stroke-dasharray="5 7.3" fill="none"/>
<text x="91" y="331" font-size="22.5" text-anchor="start" fill="#fff" >High</text>
<text x="91" y="360" font-size="22.5" text-anchor="start" fill="#fff" >power</text>
<text x="269.5" y="359.8" font-size="22.5" text-anchor="start" fill="#fff" >Stark shift</text>
</g>
<g clip-path="url(#hbclip)"><path d="M220,653V893.3" stroke="#fff" stroke-width="3.2" stroke-dasharray="8 7.3" fill="none"/>
<path d="M87,689.4H370.3" stroke="#fff" stroke-width="3" stroke-dasharray="20.5 8.5 5 9" fill="none"/>
<text x="90.5" y="848" font-size="22.5" text-anchor="start" fill="#fff" >Low</text>
<text x="90.5" y="876.7" font-size="22.5" text-anchor="start" fill="#fff" >power</text></g>
<defs><linearGradient id="cb92" x1="0" y1="0" x2="1" y2="0"><stop offset="0.000" stop-color="#6c0070"/><stop offset="0.037" stop-color="#7e0092"/><stop offset="0.069" stop-color="#8a00d0"/><stop offset="0.094" stop-color="#7a00ff"/><stop offset="0.121" stop-color="#4000ff"/><stop offset="0.146" stop-color="#0020ff"/><stop offset="0.177" stop-color="#0070ff"/><stop offset="0.208" stop-color="#00a0ff"/><stop offset="0.239" stop-color="#00d8ff"/><stop offset="0.270" stop-color="#00ffff"/><stop offset="0.301" stop-color="#00ff90"/><stop offset="0.329" stop-color="#10ff10"/><stop offset="0.359" stop-color="#50ff00"/><stop offset="0.390" stop-color="#80ff00"/><stop offset="0.422" stop-color="#a0ff00"/><stop offset="0.453" stop-color="#c0ff00"/><stop offset="0.496" stop-color="#ffff00"/><stop offset="0.530" stop-color="#ffd800"/><stop offset="0.561" stop-color="#ffb000"/><stop offset="0.592" stop-color="#ff8000"/><stop offset="0.623" stop-color="#ff4800"/><stop offset="0.654" stop-color="#ff0000"/><stop offset="0.796" stop-color="#ff0000"/><stop offset="0.821" stop-color="#e60000"/><stop offset="0.852" stop-color="#d00000"/><stop offset="0.883" stop-color="#b80000"/><stop offset="0.914" stop-color="#a00000"/><stop offset="0.945" stop-color="#8c0000"/><stop offset="0.976" stop-color="#780000"/><stop offset="1.000" stop-color="#5a0000"/></linearGradient></defs>
<rect x="87.7" y="92.2" width="281.8" height="25.3" fill="url(#cb92)"/>
<path d="M369.5,92.2H87.7V117.5H369.5" stroke="#000" stroke-width="1.3" fill="none"/>
<path d="M369.5,92.2V117.5" stroke="#aaa" stroke-width="1.2" fill="none"/>
<path d="M88,92.2v-9M137.6,92.2v-9M187.2,92.2v-9M236.8,92.2v-9M286.4,92.2v-9M336,92.2v-9" stroke="#000" stroke-width="1.4"/>
<text x="88" y="74.2" font-size="21" text-anchor="middle" fill="#000" >0.0</text>
<text x="137.6" y="74.2" font-size="21" text-anchor="middle" fill="#000" >0.1</text>
<text x="187.2" y="74.2" font-size="21" text-anchor="middle" fill="#000" >0.2</text>
<text x="236.8" y="74.2" font-size="21" text-anchor="middle" fill="#000" >0.3</text>
<text x="286.4" y="74.2" font-size="21" text-anchor="middle" fill="#000" >0.4</text>
<text x="336" y="74.2" font-size="21" text-anchor="middle" fill="#000" >0.5</text>
<defs><linearGradient id="cb615" x1="0" y1="0" x2="1" y2="0"><stop offset="0.000" stop-color="#6c0070"/><stop offset="0.037" stop-color="#7e0092"/><stop offset="0.069" stop-color="#8a00d0"/><stop offset="0.094" stop-color="#7a00ff"/><stop offset="0.121" stop-color="#4000ff"/><stop offset="0.146" stop-color="#0020ff"/><stop offset="0.177" stop-color="#0070ff"/><stop offset="0.208" stop-color="#00a0ff"/><stop offset="0.239" stop-color="#00d8ff"/><stop offset="0.270" stop-color="#00ffff"/><stop offset="0.301" stop-color="#00ff90"/><stop offset="0.329" stop-color="#10ff10"/><stop offset="0.359" stop-color="#50ff00"/><stop offset="0.390" stop-color="#80ff00"/><stop offset="0.422" stop-color="#a0ff00"/><stop offset="0.453" stop-color="#c0ff00"/><stop offset="0.496" stop-color="#ffff00"/><stop offset="0.530" stop-color="#ffd800"/><stop offset="0.561" stop-color="#ffb000"/><stop offset="0.592" stop-color="#ff8000"/><stop offset="0.623" stop-color="#ff4800"/><stop offset="0.654" stop-color="#ff0000"/><stop offset="0.796" stop-color="#ff0000"/><stop offset="0.821" stop-color="#e60000"/><stop offset="0.852" stop-color="#d00000"/><stop offset="0.883" stop-color="#b80000"/><stop offset="0.914" stop-color="#a00000"/><stop offset="0.945" stop-color="#8c0000"/><stop offset="0.976" stop-color="#780000"/><stop offset="1.000" stop-color="#5a0000"/></linearGradient></defs>
<rect x="88.6" y="615.2" width="282.5" height="25.3" fill="url(#cb615)"/>
<path d="M371.1,615.2H88.6V640.5H371.1" stroke="#000" stroke-width="1.3" fill="none"/>
<path d="M371.1,615.2V640.5" stroke="#aaa" stroke-width="1.2" fill="none"/>
<path d="M88.4,615.2v-9M171.5,615.2v-9M254.6,615.2v-9M337.7,615.2v-9" stroke="#000" stroke-width="1.4"/>
<text x="88.4" y="596.8" font-size="21" text-anchor="middle" fill="#000" >0.0</text>
<text x="171.5" y="596.8" font-size="21" text-anchor="middle" fill="#000" >0.1</text>
<text x="254.6" y="596.8" font-size="21" text-anchor="middle" fill="#000" >0.2</text>
<text x="337.7" y="596.8" font-size="21" text-anchor="middle" fill="#000" >0.3</text>
<text x="187.2" y="44" font-size="25">Δ<tspan font-style="italic">V</tspan><tspan font-size="15.5" dy="7">ph</tspan><tspan dy="-7">(V)</tspan></text>
<text x="173" y="565.8" font-size="25">Δ<tspan font-style="italic">V</tspan><tspan font-size="15.5" dy="7">ph</tspan><tspan dy="-7">(mV)</tspan></text>
<text x="28.5" y="255.2" font-size="25" text-anchor="middle" transform="rotate(-90 28.5 255.2)">Energy (meV)</text>
<text x="28.5" y="770.9" font-size="25" text-anchor="middle" transform="rotate(-90 28.5 770.9)">Energy (meV)</text>
<text x="228.7" y="445.6" font-size="25" text-anchor="middle" fill="#000" >Voltage (V)</text>
<text x="228.7" y="953.5" font-size="25" text-anchor="middle" fill="#000" >Voltage (V)</text>
<text x="228.2" y="486.5" font-size="30" text-anchor="middle" fill="#000" >(a)</text>
<text x="228.2" y="986.5" font-size="30" text-anchor="middle" fill="#000" >(b)</text>
<path d="M512,259.9v-8.5M512,14.5v8.5M599.93,259.9v-8.5M599.93,14.5v8.5M687.87,259.9v-8.5M687.87,14.5v8.5M775.8,259.9v-8.5M775.8,14.5v8.5M555.97,259.9v-4.5M555.97,14.5v4.5M643.9,259.9v-4.5M643.9,14.5v4.5M731.83,259.9v-4.5M731.83,14.5v4.5M512,259.9h8.5M775.8,259.9h-8.5M512,189.79h8.5M775.8,189.79h-8.5M512,119.67h8.5M775.8,119.67h-8.5M512,49.56h8.5M775.8,49.56h-8.5M512,224.84h4.5M775.8,224.84h-4.5M512,154.73h4.5M775.8,154.73h-4.5M512,84.61h4.5M775.8,84.61h-4.5" stroke="#000" stroke-width="1.5" fill="none"/>
<rect x="512" y="14.5" width="263.8" height="245.4" fill="none" stroke="#000" stroke-width="1.6"/>
<text x="512" y="285.9" font-size="20.5" text-anchor="middle" fill="#000" >0</text>
<text x="599.93" y="285.9" font-size="20.5" text-anchor="middle" fill="#000" >1</text>
<text x="687.87" y="285.9" font-size="20.5" text-anchor="middle" fill="#000" >2</text>
<text x="775.8" y="285.9" font-size="20.5" text-anchor="middle" fill="#000" >3</text>
<text x="501.5" y="266.1" font-size="20.5" text-anchor="end" fill="#000" >0.0</text>
<text x="501.5" y="195.99" font-size="20.5" text-anchor="end" fill="#000" >0.2</text>
<text x="501.5" y="125.87" font-size="20.5" text-anchor="end" fill="#000" >0.4</text>
<text x="501.5" y="55.76" font-size="20.5" text-anchor="end" fill="#000" >0.6</text>
<path d="M550.6,19.2V259.9" stroke="#808080" stroke-width="3.2" stroke-dasharray="8 7.5" stroke-dashoffset="0" fill="none"/>
<path d="M598.5,19.2V259.9" stroke="#808080" stroke-width="3.2" stroke-dasharray="8 7.5" stroke-dashoffset="0" fill="none"/>
<path d="M512,259.9C512.8,256.88 515.42,248.75 516.8,241.8C518.18,234.85 519.13,226.05 520.3,218.2C521.47,210.35 522.62,204.5 523.8,194.7C524.98,184.9 526.22,171.17 527.4,159.4C528.58,147.63 529.73,134.68 530.9,124.1C532.07,113.52 533.23,104.52 534.4,95.9C535.57,87.28 536.72,79.85 537.9,72.4C539.08,64.95 540.32,56.5 541.5,51.2C542.68,45.9 543.95,42.77 545,40.6C546.05,38.43 546.62,37.82 547.8,38.2C548.98,38.58 550.22,39.85 552.1,42.9C553.98,45.95 556.95,52.15 559.1,56.5C561.25,60.85 563.15,65.17 565,69C566.85,72.83 568.13,75.42 570.2,79.5C572.27,83.58 574.43,88.42 577.4,93.5C580.37,98.58 584.52,104.53 588,110C591.48,115.47 594.2,119.83 598.3,126.3C602.4,132.77 607.65,141.02 612.6,148.8C617.55,156.58 621.77,163.8 628,173C634.23,182.2 642.67,195.17 650,204C657.33,212.83 664.67,220.25 672,226C679.33,231.75 687.67,235.77 694,238.5C700.33,241.23 703.78,240.97 710,242.4C716.22,243.83 720.38,244.92 731.3,247.1C742.22,249.28 768.13,254.1 775.5,255.5" stroke="#800000" stroke-width="3" fill="none" stroke-linejoin="round"/>
<text x="523.5" y="43.5" font-size="25" text-anchor="start" fill="#888888" >A</text>
<text x="572" y="159.5" font-size="25" text-anchor="start" fill="#888888" >B</text>
<text x="648.5" y="161.5" font-size="25" text-anchor="start" fill="#800000" >619 meV</text>
<path d="M512,578.9v-8.5M512,333.4v8.5M599.97,578.9v-8.5M599.97,333.4v8.5M687.93,578.9v-8.5M687.93,333.4v8.5M775.9,578.9v-8.5M775.9,333.4v8.5M555.98,578.9v-4.5M555.98,333.4v4.5M643.95,578.9v-4.5M643.95,333.4v4.5M731.92,578.9v-4.5M731.92,333.4v4.5M512,578.9h8.5M775.9,578.9h-8.5M512,497.07h8.5M775.9,497.07h-8.5M512,415.23h8.5M775.9,415.23h-8.5M512,333.4h8.5M775.9,333.4h-8.5M512,537.98h4.5M775.9,537.98h-4.5M512,456.15h4.5M775.9,456.15h-4.5M512,374.32h4.5M775.9,374.32h-4.5" stroke="#000" stroke-width="1.5" fill="none"/>
<rect x="512" y="333.4" width="263.9" height="245.5" fill="none" stroke="#000" stroke-width="1.6"/>
<text x="512" y="604.9" font-size="20.5" text-anchor="middle" fill="#000" >0</text>
<text x="599.97" y="604.9" font-size="20.5" text-anchor="middle" fill="#000" >1</text>
<text x="687.93" y="604.9" font-size="20.5" text-anchor="middle" fill="#000" >2</text>
<text x="775.9" y="604.9" font-size="20.5" text-anchor="middle" fill="#000" >3</text>
<text x="501.5" y="585.1" font-size="20.5" text-anchor="end" fill="#000" >0.0</text>
<text x="501.5" y="503.27" font-size="20.5" text-anchor="end" fill="#000" >0.1</text>
<text x="501.5" y="421.43" font-size="20.5" text-anchor="end" fill="#000" >0.2</text>
<text x="501.5" y="339.6" font-size="20.5" text-anchor="end" fill="#000" >0.3</text>
<path d="M550.3,338.1V578.9" stroke="#808080" stroke-width="3.2" stroke-dasharray="8 7.5" stroke-dashoffset="0" fill="none"/>
<path d="M600,338.1V578.9" stroke="#808080" stroke-width="3.2" stroke-dasharray="8 7.5" stroke-dashoffset="0" fill="none"/>
<path d="M512,578.4C514.17,578.37 521.62,578.67 525,578.2C528.38,577.73 530.05,577.63 532.3,575.6C534.55,573.57 536.65,570.52 538.5,566C540.35,561.48 541.98,555.55 543.4,548.5C544.82,541.45 545.98,533.95 547,523.7C548.02,513.45 548.75,499.25 549.5,487C550.25,474.75 550.88,460.42 551.5,450.2C552.12,439.98 552.52,433.87 553.2,425.7C553.88,417.53 554.58,408.13 555.6,401.2C556.62,394.27 557.67,387.97 559.3,384.1C560.93,380.23 562.55,379.02 565.4,378C568.25,376.98 572.93,378.62 576.4,378C579.87,377.38 582.52,375.82 586.2,374.3C589.88,372.78 595.23,369.8 598.5,368.9C601.77,368 602.95,367.6 605.8,368.9C608.65,370.2 612.33,372.53 615.6,376.7C618.87,380.87 622.13,386.95 625.4,393.9C628.67,400.85 631.93,410.23 635.2,418.4C638.47,426.57 642.22,436.13 645,442.9C647.78,449.67 647.98,450.65 651.9,459C655.82,467.35 662.98,482.67 668.5,493C674.02,503.33 678.93,512.67 685,521C691.07,529.33 696.62,536.1 704.9,543C713.18,549.9 722.93,557.33 734.7,562.4C746.47,567.47 768.7,571.57 775.5,573.4" stroke="#6a9a82" stroke-width="3" fill="none" stroke-linejoin="round"/>
<text x="524.5" y="419.6" font-size="25" text-anchor="start" fill="#888888" >A</text>
<text x="575" y="362" font-size="25" text-anchor="start" fill="#888888" >B</text>
<text x="658" y="463" font-size="25" text-anchor="start" fill="#6a9a82" >365 meV</text>
<path d="M512,897.6v-8.5M512,652.7v8.5M600,897.6v-8.5M600,652.7v8.5M688,897.6v-8.5M688,652.7v8.5M776,897.6v-8.5M776,652.7v8.5M556,897.6v-4.5M556,652.7v4.5M644,897.6v-4.5M644,652.7v4.5M732,897.6v-4.5M732,652.7v4.5M512,897.6h8.5M776,897.6h-8.5M512,799.64h8.5M776,799.64h-8.5M512,701.68h8.5M776,701.68h-8.5M512,848.62h4.5M776,848.62h-4.5M512,750.66h4.5M776,750.66h-4.5" stroke="#000" stroke-width="1.5" fill="none"/>
<rect x="512" y="652.7" width="264" height="244.9" fill="none" stroke="#000" stroke-width="1.6"/>
<text x="512" y="923.6" font-size="20.5" text-anchor="middle" fill="#000" >0</text>
<text x="600" y="923.6" font-size="20.5" text-anchor="middle" fill="#000" >1</text>
<text x="688" y="923.6" font-size="20.5" text-anchor="middle" fill="#000" >2</text>
<text x="776" y="923.6" font-size="20.5" text-anchor="middle" fill="#000" >3</text>
<text x="501.5" y="903.8" font-size="20.5" text-anchor="end" fill="#000" >0.0</text>
<text x="501.5" y="805.84" font-size="20.5" text-anchor="end" fill="#000" >0.2</text>
<text x="501.5" y="707.88" font-size="20.5" text-anchor="end" fill="#000" >0.4</text>
<path d="M550.5,657.4V897.6" stroke="#808080" stroke-width="3.2" stroke-dasharray="8 7.5" stroke-dashoffset="0" fill="none"/>
<path d="M595,657.4V897.6" stroke="#808080" stroke-width="3.2" stroke-dasharray="8 7.5" stroke-dashoffset="0" fill="none"/>
<path d="M512,897.3C516.67,897.23 533.73,897.13 540,896.9C546.27,896.67 547,896.78 549.6,895.9C552.2,895.02 553.8,894.12 555.6,891.6C557.4,889.08 559,885.4 560.4,880.8C561.8,876.2 562.92,870.8 564,864C565.08,857.2 566.02,849.2 566.9,840C567.78,830.8 568.5,819.6 569.3,808.8C570.1,798 570.9,786 571.7,775.2C572.5,764.4 573.3,753.2 574.1,744C574.9,734.8 575.58,727.6 576.5,720C577.42,712.4 578.57,703.8 579.6,698.4C580.63,693 581.62,690 582.7,687.6C583.78,685.2 584.82,684 586.1,684C587.38,684 588.68,685.6 590.4,687.6C592.12,689.6 594,691.8 596.4,696C598.8,700.2 601.8,706.4 604.8,712.8C607.8,719.2 611.2,727.03 614.4,734.4C617.6,741.77 621.07,749.57 624,757C626.93,764.43 629.33,771.92 632,779C634.67,786.08 637.65,793.88 640,799.5C642.35,805.12 644.07,808.67 646.1,812.7C648.13,816.73 650.17,820.25 652.2,823.7C654.23,827.15 656.27,830.35 658.3,833.4C660.33,836.45 662.37,839.35 664.4,842C666.43,844.65 668.47,847.07 670.5,849.3C672.53,851.53 674.57,853.57 676.6,855.4C678.63,857.23 680.67,858.88 682.7,860.3C684.73,861.72 685.75,862.38 688.8,863.9C691.85,865.42 696.93,867.87 701,869.4C705.07,870.93 709.13,871.9 713.2,873.1C717.27,874.3 721.33,875.3 725.4,876.6C729.47,877.9 733.52,879.52 737.6,880.9C741.68,882.28 745.82,883.75 749.9,884.9C753.98,886.05 757.78,886.85 762.1,887.8C766.42,888.75 773.52,890.13 775.8,890.6" stroke="#2f8de4" stroke-width="3" fill="none" stroke-linejoin="round"/>
<text x="567.3" y="684.3" font-size="25" text-anchor="start" fill="#888888" >B</text>
<text x="645.5" y="781" font-size="25" text-anchor="start" fill="#2f8de4" >620 meV</text>
<path d="M868.5,259.5v-8.5M868.5,14.7v8.5M956.6,259.5v-8.5M956.6,14.7v8.5M1044.7,259.5v-8.5M1044.7,14.7v8.5M1132.8,259.5v-8.5M1132.8,14.7v8.5M912.55,259.5v-4.5M912.55,14.7v4.5M1000.65,259.5v-4.5M1000.65,14.7v4.5M1088.75,259.5v-4.5M1088.75,14.7v4.5M868.5,259.5h8.5M1132.8,259.5h-8.5M868.5,177.9h8.5M1132.8,177.9h-8.5M868.5,96.3h8.5M1132.8,96.3h-8.5M868.5,14.7h8.5M1132.8,14.7h-8.5M868.5,218.7h4.5M1132.8,218.7h-4.5M868.5,137.1h4.5M1132.8,137.1h-4.5M868.5,55.5h4.5M1132.8,55.5h-4.5" stroke="#000" stroke-width="1.5" fill="none"/>
<rect x="868.5" y="14.7" width="264.3" height="244.8" fill="none" stroke="#000" stroke-width="1.6"/>
<text x="868.5" y="285.5" font-size="20.5" text-anchor="middle" fill="#000" >0</text>
<text x="956.6" y="285.5" font-size="20.5" text-anchor="middle" fill="#000" >1</text>
<text x="1044.7" y="285.5" font-size="20.5" text-anchor="middle" fill="#000" >2</text>
<text x="1132.8" y="285.5" font-size="20.5" text-anchor="middle" fill="#000" >3</text>
<text x="858" y="265.7" font-size="20.5" text-anchor="end" fill="#000" >0.0</text>
<text x="858" y="184.1" font-size="20.5" text-anchor="end" fill="#000" >0.4</text>
<text x="858" y="102.5" font-size="20.5" text-anchor="end" fill="#000" >0.8</text>
<text x="858" y="20.9" font-size="20.5" text-anchor="end" fill="#000" >1.2</text>
<path d="M922,19.4V259.5" stroke="#808080" stroke-width="3.2" stroke-dasharray="8 7.5" stroke-dashoffset="0" fill="none"/>
<path d="M988,19.4V259.5" stroke="#808080" stroke-width="3.2" stroke-dasharray="8 7.5" stroke-dashoffset="0" fill="none"/>
<rect x="940" y="167.5" width="155" height="69.5" fill="#fff"/>
<path d="M866,259a2.8,2.8 0 1,0 5.6,0a2.8,2.8 0 1,0 -5.6,0M866.9,258.96a2.8,2.8 0 1,0 5.6,0a2.8,2.8 0 1,0 -5.6,0M867.8,258.85a2.8,2.8 0 1,0 5.6,0a2.8,2.8 0 1,0 -5.6,0M868.7,258.69a2.8,2.8 0 1,0 5.6,0a2.8,2.8 0 1,0 -5.6,0M869.6,258.51a2.8,2.8 0 1,0 5.6,0a2.8,2.8 0 1,0 -5.6,0M870.5,258.24a2.8,2.8 0 1,0 5.6,0a2.8,2.8 0 1,0 -5.6,0M871.4,257.85a2.8,2.8 0 1,0 5.6,0a2.8,2.8 0 1,0 -5.6,0M872.3,257.37a2.8,2.8 0 1,0 5.6,0a2.8,2.8 0 1,0 -5.6,0M873.2,256.79a2.8,2.8 0 1,0 5.6,0a2.8,2.8 0 1,0 -5.6,0M874.1,256.05a2.8,2.8 0 1,0 5.6,0a2.8,2.8 0 1,0 -5.6,0M875,254.92a2.8,2.8 0 1,0 5.6,0a2.8,2.8 0 1,0 -5.6,0M875.9,253.42a2.8,2.8 0 1,0 5.6,0a2.8,2.8 0 1,0 -5.6,0M876.8,251.65a2.8,2.8 0 1,0 5.6,0a2.8,2.8 0 1,0 -5.6,0M877.7,249.68a2.8,2.8 0 1,0 5.6,0a2.8,2.8 0 1,0 -5.6,0M878.6,247.56a2.8,2.8 0 1,0 5.6,0a2.8,2.8 0 1,0 -5.6,0M879.5,244.89a2.8,2.8 0 1,0 5.6,0a2.8,2.8 0 1,0 -5.6,0M880.4,241.75a2.8,2.8 0 1,0 5.6,0a2.8,2.8 0 1,0 -5.6,0M881.3,238.43a2.8,2.8 0 1,0 5.6,0a2.8,2.8 0 1,0 -5.6,0M882.2,235.15a2.8,2.8 0 1,0 5.6,0a2.8,2.8 0 1,0 -5.6,0M883.1,231.84a2.8,2.8 0 1,0 5.6,0a2.8,2.8 0 1,0 -5.6,0M884,228.38a2.8,2.8 0 1,0 5.6,0a2.8,2.8 0 1,0 -5.6,0M884.9,224.68a2.8,2.8 0 1,0 5.6,0a2.8,2.8 0 1,0 -5.6,0M885.8,220.68a2.8,2.8 0 1,0 5.6,0a2.8,2.8 0 1,0 -5.6,0M886.7,216.28a2.8,2.8 0 1,0 5.6,0a2.8,2.8 0 1,0 -5.6,0M887.6,211.38a2.8,2.8 0 1,0 5.6,0a2.8,2.8 0 1,0 -5.6,0M888.5,205.75a2.8,2.8 0 1,0 5.6,0a2.8,2.8 0 1,0 -5.6,0M889.4,199.43a2.8,2.8 0 1,0 5.6,0a2.8,2.8 0 1,0 -5.6,0M890.3,192.83a2.8,2.8 0 1,0 5.6,0a2.8,2.8 0 1,0 -5.6,0M891.2,185.98a2.8,2.8 0 1,0 5.6,0a2.8,2.8 0 1,0 -5.6,0M892.1,178.4a2.8,2.8 0 1,0 5.6,0a2.8,2.8 0 1,0 -5.6,0M893,169.41a2.8,2.8 0 1,0 5.6,0a2.8,2.8 0 1,0 -5.6,0M893.9,161.39a2.8,2.8 0 1,0 5.6,0a2.8,2.8 0 1,0 -5.6,0M894.8,154.92a2.8,2.8 0 1,0 5.6,0a2.8,2.8 0 1,0 -5.6,0M895.7,148.03a2.8,2.8 0 1,0 5.6,0a2.8,2.8 0 1,0 -5.6,0M896.6,139.91a2.8,2.8 0 1,0 5.6,0a2.8,2.8 0 1,0 -5.6,0M897.5,132.51a2.8,2.8 0 1,0 5.6,0a2.8,2.8 0 1,0 -5.6,0M898.4,126.04a2.8,2.8 0 1,0 5.6,0a2.8,2.8 0 1,0 -5.6,0M899.3,118.98a2.8,2.8 0 1,0 5.6,0a2.8,2.8 0 1,0 -5.6,0M900.2,110.89a2.8,2.8 0 1,0 5.6,0a2.8,2.8 0 1,0 -5.6,0M901.1,103.62a2.8,2.8 0 1,0 5.6,0a2.8,2.8 0 1,0 -5.6,0M902,97.04a2.8,2.8 0 1,0 5.6,0a2.8,2.8 0 1,0 -5.6,0M902.9,90.34a2.8,2.8 0 1,0 5.6,0a2.8,2.8 0 1,0 -5.6,0M903.8,83.53a2.8,2.8 0 1,0 5.6,0a2.8,2.8 0 1,0 -5.6,0M904.7,78.16a2.8,2.8 0 1,0 5.6,0a2.8,2.8 0 1,0 -5.6,0M905.6,73.59a2.8,2.8 0 1,0 5.6,0a2.8,2.8 0 1,0 -5.6,0M906.5,69.9a2.8,2.8 0 1,0 5.6,0a2.8,2.8 0 1,0 -5.6,0M907.4,66.87a2.8,2.8 0 1,0 5.6,0a2.8,2.8 0 1,0 -5.6,0M908.3,64.21a2.8,2.8 0 1,0 5.6,0a2.8,2.8 0 1,0 -5.6,0M909.2,62a2.8,2.8 0 1,0 5.6,0a2.8,2.8 0 1,0 -5.6,0M910.1,60.34a2.8,2.8 0 1,0 5.6,0a2.8,2.8 0 1,0 -5.6,0M911,59a2.8,2.8 0 1,0 5.6,0a2.8,2.8 0 1,0 -5.6,0M911.9,57.8a2.8,2.8 0 1,0 5.6,0a2.8,2.8 0 1,0 -5.6,0M912.8,56.78a2.8,2.8 0 1,0 5.6,0a2.8,2.8 0 1,0 -5.6,0M913.7,55.99a2.8,2.8 0 1,0 5.6,0a2.8,2.8 0 1,0 -5.6,0M914.6,55.44a2.8,2.8 0 1,0 5.6,0a2.8,2.8 0 1,0 -5.6,0M915.5,55.08a2.8,2.8 0 1,0 5.6,0a2.8,2.8 0 1,0 -5.6,0M916.4,54.76a2.8,2.8 0 1,0 5.6,0a2.8,2.8 0 1,0 -5.6,0M917.3,54.49a2.8,2.8 0 1,0 5.6,0a2.8,2.8 0 1,0 -5.6,0M918.2,54.3a2.8,2.8 0 1,0 5.6,0a2.8,2.8 0 1,0 -5.6,0M919.1,54.21a2.8,2.8 0 1,0 5.6,0a2.8,2.8 0 1,0 -5.6,0M920,54.21a2.8,2.8 0 1,0 5.6,0a2.8,2.8 0 1,0 -5.6,0M920.9,54.29a2.8,2.8 0 1,0 5.6,0a2.8,2.8 0 1,0 -5.6,0M921.8,54.42a2.8,2.8 0 1,0 5.6,0a2.8,2.8 0 1,0 -5.6,0M922.7,54.58a2.8,2.8 0 1,0 5.6,0a2.8,2.8 0 1,0 -5.6,0M923.6,54.79a2.8,2.8 0 1,0 5.6,0a2.8,2.8 0 1,0 -5.6,0M924.5,55.01a2.8,2.8 0 1,0 5.6,0a2.8,2.8 0 1,0 -5.6,0M925.4,55.24a2.8,2.8 0 1,0 5.6,0a2.8,2.8 0 1,0 -5.6,0M926.3,55.48a2.8,2.8 0 1,0 5.6,0a2.8,2.8 0 1,0 -5.6,0M927.2,55.7a2.8,2.8 0 1,0 5.6,0a2.8,2.8 0 1,0 -5.6,0M928.1,55.92a2.8,2.8 0 1,0 5.6,0a2.8,2.8 0 1,0 -5.6,0M929,56.15a2.8,2.8 0 1,0 5.6,0a2.8,2.8 0 1,0 -5.6,0M929.9,56.4a2.8,2.8 0 1,0 5.6,0a2.8,2.8 0 1,0 -5.6,0M930.8,56.67a2.8,2.8 0 1,0 5.6,0a2.8,2.8 0 1,0 -5.6,0M931.7,56.95a2.8,2.8 0 1,0 5.6,0a2.8,2.8 0 1,0 -5.6,0M932.6,57.23a2.8,2.8 0 1,0 5.6,0a2.8,2.8 0 1,0 -5.6,0M933.5,57.52a2.8,2.8 0 1,0 5.6,0a2.8,2.8 0 1,0 -5.6,0M934.4,57.81a2.8,2.8 0 1,0 5.6,0a2.8,2.8 0 1,0 -5.6,0M935.3,58.1a2.8,2.8 0 1,0 5.6,0a2.8,2.8 0 1,0 -5.6,0M936.2,58.39a2.8,2.8 0 1,0 5.6,0a2.8,2.8 0 1,0 -5.6,0M937.1,58.66a2.8,2.8 0 1,0 5.6,0a2.8,2.8 0 1,0 -5.6,0M938,58.92a2.8,2.8 0 1,0 5.6,0a2.8,2.8 0 1,0 -5.6,0M938.9,59.17a2.8,2.8 0 1,0 5.6,0a2.8,2.8 0 1,0 -5.6,0M939.8,59.4a2.8,2.8 0 1,0 5.6,0a2.8,2.8 0 1,0 -5.6,0M940.7,59.62a2.8,2.8 0 1,0 5.6,0a2.8,2.8 0 1,0 -5.6,0M941.6,59.83a2.8,2.8 0 1,0 5.6,0a2.8,2.8 0 1,0 -5.6,0M942.5,60.04a2.8,2.8 0 1,0 5.6,0a2.8,2.8 0 1,0 -5.6,0M943.4,60.24a2.8,2.8 0 1,0 5.6,0a2.8,2.8 0 1,0 -5.6,0M944.3,60.44a2.8,2.8 0 1,0 5.6,0a2.8,2.8 0 1,0 -5.6,0M945.2,60.63a2.8,2.8 0 1,0 5.6,0a2.8,2.8 0 1,0 -5.6,0M946.1,60.82a2.8,2.8 0 1,0 5.6,0a2.8,2.8 0 1,0 -5.6,0M947,61.01a2.8,2.8 0 1,0 5.6,0a2.8,2.8 0 1,0 -5.6,0M947.9,61.19a2.8,2.8 0 1,0 5.6,0a2.8,2.8 0 1,0 -5.6,0M948.8,61.38a2.8,2.8 0 1,0 5.6,0a2.8,2.8 0 1,0 -5.6,0M949.7,61.57a2.8,2.8 0 1,0 5.6,0a2.8,2.8 0 1,0 -5.6,0M950.6,61.76a2.8,2.8 0 1,0 5.6,0a2.8,2.8 0 1,0 -5.6,0M951.5,61.96a2.8,2.8 0 1,0 5.6,0a2.8,2.8 0 1,0 -5.6,0M952.4,62.15a2.8,2.8 0 1,0 5.6,0a2.8,2.8 0 1,0 -5.6,0M953.3,62.35a2.8,2.8 0 1,0 5.6,0a2.8,2.8 0 1,0 -5.6,0M954.2,62.54a2.8,2.8 0 1,0 5.6,0a2.8,2.8 0 1,0 -5.6,0M955.1,62.73a2.8,2.8 0 1,0 5.6,0a2.8,2.8 0 1,0 -5.6,0M956,62.92a2.8,2.8 0 1,0 5.6,0a2.8,2.8 0 1,0 -5.6,0M956.9,63.11a2.8,2.8 0 1,0 5.6,0a2.8,2.8 0 1,0 -5.6,0M957.8,63.3a2.8,2.8 0 1,0 5.6,0a2.8,2.8 0 1,0 -5.6,0M958.7,63.48a2.8,2.8 0 1,0 5.6,0a2.8,2.8 0 1,0 -5.6,0M959.6,63.67a2.8,2.8 0 1,0 5.6,0a2.8,2.8 0 1,0 -5.6,0M960.5,63.86a2.8,2.8 0 1,0 5.6,0a2.8,2.8 0 1,0 -5.6,0M961.4,64.04a2.8,2.8 0 1,0 5.6,0a2.8,2.8 0 1,0 -5.6,0M962.3,64.23a2.8,2.8 0 1,0 5.6,0a2.8,2.8 0 1,0 -5.6,0M963.2,64.41a2.8,2.8 0 1,0 5.6,0a2.8,2.8 0 1,0 -5.6,0M964.1,64.59a2.8,2.8 0 1,0 5.6,0a2.8,2.8 0 1,0 -5.6,0M965,64.78a2.8,2.8 0 1,0 5.6,0a2.8,2.8 0 1,0 -5.6,0M965.9,64.96a2.8,2.8 0 1,0 5.6,0a2.8,2.8 0 1,0 -5.6,0M966.8,65.15a2.8,2.8 0 1,0 5.6,0a2.8,2.8 0 1,0 -5.6,0M967.7,65.34a2.8,2.8 0 1,0 5.6,0a2.8,2.8 0 1,0 -5.6,0M968.6,65.52a2.8,2.8 0 1,0 5.6,0a2.8,2.8 0 1,0 -5.6,0M969.5,65.71a2.8,2.8 0 1,0 5.6,0a2.8,2.8 0 1,0 -5.6,0M970.4,65.9a2.8,2.8 0 1,0 5.6,0a2.8,2.8 0 1,0 -5.6,0M971.3,66.09a2.8,2.8 0 1,0 5.6,0a2.8,2.8 0 1,0 -5.6,0M972.2,66.28a2.8,2.8 0 1,0 5.6,0a2.8,2.8 0 1,0 -5.6,0M973.1,66.47a2.8,2.8 0 1,0 5.6,0a2.8,2.8 0 1,0 -5.6,0M974,66.67a2.8,2.8 0 1,0 5.6,0a2.8,2.8 0 1,0 -5.6,0M974.9,66.87a2.8,2.8 0 1,0 5.6,0a2.8,2.8 0 1,0 -5.6,0M975.8,67.07a2.8,2.8 0 1,0 5.6,0a2.8,2.8 0 1,0 -5.6,0M976.7,67.27a2.8,2.8 0 1,0 5.6,0a2.8,2.8 0 1,0 -5.6,0M977.6,67.47a2.8,2.8 0 1,0 5.6,0a2.8,2.8 0 1,0 -5.6,0M978.5,67.68a2.8,2.8 0 1,0 5.6,0a2.8,2.8 0 1,0 -5.6,0M979.4,67.88a2.8,2.8 0 1,0 5.6,0a2.8,2.8 0 1,0 -5.6,0M980.3,68.09a2.8,2.8 0 1,0 5.6,0a2.8,2.8 0 1,0 -5.6,0M981.2,68.31a2.8,2.8 0 1,0 5.6,0a2.8,2.8 0 1,0 -5.6,0M982.1,68.53a2.8,2.8 0 1,0 5.6,0a2.8,2.8 0 1,0 -5.6,0M983,68.75a2.8,2.8 0 1,0 5.6,0a2.8,2.8 0 1,0 -5.6,0M983.9,68.97a2.8,2.8 0 1,0 5.6,0a2.8,2.8 0 1,0 -5.6,0M984.8,69.2a2.8,2.8 0 1,0 5.6,0a2.8,2.8 0 1,0 -5.6,0M985.7,69.43a2.8,2.8 0 1,0 5.6,0a2.8,2.8 0 1,0 -5.6,0M986.6,69.66a2.8,2.8 0 1,0 5.6,0a2.8,2.8 0 1,0 -5.6,0M987.5,69.89a2.8,2.8 0 1,0 5.6,0a2.8,2.8 0 1,0 -5.6,0M988.4,70.13a2.8,2.8 0 1,0 5.6,0a2.8,2.8 0 1,0 -5.6,0M989.3,70.37a2.8,2.8 0 1,0 5.6,0a2.8,2.8 0 1,0 -5.6,0M990.2,70.61a2.8,2.8 0 1,0 5.6,0a2.8,2.8 0 1,0 -5.6,0M991.1,70.86a2.8,2.8 0 1,0 5.6,0a2.8,2.8 0 1,0 -5.6,0M992,71.11a2.8,2.8 0 1,0 5.6,0a2.8,2.8 0 1,0 -5.6,0M992.9,71.37a2.8,2.8 0 1,0 5.6,0a2.8,2.8 0 1,0 -5.6,0M993.8,71.63a2.8,2.8 0 1,0 5.6,0a2.8,2.8 0 1,0 -5.6,0M994.7,71.89a2.8,2.8 0 1,0 5.6,0a2.8,2.8 0 1,0 -5.6,0M995.6,72.17a2.8,2.8 0 1,0 5.6,0a2.8,2.8 0 1,0 -5.6,0M996.5,72.45a2.8,2.8 0 1,0 5.6,0a2.8,2.8 0 1,0 -5.6,0M997.4,72.74a2.8,2.8 0 1,0 5.6,0a2.8,2.8 0 1,0 -5.6,0M998.3,73.03a2.8,2.8 0 1,0 5.6,0a2.8,2.8 0 1,0 -5.6,0M999.2,73.34a2.8,2.8 0 1,0 5.6,0a2.8,2.8 0 1,0 -5.6,0M1000.1,73.65a2.8,2.8 0 1,0 5.6,0a2.8,2.8 0 1,0 -5.6,0M1001,73.98a2.8,2.8 0 1,0 5.6,0a2.8,2.8 0 1,0 -5.6,0M1001.9,74.31a2.8,2.8 0 1,0 5.6,0a2.8,2.8 0 1,0 -5.6,0M1002.8,74.66a2.8,2.8 0 1,0 5.6,0a2.8,2.8 0 1,0 -5.6,0M1003.7,75.03a2.8,2.8 0 1,0 5.6,0a2.8,2.8 0 1,0 -5.6,0M1004.6,75.41a2.8,2.8 0 1,0 5.6,0a2.8,2.8 0 1,0 -5.6,0M1005.5,75.81a2.8,2.8 0 1,0 5.6,0a2.8,2.8 0 1,0 -5.6,0M1006.4,76.22a2.8,2.8 0 1,0 5.6,0a2.8,2.8 0 1,0 -5.6,0M1007.3,76.65a2.8,2.8 0 1,0 5.6,0a2.8,2.8 0 1,0 -5.6,0M1008.2,77.09a2.8,2.8 0 1,0 5.6,0a2.8,2.8 0 1,0 -5.6,0M1009.1,77.54a2.8,2.8 0 1,0 5.6,0a2.8,2.8 0 1,0 -5.6,0M1010,77.99a2.8,2.8 0 1,0 5.6,0a2.8,2.8 0 1,0 -5.6,0M1010.9,78.46a2.8,2.8 0 1,0 5.6,0a2.8,2.8 0 1,0 -5.6,0M1011.8,78.94a2.8,2.8 0 1,0 5.6,0a2.8,2.8 0 1,0 -5.6,0M1012.7,79.42a2.8,2.8 0 1,0 5.6,0a2.8,2.8 0 1,0 -5.6,0M1013.6,79.91a2.8,2.8 0 1,0 5.6,0a2.8,2.8 0 1,0 -5.6,0M1014.5,80.41a2.8,2.8 0 1,0 5.6,0a2.8,2.8 0 1,0 -5.6,0M1015.4,80.91a2.8,2.8 0 1,0 5.6,0a2.8,2.8 0 1,0 -5.6,0M1016.3,81.42a2.8,2.8 0 1,0 5.6,0a2.8,2.8 0 1,0 -5.6,0M1017.2,81.93a2.8,2.8 0 1,0 5.6,0a2.8,2.8 0 1,0 -5.6,0M1018.1,82.44a2.8,2.8 0 1,0 5.6,0a2.8,2.8 0 1,0 -5.6,0M1019,82.96a2.8,2.8 0 1,0 5.6,0a2.8,2.8 0 1,0 -5.6,0M1019.9,83.48a2.8,2.8 0 1,0 5.6,0a2.8,2.8 0 1,0 -5.6,0M1020.8,84.01a2.8,2.8 0 1,0 5.6,0a2.8,2.8 0 1,0 -5.6,0M1021.7,84.54a2.8,2.8 0 1,0 5.6,0a2.8,2.8 0 1,0 -5.6,0M1022.6,85.08a2.8,2.8 0 1,0 5.6,0a2.8,2.8 0 1,0 -5.6,0M1023.5,85.63a2.8,2.8 0 1,0 5.6,0a2.8,2.8 0 1,0 -5.6,0M1024.4,86.19a2.8,2.8 0 1,0 5.6,0a2.8,2.8 0 1,0 -5.6,0M1025.3,86.75a2.8,2.8 0 1,0 5.6,0a2.8,2.8 0 1,0 -5.6,0M1026.2,87.32a2.8,2.8 0 1,0 5.6,0a2.8,2.8 0 1,0 -5.6,0M1027.1,87.91a2.8,2.8 0 1,0 5.6,0a2.8,2.8 0 1,0 -5.6,0M1028,88.5a2.8,2.8 0 1,0 5.6,0a2.8,2.8 0 1,0 -5.6,0M1028.9,89.1a2.8,2.8 0 1,0 5.6,0a2.8,2.8 0 1,0 -5.6,0M1029.8,89.71a2.8,2.8 0 1,0 5.6,0a2.8,2.8 0 1,0 -5.6,0M1030.7,90.33a2.8,2.8 0 1,0 5.6,0a2.8,2.8 0 1,0 -5.6,0M1031.6,90.96a2.8,2.8 0 1,0 5.6,0a2.8,2.8 0 1,0 -5.6,0M1032.5,91.6a2.8,2.8 0 1,0 5.6,0a2.8,2.8 0 1,0 -5.6,0M1033.4,92.25a2.8,2.8 0 1,0 5.6,0a2.8,2.8 0 1,0 -5.6,0M1034.3,92.92a2.8,2.8 0 1,0 5.6,0a2.8,2.8 0 1,0 -5.6,0M1035.2,93.59a2.8,2.8 0 1,0 5.6,0a2.8,2.8 0 1,0 -5.6,0M1036.1,94.28a2.8,2.8 0 1,0 5.6,0a2.8,2.8 0 1,0 -5.6,0M1037,94.98a2.8,2.8 0 1,0 5.6,0a2.8,2.8 0 1,0 -5.6,0M1037.9,95.7a2.8,2.8 0 1,0 5.6,0a2.8,2.8 0 1,0 -5.6,0M1038.8,96.43a2.8,2.8 0 1,0 5.6,0a2.8,2.8 0 1,0 -5.6,0M1039.7,97.19a2.8,2.8 0 1,0 5.6,0a2.8,2.8 0 1,0 -5.6,0M1040.6,97.98a2.8,2.8 0 1,0 5.6,0a2.8,2.8 0 1,0 -5.6,0M1041.5,98.78a2.8,2.8 0 1,0 5.6,0a2.8,2.8 0 1,0 -5.6,0M1042.4,99.61a2.8,2.8 0 1,0 5.6,0a2.8,2.8 0 1,0 -5.6,0M1043.3,100.45a2.8,2.8 0 1,0 5.6,0a2.8,2.8 0 1,0 -5.6,0M1044.2,101.32a2.8,2.8 0 1,0 5.6,0a2.8,2.8 0 1,0 -5.6,0M1045.1,102.2a2.8,2.8 0 1,0 5.6,0a2.8,2.8 0 1,0 -5.6,0M1046,103.09a2.8,2.8 0 1,0 5.6,0a2.8,2.8 0 1,0 -5.6,0M1046.9,104a2.8,2.8 0 1,0 5.6,0a2.8,2.8 0 1,0 -5.6,0M1047.8,104.92a2.8,2.8 0 1,0 5.6,0a2.8,2.8 0 1,0 -5.6,0M1048.7,105.85a2.8,2.8 0 1,0 5.6,0a2.8,2.8 0 1,0 -5.6,0M1049.6,106.8a2.8,2.8 0 1,0 5.6,0a2.8,2.8 0 1,0 -5.6,0M1050.5,107.75a2.8,2.8 0 1,0 5.6,0a2.8,2.8 0 1,0 -5.6,0M1051.4,108.7a2.8,2.8 0 1,0 5.6,0a2.8,2.8 0 1,0 -5.6,0M1052.3,109.67a2.8,2.8 0 1,0 5.6,0a2.8,2.8 0 1,0 -5.6,0M1053.2,110.64a2.8,2.8 0 1,0 5.6,0a2.8,2.8 0 1,0 -5.6,0M1054.1,111.61a2.8,2.8 0 1,0 5.6,0a2.8,2.8 0 1,0 -5.6,0M1055,112.58a2.8,2.8 0 1,0 5.6,0a2.8,2.8 0 1,0 -5.6,0M1055.9,113.56a2.8,2.8 0 1,0 5.6,0a2.8,2.8 0 1,0 -5.6,0M1056.8,114.53a2.8,2.8 0 1,0 5.6,0a2.8,2.8 0 1,0 -5.6,0M1057.7,115.5a2.8,2.8 0 1,0 5.6,0a2.8,2.8 0 1,0 -5.6,0M1058.6,116.48a2.8,2.8 0 1,0 5.6,0a2.8,2.8 0 1,0 -5.6,0M1059.5,117.5a2.8,2.8 0 1,0 5.6,0a2.8,2.8 0 1,0 -5.6,0M1060.4,118.53a2.8,2.8 0 1,0 5.6,0a2.8,2.8 0 1,0 -5.6,0M1061.3,119.59a2.8,2.8 0 1,0 5.6,0a2.8,2.8 0 1,0 -5.6,0M1062.2,120.67a2.8,2.8 0 1,0 5.6,0a2.8,2.8 0 1,0 -5.6,0M1063.1,121.76a2.8,2.8 0 1,0 5.6,0a2.8,2.8 0 1,0 -5.6,0M1064,122.86a2.8,2.8 0 1,0 5.6,0a2.8,2.8 0 1,0 -5.6,0M1064.9,123.97a2.8,2.8 0 1,0 5.6,0a2.8,2.8 0 1,0 -5.6,0M1065.8,125.08a2.8,2.8 0 1,0 5.6,0a2.8,2.8 0 1,0 -5.6,0M1066.7,126.2a2.8,2.8 0 1,0 5.6,0a2.8,2.8 0 1,0 -5.6,0M1067.6,127.32a2.8,2.8 0 1,0 5.6,0a2.8,2.8 0 1,0 -5.6,0M1068.5,128.43a2.8,2.8 0 1,0 5.6,0a2.8,2.8 0 1,0 -5.6,0M1069.4,129.53a2.8,2.8 0 1,0 5.6,0a2.8,2.8 0 1,0 -5.6,0M1070.3,130.63a2.8,2.8 0 1,0 5.6,0a2.8,2.8 0 1,0 -5.6,0M1071.2,131.71a2.8,2.8 0 1,0 5.6,0a2.8,2.8 0 1,0 -5.6,0M1072.1,132.77a2.8,2.8 0 1,0 5.6,0a2.8,2.8 0 1,0 -5.6,0M1073,133.81a2.8,2.8 0 1,0 5.6,0a2.8,2.8 0 1,0 -5.6,0M1073.9,134.83a2.8,2.8 0 1,0 5.6,0a2.8,2.8 0 1,0 -5.6,0M1074.8,135.82a2.8,2.8 0 1,0 5.6,0a2.8,2.8 0 1,0 -5.6,0M1075.7,136.78a2.8,2.8 0 1,0 5.6,0a2.8,2.8 0 1,0 -5.6,0M1076.6,137.71a2.8,2.8 0 1,0 5.6,0a2.8,2.8 0 1,0 -5.6,0M1077.5,138.6a2.8,2.8 0 1,0 5.6,0a2.8,2.8 0 1,0 -5.6,0M1078.4,139.47a2.8,2.8 0 1,0 5.6,0a2.8,2.8 0 1,0 -5.6,0M1079.3,140.33a2.8,2.8 0 1,0 5.6,0a2.8,2.8 0 1,0 -5.6,0M1080.2,141.18a2.8,2.8 0 1,0 5.6,0a2.8,2.8 0 1,0 -5.6,0M1081.1,142.02a2.8,2.8 0 1,0 5.6,0a2.8,2.8 0 1,0 -5.6,0M1082,142.85a2.8,2.8 0 1,0 5.6,0a2.8,2.8 0 1,0 -5.6,0M1082.9,143.67a2.8,2.8 0 1,0 5.6,0a2.8,2.8 0 1,0 -5.6,0M1083.8,144.48a2.8,2.8 0 1,0 5.6,0a2.8,2.8 0 1,0 -5.6,0M1084.7,145.28a2.8,2.8 0 1,0 5.6,0a2.8,2.8 0 1,0 -5.6,0M1085.6,146.06a2.8,2.8 0 1,0 5.6,0a2.8,2.8 0 1,0 -5.6,0M1086.5,146.84a2.8,2.8 0 1,0 5.6,0a2.8,2.8 0 1,0 -5.6,0M1087.4,147.6a2.8,2.8 0 1,0 5.6,0a2.8,2.8 0 1,0 -5.6,0M1088.3,148.35a2.8,2.8 0 1,0 5.6,0a2.8,2.8 0 1,0 -5.6,0M1089.2,149.08a2.8,2.8 0 1,0 5.6,0a2.8,2.8 0 1,0 -5.6,0M1090.1,149.8a2.8,2.8 0 1,0 5.6,0a2.8,2.8 0 1,0 -5.6,0M1091,150.51a2.8,2.8 0 1,0 5.6,0a2.8,2.8 0 1,0 -5.6,0M1091.9,151.2a2.8,2.8 0 1,0 5.6,0a2.8,2.8 0 1,0 -5.6,0M1092.8,151.88a2.8,2.8 0 1,0 5.6,0a2.8,2.8 0 1,0 -5.6,0M1093.7,152.53a2.8,2.8 0 1,0 5.6,0a2.8,2.8 0 1,0 -5.6,0M1094.6,153.18a2.8,2.8 0 1,0 5.6,0a2.8,2.8 0 1,0 -5.6,0M1095.5,153.8a2.8,2.8 0 1,0 5.6,0a2.8,2.8 0 1,0 -5.6,0M1096.4,154.41a2.8,2.8 0 1,0 5.6,0a2.8,2.8 0 1,0 -5.6,0M1097.3,155a2.8,2.8 0 1,0 5.6,0a2.8,2.8 0 1,0 -5.6,0M1098.2,155.58a2.8,2.8 0 1,0 5.6,0a2.8,2.8 0 1,0 -5.6,0M1099.1,156.15a2.8,2.8 0 1,0 5.6,0a2.8,2.8 0 1,0 -5.6,0M1100,156.73a2.8,2.8 0 1,0 5.6,0a2.8,2.8 0 1,0 -5.6,0M1100.9,157.29a2.8,2.8 0 1,0 5.6,0a2.8,2.8 0 1,0 -5.6,0M1101.8,157.85a2.8,2.8 0 1,0 5.6,0a2.8,2.8 0 1,0 -5.6,0M1102.7,158.41a2.8,2.8 0 1,0 5.6,0a2.8,2.8 0 1,0 -5.6,0M1103.6,158.96a2.8,2.8 0 1,0 5.6,0a2.8,2.8 0 1,0 -5.6,0M1104.5,159.51a2.8,2.8 0 1,0 5.6,0a2.8,2.8 0 1,0 -5.6,0M1105.4,160.05a2.8,2.8 0 1,0 5.6,0a2.8,2.8 0 1,0 -5.6,0M1106.3,160.59a2.8,2.8 0 1,0 5.6,0a2.8,2.8 0 1,0 -5.6,0M1107.2,161.12a2.8,2.8 0 1,0 5.6,0a2.8,2.8 0 1,0 -5.6,0M1108.1,161.64a2.8,2.8 0 1,0 5.6,0a2.8,2.8 0 1,0 -5.6,0M1109,162.16a2.8,2.8 0 1,0 5.6,0a2.8,2.8 0 1,0 -5.6,0M1109.9,162.67a2.8,2.8 0 1,0 5.6,0a2.8,2.8 0 1,0 -5.6,0M1110.8,163.17a2.8,2.8 0 1,0 5.6,0a2.8,2.8 0 1,0 -5.6,0M1111.7,163.67a2.8,2.8 0 1,0 5.6,0a2.8,2.8 0 1,0 -5.6,0M1112.6,164.15a2.8,2.8 0 1,0 5.6,0a2.8,2.8 0 1,0 -5.6,0M1113.5,164.63a2.8,2.8 0 1,0 5.6,0a2.8,2.8 0 1,0 -5.6,0M1114.4,165.1a2.8,2.8 0 1,0 5.6,0a2.8,2.8 0 1,0 -5.6,0M1115.3,165.57a2.8,2.8 0 1,0 5.6,0a2.8,2.8 0 1,0 -5.6,0M1116.2,166.02a2.8,2.8 0 1,0 5.6,0a2.8,2.8 0 1,0 -5.6,0M1117.1,166.47a2.8,2.8 0 1,0 5.6,0a2.8,2.8 0 1,0 -5.6,0M1118,166.9a2.8,2.8 0 1,0 5.6,0a2.8,2.8 0 1,0 -5.6,0M1118.9,167.33a2.8,2.8 0 1,0 5.6,0a2.8,2.8 0 1,0 -5.6,0M1119.8,167.74a2.8,2.8 0 1,0 5.6,0a2.8,2.8 0 1,0 -5.6,0M1120.7,168.15a2.8,2.8 0 1,0 5.6,0a2.8,2.8 0 1,0 -5.6,0M1121.6,168.55a2.8,2.8 0 1,0 5.6,0a2.8,2.8 0 1,0 -5.6,0M1122.5,168.93a2.8,2.8 0 1,0 5.6,0a2.8,2.8 0 1,0 -5.6,0M1123.4,169.31a2.8,2.8 0 1,0 5.6,0a2.8,2.8 0 1,0 -5.6,0M1124.3,169.67a2.8,2.8 0 1,0 5.6,0a2.8,2.8 0 1,0 -5.6,0M1125.2,170.02a2.8,2.8 0 1,0 5.6,0a2.8,2.8 0 1,0 -5.6,0M1126.1,170.36a2.8,2.8 0 1,0 5.6,0a2.8,2.8 0 1,0 -5.6,0M1127,170.69a2.8,2.8 0 1,0 5.6,0a2.8,2.8 0 1,0 -5.6,0M1127.9,171.01a2.8,2.8 0 1,0 5.6,0a2.8,2.8 0 1,0 -5.6,0M1128.8,171.31a2.8,2.8 0 1,0 5.6,0a2.8,2.8 0 1,0 -5.6,0M1129.7,171.6a2.8,2.8 0 1,0 5.6,0a2.8,2.8 0 1,0 -5.6,0" fill="#800000"/>
<text x="890.5" y="49.5" font-size="25" text-anchor="start" fill="#888888" >A</text>
<text x="963" y="49.5" font-size="25" text-anchor="start" fill="#888888" >B</text>
<text x="945" y="194.5" font-size="25" text-anchor="start" fill="#800000" >619 meV</text>
<text x="945" y="227.5" font-size="25" text-anchor="start" fill="#800000" ><tspan font-style="italic">P</tspan> = 67 W/cm<tspan font-size="16" dy="-10">2</tspan></text>
<path d="M868.5,578.5v-8.5M868.5,333.4v8.5M956.67,578.5v-8.5M956.67,333.4v8.5M1044.83,578.5v-8.5M1044.83,333.4v8.5M1133,578.5v-8.5M1133,333.4v8.5M912.58,578.5v-4.5M912.58,333.4v4.5M1000.75,578.5v-4.5M1000.75,333.4v4.5M1088.92,578.5v-4.5M1088.92,333.4v4.5M868.5,578.5h8.5M1133,578.5h-8.5M868.5,496.8h8.5M1133,496.8h-8.5M868.5,415.1h8.5M1133,415.1h-8.5M868.5,333.4h8.5M1133,333.4h-8.5M868.5,537.65h4.5M1133,537.65h-4.5M868.5,455.95h4.5M1133,455.95h-4.5M868.5,374.25h4.5M1133,374.25h-4.5" stroke="#000" stroke-width="1.5" fill="none"/>
<rect x="868.5" y="333.4" width="264.5" height="245.1" fill="none" stroke="#000" stroke-width="1.6"/>
<text x="868.5" y="604.5" font-size="20.5" text-anchor="middle" fill="#000" >0</text>
<text x="956.67" y="604.5" font-size="20.5" text-anchor="middle" fill="#000" >1</text>
<text x="1044.83" y="604.5" font-size="20.5" text-anchor="middle" fill="#000" >2</text>
<text x="1133" y="604.5" font-size="20.5" text-anchor="middle" fill="#000" >3</text>
<text x="858" y="584.7" font-size="20.5" text-anchor="end" fill="#000" >0.0</text>
<text x="858" y="503" font-size="20.5" text-anchor="end" fill="#000" >0.4</text>
<text x="858" y="421.3" font-size="20.5" text-anchor="end" fill="#000" >0.8</text>
<text x="858" y="339.6" font-size="20.5" text-anchor="end" fill="#000" >1.2</text>
<path d="M922.6,338.1V578.5" stroke="#808080" stroke-width="3.2" stroke-dasharray="8 7.5" stroke-dashoffset="0" fill="none"/>
<path d="M989,338.1V578.5" stroke="#808080" stroke-width="3.2" stroke-dasharray="8 7.5" stroke-dashoffset="0" fill="none"/>
<rect x="948" y="495" width="160" height="73" fill="#fff"/>
<path d="M868.5,578.3C869.72,577.58 873.48,576.92 875.8,574C878.12,571.08 880.2,566.3 882.4,560.8C884.6,555.3 886.8,547.03 889,541C891.2,534.97 893.4,528.98 895.6,524.6C897.8,520.22 898.9,519.1 902.2,514.7C905.5,510.3 911.55,503.15 915.4,498.2C919.25,493.25 922,490.5 925.3,485C928.6,479.5 931.9,472.35 935.2,465.2C938.5,458.05 941.8,449.8 945.1,442.1C948.4,434.4 951.7,426.7 955,419C958.3,411.3 961.6,402.23 964.9,395.9C968.2,389.57 970.95,384.58 974.8,381C978.65,377.42 984.15,374.67 988,374.4C991.85,374.13 994.07,375.82 997.9,379.4C1001.73,382.98 1006.07,389.85 1011,395.9C1015.93,401.95 1022,410.2 1027.5,415.7C1033,421.2 1038.5,424.5 1044,428.9C1049.5,433.3 1055,437.7 1060.5,442.1C1066,446.5 1070.95,450.35 1077,455.3C1083.05,460.25 1090.75,467.95 1096.8,471.8C1102.85,475.65 1107.27,475.93 1113.3,478.4C1119.33,480.87 1129.72,485.23 1133,486.6" stroke="#6a9a82" stroke-width="6.5" fill="none" stroke-linejoin="round"/>
<text x="895.5" y="470" font-size="25" text-anchor="start" fill="#888888" >A</text>
<text x="963" y="368" font-size="25" text-anchor="start" fill="#888888" >B</text>
<text x="953" y="521" font-size="25" text-anchor="start" fill="#6a9a82" >365 meV</text>
<text x="953" y="554" font-size="25" text-anchor="start" fill="#6a9a82" ><tspan font-style="italic">P</tspan> = 6.6 W/cm<tspan font-size="16" dy="-10">2</tspan></text>
<path d="M868.5,897.7v-8.5M868.5,652.6v8.5M956.73,897.7v-8.5M956.73,652.6v8.5M1044.97,897.7v-8.5M1044.97,652.6v8.5M1133.2,897.7v-8.5M1133.2,652.6v8.5M912.62,897.7v-4.5M912.62,652.6v4.5M1000.85,897.7v-4.5M1000.85,652.6v4.5M1089.08,897.7v-4.5M1089.08,652.6v4.5M868.5,897.7h8.5M1133.2,897.7h-8.5M868.5,816h8.5M1133.2,816h-8.5M868.5,734.3h8.5M1133.2,734.3h-8.5M868.5,652.6h8.5M1133.2,652.6h-8.5M868.5,856.85h4.5M1133.2,856.85h-4.5M868.5,775.15h4.5M1133.2,775.15h-4.5M868.5,693.45h4.5M1133.2,693.45h-4.5" stroke="#000" stroke-width="1.5" fill="none"/>
<rect x="868.5" y="652.6" width="264.7" height="245.1" fill="none" stroke="#000" stroke-width="1.6"/>
<text x="868.5" y="923.7" font-size="20.5" text-anchor="middle" fill="#000" >0</text>
<text x="956.73" y="923.7" font-size="20.5" text-anchor="middle" fill="#000" >1</text>
<text x="1044.97" y="923.7" font-size="20.5" text-anchor="middle" fill="#000" >2</text>
<text x="1133.2" y="923.7" font-size="20.5" text-anchor="middle" fill="#000" >3</text>
<text x="858" y="903.9" font-size="20.5" text-anchor="end" fill="#000" >0.0</text>
<text x="858" y="822.2" font-size="20.5" text-anchor="end" fill="#000" >0.4</text>
<text x="858" y="740.5" font-size="20.5" text-anchor="end" fill="#000" >0.8</text>
<text x="858" y="658.8" font-size="20.5" text-anchor="end" fill="#000" >1.2</text>
<path d="M923.2,657.3V897.7" stroke="#808080" stroke-width="3.2" stroke-dasharray="8 7.5" stroke-dashoffset="0" fill="none"/>
<path d="M989,657.3V897.7" stroke="#808080" stroke-width="3.2" stroke-dasharray="8 7.5" stroke-dashoffset="0" fill="none"/>
<rect x="895" y="813.8" width="160" height="64.9" fill="#fff"/>
<path d="M871.25,896.25C871.88,894.79 873.54,891.88 875,887.5C876.46,883.12 878.33,876.25 880,870C881.67,863.75 883.33,857.5 885,850C886.67,842.5 888.33,833.33 890,825C891.67,816.67 893.33,807.5 895,800C896.67,792.5 898.33,785.83 900,780C901.67,774.17 902.92,769.17 905,765C907.08,760.83 909.58,757.71 912.5,755C915.42,752.29 919.17,751.04 922.5,748.75C925.83,746.46 929.17,744.38 932.5,741.25C935.83,738.12 939.17,734.38 942.5,730C945.83,725.62 949.17,720 952.5,715C955.83,710 959.38,703.75 962.5,700C965.62,696.25 968.75,693.33 971.25,692.5C973.75,691.67 975.42,693.75 977.5,695C979.58,696.25 981.67,697.5 983.75,700C985.83,702.5 987.71,706.25 990,710C992.29,713.75 995,717.92 997.5,722.5C1000,727.08 1002.5,732.5 1005,737.5C1007.5,742.5 1010,747.92 1012.5,752.5C1015,757.08 1017.5,760.83 1020,765C1022.5,769.17 1025,773.75 1027.5,777.5C1030,781.25 1032.29,784.79 1035,787.5C1037.71,790.21 1042.29,792.71 1043.75,793.75" stroke="#2f8de4" stroke-width="9" fill="none" stroke-linejoin="round" stroke-linecap="round"/>
<path d="M872.5,891.77L877.2,899.91L867.8,899.91ZM877.5,883.02L882.2,891.16L872.8,891.16ZM882,868.02L886.7,876.16L877.3,876.16ZM887,849.27L891.7,857.41L882.3,857.41ZM891.25,823.02L895.95,831.16L886.55,831.16ZM895,805.52L899.7,813.66L890.3,813.66ZM900,796.77L904.7,804.91L895.3,804.91ZM905,789.27L909.7,797.41L900.3,797.41ZM909.5,784.27L914.2,792.41L904.8,792.41ZM913.75,779.27L918.45,787.41L909.05,787.41ZM918.75,774.27L923.45,782.41L914.05,782.41ZM923.75,769.27L928.45,777.41L919.05,777.41ZM928.75,764.27L933.45,772.41L924.05,772.41ZM933.75,759.27L938.45,767.41L929.05,767.41ZM940,748.02L944.7,756.16L935.3,756.16ZM944.5,733.02L949.2,741.16L939.8,741.16ZM950,726.77L954.7,734.91L945.3,734.91ZM955,720.52L959.7,728.66L950.3,728.66ZM957.5,714.27L962.2,722.41L952.8,722.41ZM962,704.27L966.7,712.41L957.3,712.41ZM966,696.77L970.7,704.91L961.3,704.91ZM970,694.27L974.7,702.41L965.3,702.41ZM975,695.52L979.7,703.66L970.3,703.66ZM978.75,695.52L983.45,703.66L974.05,703.66ZM983.75,687.52L988.45,695.66L979.05,695.66ZM987.5,695.52L992.2,703.66L982.8,703.66ZM992.5,700.02L997.2,708.16L987.8,708.16ZM997,713.02L1001.7,721.16L992.3,721.16ZM1001.25,718.02L1005.95,726.16L996.55,726.16ZM1005.75,725.52L1010.45,733.66L1001.05,733.66ZM1008.75,745.52L1013.45,753.66L1004.05,753.66ZM1013.75,748.02L1018.45,756.16L1009.05,756.16ZM1017.5,761.77L1022.2,769.91L1012.8,769.91ZM1022.5,765.52L1027.2,773.66L1017.8,773.66ZM1027,773.02L1031.7,781.16L1022.3,781.16ZM1031.25,780.52L1035.95,788.66L1026.55,788.66ZM1036.25,778.02L1040.95,786.16L1031.55,786.16ZM1040,794.27L1044.7,802.41L1035.3,802.41ZM1045,793.02L1049.7,801.16L1040.3,801.16ZM1053.75,794.27L1058.45,802.41L1049.05,802.41ZM1058.75,799.27L1063.45,807.41L1054.05,807.41ZM1062.5,818.02L1067.2,826.16L1057.8,826.16ZM1067.5,815.52L1072.2,823.66L1062.8,823.66ZM1071.75,804.27L1076.45,812.41L1067.05,812.41ZM1075.75,810.52L1080.45,818.66L1071.05,818.66ZM1080.5,827.52L1085.2,835.66L1075.8,835.66ZM1085,821.77L1089.7,829.91L1080.3,829.91ZM1089.5,844.27L1094.2,852.41L1084.8,852.41Z" stroke="#2f8de4" stroke-width="2.2" fill="#fff" stroke-linejoin="miter"/>
<circle cx="908.7" cy="832.5" r="4.1" fill="#2f8de4"/>
<path d="M908.4,857.52L913.1,865.66L903.7,865.66Z" stroke="#2f8de4" stroke-width="2.4" fill="none"/>
<text x="934" y="839.5" font-size="22.5" text-anchor="start" fill="#2f8de4" >5.6 mW/cm<tspan font-size="14" dy="-9">2</tspan></text>
<text x="934" y="870.1" font-size="22.5" text-anchor="start" fill="#2f8de4" >67 mW/cm<tspan font-size="14" dy="-9">2</tspan></text>
<text x="895.8" y="744.4" font-size="25" text-anchor="start" fill="#888888" >A</text>
<text x="944.3" y="686.8" font-size="25" text-anchor="start" fill="#888888" >B</text>
<text x="458.8" y="169.2" font-size="25" transform="rotate(-90 458.8 169.2)">Δ<tspan font-style="italic">V</tspan><tspan font-size="17" dy="7">ph</tspan><tspan dy="-7"> [V]</tspan></text>
<text x="458.8" y="488.5" font-size="25" transform="rotate(-90 458.8 488.5)">Δ<tspan font-style="italic">V</tspan><tspan font-size="17" dy="7">ph</tspan><tspan dy="-7"> [V]</tspan></text>
<text x="458.8" y="819.2" font-size="25" transform="rotate(-90 458.8 819.2)">Δ<tspan font-style="italic">V</tspan><tspan font-size="17" dy="7">ph</tspan><tspan dy="-7"> [mV]</tspan></text>
<text x="819.5" y="137.1" font-size="25" text-anchor="middle" transform="rotate(-90 819.5 137.1)">Norm. Photocurrent</text>
<text x="819.5" y="456" font-size="25" text-anchor="middle" transform="rotate(-90 819.5 456)">Norm. Photocurrent</text>
<text x="819.5" y="775.1" font-size="25" text-anchor="middle" transform="rotate(-90 819.5 775.1)">Norm. Photocurrent</text>
<text x="643.5" y="952.7" font-size="25" text-anchor="middle" fill="#000" >Voltage [V]</text>
<text x="1000.7" y="955" font-size="25" text-anchor="middle" fill="#000" >Voltage [V]</text>
<text x="642.8" y="316" font-size="27.5" text-anchor="middle" fill="#000" >(c)</text>
<text x="642.8" y="634.2" font-size="27.5" text-anchor="middle" fill="#000" >(d)</text>
<text x="643" y="988.1" font-size="27.5" text-anchor="middle" fill="#000" >(e)</text>
<text x="1002.2" y="316" font-size="27.5" text-anchor="middle" fill="#000" >(f)</text>
<text x="1002" y="634.4" font-size="27.5" text-anchor="middle" fill="#000" >(g)</text>
<text x="1001.4" y="990" font-size="27.5" text-anchor="middle" fill="#000" >(h)</text>
<path d="M370.5,172.3H420" stroke="#000" stroke-width="3.6" stroke-dasharray="19.5 8.5 5 8.5" fill="none"/>
<path d="M446,172.2L409,184.4L419,172.2L409,160Z" fill="#000"/>
<path d="M370.5,296.6C395,297 418,309 436,330" stroke="#000" stroke-width="3.3" stroke-dasharray="19 8.5 5 8.5" fill="none"/>
<path d="M456,357L421.52,338.86L437.24,337.58L439.07,321.91Z" fill="#000"/>
<path d="M370.5,688.8C385,689.5 398,694 412,705" stroke="#000" stroke-width="3.3" stroke-dasharray="19 8.5 5 8.5" fill="none"/>
<path d="M436,724.3L398,715.7L412.86,710.39L410.57,694.79Z" fill="#000"/></svg></body></html>
